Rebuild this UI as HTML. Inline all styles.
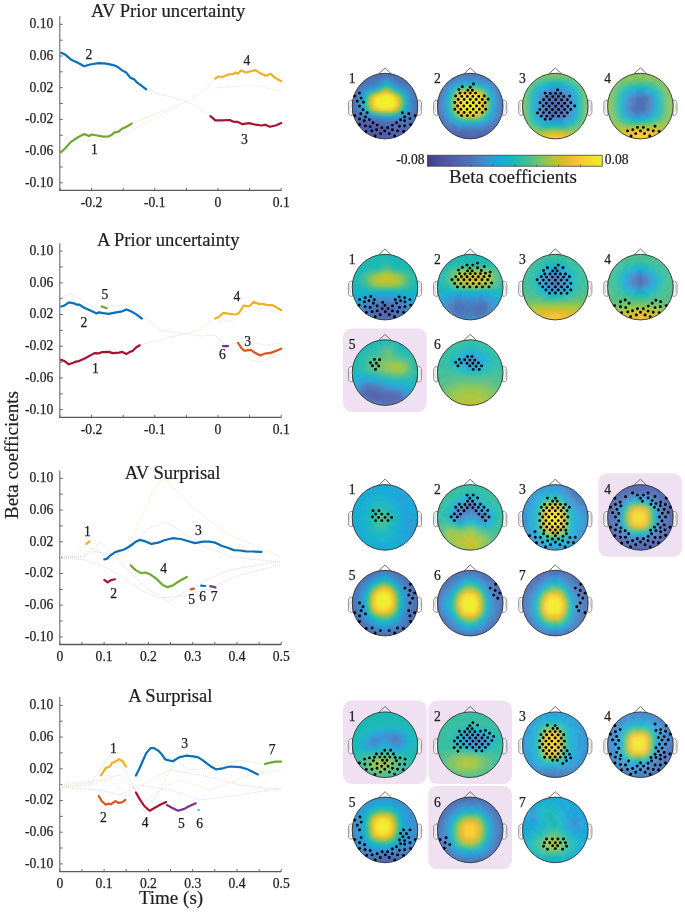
<!DOCTYPE html>
<html><head><meta charset="utf-8"><style>
html,body{margin:0;padding:0;background:#fff;}
svg{display:block;will-change:transform;filter:blur(0.3px)}
.t{font-family:'Liberation Serif',serif;font-size:13.6px;fill:#1e1e1e;stroke:#1e1e1e;stroke-width:0.25px}
.ti{font-family:'Liberation Serif',serif;font-size:18.6px;fill:#1e1e1e;stroke:#1e1e1e;stroke-width:0.2px}
.al{font-family:'Liberation Serif',serif;font-size:19px;fill:#1e1e1e;stroke:#1e1e1e;stroke-width:0.2px}
</style></head><body>
<svg width="685" height="912" viewBox="0 0 685 912">
<rect width="685" height="912" fill="#fff"/>
<path d="M59.75 16.1V190.4" stroke="#8c8c8c" stroke-width="1.4" fill="none"/>
<path d="M59.05 190.4H281.3" stroke="#5a5a5a" stroke-width="1.3" fill="none"/>
<path d="M59.75 24.3h3M59.75 40.2h3M59.75 56.0h3M59.75 71.8h3M59.75 87.7h3M59.75 103.5h3M59.75 119.4h3M59.75 135.3h3M59.75 151.1h3M59.75 167.0h3M59.75 182.8h3M60.0 190.4v-2.6M91.6 190.4v-2.6M123.2 190.4v-2.6M154.8 190.4v-2.6M186.4 190.4v-2.6M218.0 190.4v-2.6M249.6 190.4v-2.6M281.2 190.4v-2.6" stroke="#6a6a6a" stroke-width="1" fill="none"/>
<text x="53.3" y="28.2" text-anchor="end" class="t">0.10</text>
<text x="53.3" y="59.9" text-anchor="end" class="t">0.06</text>
<text x="53.3" y="91.6" text-anchor="end" class="t">0.02</text>
<text x="53.3" y="123.3" text-anchor="end" class="t">-0.02</text>
<text x="53.3" y="155.0" text-anchor="end" class="t">-0.06</text>
<text x="53.3" y="186.7" text-anchor="end" class="t">-0.10</text>
<text x="91.6" y="206.7" text-anchor="middle" class="t">-0.2</text>
<text x="154.8" y="206.7" text-anchor="middle" class="t">-0.1</text>
<text x="218.0" y="206.7" text-anchor="middle" class="t">0</text>
<text x="281.2" y="206.7" text-anchor="middle" class="t">0.1</text>
<text x="168.1" y="16.9" text-anchor="middle" class="ti">AV Prior uncertainty</text>
<path d="M59.75 243.2V417.4" stroke="#8c8c8c" stroke-width="1.4" fill="none"/>
<path d="M59.05 417.4H281.3" stroke="#5a5a5a" stroke-width="1.3" fill="none"/>
<path d="M59.75 251.1h3M59.75 266.9h3M59.75 282.8h3M59.75 298.6h3M59.75 314.5h3M59.75 330.4h3M59.75 346.2h3M59.75 362.1h3M59.75 377.9h3M59.75 393.8h3M59.75 409.6h3M60.0 417.4v-2.6M91.6 417.4v-2.6M123.2 417.4v-2.6M154.8 417.4v-2.6M186.4 417.4v-2.6M218.0 417.4v-2.6M249.6 417.4v-2.6M281.2 417.4v-2.6" stroke="#6a6a6a" stroke-width="1" fill="none"/>
<text x="53.3" y="255.0" text-anchor="end" class="t">0.10</text>
<text x="53.3" y="286.7" text-anchor="end" class="t">0.06</text>
<text x="53.3" y="318.4" text-anchor="end" class="t">0.02</text>
<text x="53.3" y="350.1" text-anchor="end" class="t">-0.02</text>
<text x="53.3" y="381.8" text-anchor="end" class="t">-0.06</text>
<text x="53.3" y="413.5" text-anchor="end" class="t">-0.10</text>
<text x="91.6" y="433.7" text-anchor="middle" class="t">-0.2</text>
<text x="154.8" y="433.7" text-anchor="middle" class="t">-0.1</text>
<text x="218.0" y="433.7" text-anchor="middle" class="t">0</text>
<text x="281.2" y="433.7" text-anchor="middle" class="t">0.1</text>
<text x="168.2" y="246.0" text-anchor="middle" class="ti">A Prior uncertainty</text>
<path d="M59.75 470.4V644.5" stroke="#8c8c8c" stroke-width="1.4" fill="none"/>
<path d="M59.05 644.5H281.3" stroke="#5a5a5a" stroke-width="1.3" fill="none"/>
<path d="M59.75 478.4h3M59.75 494.2h3M59.75 510.1h3M59.75 525.9h3M59.75 541.8h3M59.75 557.6h3M59.75 573.5h3M59.75 589.4h3M59.75 605.2h3M59.75 621.0h3M59.75 636.9h3M59.8 644.5v-2.6M81.9 644.5v-2.6M104.1 644.5v-2.6M126.2 644.5v-2.6M148.4 644.5v-2.6M170.5 644.5v-2.6M192.7 644.5v-2.6M214.8 644.5v-2.6M237.0 644.5v-2.6M259.1 644.5v-2.6M281.2 644.5v-2.6" stroke="#6a6a6a" stroke-width="1" fill="none"/>
<text x="53.3" y="482.3" text-anchor="end" class="t">0.10</text>
<text x="53.3" y="514.0" text-anchor="end" class="t">0.06</text>
<text x="53.3" y="545.7" text-anchor="end" class="t">0.02</text>
<text x="53.3" y="577.4" text-anchor="end" class="t">-0.02</text>
<text x="53.3" y="609.1" text-anchor="end" class="t">-0.06</text>
<text x="53.3" y="640.8" text-anchor="end" class="t">-0.10</text>
<text x="59.8" y="660.8" text-anchor="middle" class="t">0</text>
<text x="104.1" y="660.8" text-anchor="middle" class="t">0.1</text>
<text x="148.4" y="660.8" text-anchor="middle" class="t">0.2</text>
<text x="192.7" y="660.8" text-anchor="middle" class="t">0.3</text>
<text x="237.0" y="660.8" text-anchor="middle" class="t">0.4</text>
<text x="281.2" y="660.8" text-anchor="middle" class="t">0.5</text>
<text x="172.6" y="478.7" text-anchor="middle" class="ti">AV Surprisal</text>
<path d="M59.75 697.1V871.6" stroke="#8c8c8c" stroke-width="1.4" fill="none"/>
<path d="M59.05 871.6H281.3" stroke="#5a5a5a" stroke-width="1.3" fill="none"/>
<path d="M59.75 705.4h3M59.75 721.2h3M59.75 737.1h3M59.75 752.9h3M59.75 768.8h3M59.75 784.6h3M59.75 800.5h3M59.75 816.4h3M59.75 832.2h3M59.75 848.0h3M59.75 863.9h3M59.8 871.6v-2.6M81.9 871.6v-2.6M104.1 871.6v-2.6M126.2 871.6v-2.6M148.4 871.6v-2.6M170.5 871.6v-2.6M192.7 871.6v-2.6M214.8 871.6v-2.6M237.0 871.6v-2.6M259.1 871.6v-2.6M281.2 871.6v-2.6" stroke="#6a6a6a" stroke-width="1" fill="none"/>
<text x="53.3" y="709.3" text-anchor="end" class="t">0.10</text>
<text x="53.3" y="741.0" text-anchor="end" class="t">0.06</text>
<text x="53.3" y="772.7" text-anchor="end" class="t">0.02</text>
<text x="53.3" y="804.4" text-anchor="end" class="t">-0.02</text>
<text x="53.3" y="836.1" text-anchor="end" class="t">-0.06</text>
<text x="53.3" y="867.8" text-anchor="end" class="t">-0.10</text>
<text x="59.8" y="887.9" text-anchor="middle" class="t">0</text>
<text x="104.1" y="887.9" text-anchor="middle" class="t">0.1</text>
<text x="148.4" y="887.9" text-anchor="middle" class="t">0.2</text>
<text x="192.7" y="887.9" text-anchor="middle" class="t">0.3</text>
<text x="237.0" y="887.9" text-anchor="middle" class="t">0.4</text>
<text x="281.2" y="887.9" text-anchor="middle" class="t">0.5</text>
<text x="170.4" y="701.9" text-anchor="middle" class="ti">A Surprisal</text>
<path d="M146.0 89.0 160.0 94.0 175.0 98.0 190.0 103.0 200.0 108.0 210.0 116.0" stroke="#d9dcec" stroke-width="1" fill="none" stroke-dasharray="1 1"/>
<path d="M131.0 124.0 145.0 118.0 160.0 112.0 175.0 106.0 190.0 100.0 200.0 93.0 210.0 85.0 215.0 79.0" stroke="#f0dfb8" stroke-width="1" fill="none" stroke-dasharray="1 1"/>
<path d="M215.0 88.0 240.0 86.0 260.0 86.0 281.0 92.0" stroke="#e6e9c8" stroke-width="1" fill="none" stroke-dasharray="1 1"/>
<path d="M62.0 157.0 80.0 141.0 100.0 140.0 120.0 137.0 140.0 126.0 160.0 115.0 180.0 106.0" stroke="#e3ecd6" stroke-width="1" fill="none" stroke-dasharray="1 1"/>
<path d="M61.0 298.0 69.0 294.0 77.0 297.0 96.0 309.0 103.0 306.0 127.0 305.0 142.0 315.0 160.0 330.0 180.0 333.0 200.0 336.0 215.0 335.0 225.0 345.0 238.0 343.0" stroke="#d9dcec" stroke-width="1" fill="none" stroke-dasharray="1 1"/>
<path d="M140.0 345.0 160.0 340.0 180.0 335.0 200.0 330.0 215.0 318.0" stroke="#f0dcc8" stroke-width="1" fill="none" stroke-dasharray="1 1"/>
<path d="M238.0 348.0 250.0 360.0 260.0 362.0 281.0 354.0" stroke="#e8dada" stroke-width="1" fill="none" stroke-dasharray="1 1"/>
<path d="M218.0 322.0 235.0 320.0 243.0 312.0 255.0 308.0 270.0 310.0 281.0 314.0" stroke="#efe0c8" stroke-width="1" fill="none" stroke-dasharray="1 1"/>
<path d="M238.0 343.0 250.0 342.0 265.0 345.0 281.0 343.0" stroke="#e4dde8" stroke-width="1" fill="none" stroke-dasharray="1 1"/>
<path d="M60.0 557.0 75.0 556.0 86.0 544.0 95.0 552.0 125.0 555.0 140.0 520.0 155.0 487.0 165.0 478.0 175.0 490.0 190.0 505.0 209.0 520.0 230.0 535.0 259.0 547.0 280.0 557.0" stroke="#f3e2b8" stroke-width="1" fill="none" stroke-dasharray="1 1"/>
<path d="M60.0 557.0 85.0 556.0 101.0 542.0 112.0 555.0 125.0 567.0 145.0 587.0 169.0 602.0 192.0 587.0 226.0 571.0 280.0 561.0" stroke="#efd0d0" stroke-width="1" fill="none" stroke-dasharray="1 1"/>
<path d="M60.0 557.0 80.0 558.0 98.0 550.0 110.0 560.0 130.0 545.0 150.0 528.0 165.0 522.0 180.0 530.0 200.0 545.0 230.0 556.0 260.0 560.0 280.0 562.0" stroke="#d6dcf0" stroke-width="1" fill="none" stroke-dasharray="1 1"/>
<path d="M60.0 558.0 85.0 560.0 100.0 565.0 120.0 575.0 140.0 590.0 160.0 598.0 185.0 596.0 210.0 588.0 240.0 575.0 280.0 565.0" stroke="#d6dcf0" stroke-width="1" fill="none" stroke-dasharray="1 1"/>
<path d="M60.0 787.0 90.0 785.0 110.0 755.0 125.0 770.0 145.0 812.0 160.0 790.0 175.0 760.0 190.0 770.0 210.0 768.0 240.0 760.0 265.0 764.0 281.0 762.0" stroke="#d3e4c4" stroke-width="1" fill="none" stroke-dasharray="1 1"/>
<path d="M60.0 785.0 100.0 780.0 120.0 775.0 135.0 790.0 150.0 780.0 170.0 770.0 200.0 775.0 240.0 785.0 281.0 790.0" stroke="#efd3d3" stroke-width="1" fill="none" stroke-dasharray="1 1"/>
<path d="M60.0 787.0 100.0 790.0 120.0 795.0 140.0 785.0 170.0 790.0 200.0 800.0 240.0 795.0 281.0 788.0" stroke="#d6dcf0" stroke-width="1" fill="none" stroke-dasharray="1 1"/>
<path d="M60.0 787.0 110.0 780.0 140.0 805.0 160.0 790.0 180.0 780.0 210.0 790.0 250.0 775.0 281.0 770.0" stroke="#f3e4bc" stroke-width="1" fill="none" stroke-dasharray="1 1"/>
<path d="M61.1 52.8 65.2 54.6 71.1 59.7 76.9 62.2 84.2 66.3 90.0 64.5 98.8 63.1 106.1 63.6 113.4 65.1 117.8 67.0 122.2 70.4 126.5 72.8 130.2 77.7 133.8 79.1 136.8 82.3 141.1 85.3 146.2 89.3" stroke="#0a6fb8" stroke-width="2.2" fill="none" stroke-linejoin="round" stroke-linecap="round"/>
<path d="M61.1 152.3 65.2 148.2 71.1 141.8 78.4 137.0 84.2 134.1 89.3 136.0 91.5 134.5 97.3 135.5 103.2 136.7 109.0 136.3 111.9 134.8 114.1 132.6 118.5 131.6 122.2 128.7 126.5 126.8 131.6 123.6" stroke="#6fa82f" stroke-width="2.2" fill="none" stroke-linejoin="round" stroke-linecap="round"/>
<path d="M215.3 78.6 218.5 76.5 222.6 77.0 228.2 74.4 233.0 74.1 235.4 72.5 237.8 73.8 241.0 70.6 245.8 72.5 250.7 71.2 255.5 70.1 260.3 73.3 265.9 75.7 270.7 73.8 274.7 77.6 281.2 81.3" stroke="#edb120" stroke-width="2.2" fill="none" stroke-linejoin="round" stroke-linecap="round"/>
<path d="M210.5 116.2 215.3 120.3 221.8 120.3 229.8 120.0 233.0 121.6 237.8 121.9 242.6 124.2 249.0 123.1 255.5 124.7 261.9 125.5 265.1 124.7 269.9 126.8 276.4 125.2 281.2 123.1" stroke="#a2142f" stroke-width="2.2" fill="none" stroke-linejoin="round" stroke-linecap="round"/>
<path d="M61.1 306.5 63.8 305.8 68.9 302.4 74.0 303.3 76.9 304.7 79.1 304.5 84.2 307.7 91.5 310.9 96.6 313.4 98.8 312.3 103.2 313.1 109.0 313.8 114.9 312.6 122.2 311.3 126.5 309.4 130.9 311.3 136.0 314.1 141.9 318.6" stroke="#0a6fb8" stroke-width="2.2" fill="none" stroke-linejoin="round" stroke-linecap="round"/>
<path d="M101.7 306.5 106.8 308.2" stroke="#6fa82f" stroke-width="2.2" fill="none" stroke-linejoin="round" stroke-linecap="round"/>
<path d="M61.1 359.9 63.8 360.7 68.9 364.3 73.2 362.8 76.9 361.4 79.1 361.1 85.7 358.0 94.4 353.1 98.8 353.4 101.7 352.2 109.0 351.9 112.7 353.1 119.2 352.6 122.2 351.9 126.5 354.1 130.2 351.6 132.4 351.2 136.0 347.5 139.7 345.3" stroke="#a2142f" stroke-width="2.2" fill="none" stroke-linejoin="round" stroke-linecap="round"/>
<path d="M215.3 318.5 218.5 317.3 223.4 312.9 228.2 313.7 234.6 314.5 237.8 314.0 240.2 311.3 243.4 305.7 249.1 306.5 253.9 301.7 258.7 304.1 261.9 303.8 266.7 304.9 273.1 305.4 281.2 310.2" stroke="#edb120" stroke-width="2.2" fill="none" stroke-linejoin="round" stroke-linecap="round"/>
<path d="M238.1 343.0 241.0 347.4 244.2 350.7 247.4 350.3 250.7 349.9 255.5 353.1 260.3 355.5 265.1 353.6 271.5 352.6 276.4 350.7 281.2 348.7" stroke="#d9541a" stroke-width="2.2" fill="none" stroke-linejoin="round" stroke-linecap="round"/>
<path d="M223.0 346.2 227.9 346.2" stroke="#7e2f8e" stroke-width="2.2" fill="none" stroke-linejoin="round" stroke-linecap="round"/>
<path d="M86.4 543.9 89.6 541.4" stroke="#edb120" stroke-width="2.2" fill="none" stroke-linejoin="round" stroke-linecap="round"/>
<path d="M104.3 579.8 107.6 582.3 110.5 580.4 112.7 579.8 114.9 579.3" stroke="#a2142f" stroke-width="2.2" fill="none" stroke-linejoin="round" stroke-linecap="round"/>
<path d="M104.3 559.3 106.8 558.9 110.5 555.3 114.9 552.3 119.2 550.9 123.6 549.7 129.5 546.5 135.3 542.1 139.7 539.9 145.5 541.4 151.4 543.9 158.2 542.7 164.3 540.2 172.5 538.2 180.7 539.0 186.8 540.7 195.0 543.1 203.1 541.7 209.3 541.7 215.4 542.7 221.5 545.8 227.7 547.8 233.8 550.1 239.9 550.5 246.1 551.3 252.2 551.5 261.4 551.9" stroke="#0a6fb8" stroke-width="2.2" fill="none" stroke-linejoin="round" stroke-linecap="round"/>
<path d="M130.6 565.2 135.3 569.9 141.1 573.1 145.5 572.5 149.9 574.2 156.1 578.5 162.3 584.6 167.4 587.3 172.5 585.6 178.6 581.5 186.8 577.0" stroke="#6fa82f" stroke-width="2.2" fill="none" stroke-linejoin="round" stroke-linecap="round"/>
<path d="M190.9 589.3 193.9 588.7" stroke="#d9541a" stroke-width="2.2" fill="none" stroke-linejoin="round" stroke-linecap="round"/>
<path d="M201.1 585.6 205.2 586.0" stroke="#0a6fb8" stroke-width="2.2" fill="none" stroke-linejoin="round" stroke-linecap="round"/>
<path d="M210.3 586.2 215.4 587.3" stroke="#7e2f8e" stroke-width="2.2" fill="none" stroke-linejoin="round" stroke-linecap="round"/>
<path d="M100.9 775.3 103.2 772.1 105.8 767.9 107.6 767.4 110.2 766.2 111.9 763.0 115.4 761.6 119.0 759.2 122.4 760.9 126.0 766.5" stroke="#edb120" stroke-width="2.2" fill="none" stroke-linejoin="round" stroke-linecap="round"/>
<path d="M98.8 796.0 101.4 800.7 105.8 804.7 108.4 803.7 111.1 804.2 115.4 801.2 119.0 803.0 122.4 802.1 125.4 799.8" stroke="#d9541a" stroke-width="2.2" fill="none" stroke-linejoin="round" stroke-linecap="round"/>
<path d="M135.9 775.6 139.1 769.2 142.6 761.3 146.1 753.4 150.5 748.1 154.0 748.1 158.4 750.8 161.9 754.6 165.4 759.5 168.9 760.4 172.9 761.3 179.0 757.4 186.0 755.7 193.0 756.4 198.3 757.4 203.5 760.9 210.5 766.2 215.8 769.3 222.8 768.3 229.8 766.5 240.3 767.1 247.3 769.2 252.6 771.8 257.9 774.4" stroke="#0a6fb8" stroke-width="2.2" fill="none" stroke-linejoin="round" stroke-linecap="round"/>
<path d="M135.9 792.5 139.1 798.1 144.3 806.0 149.6 810.7 154.9 807.7 160.1 804.7 166.2 801.9" stroke="#a2142f" stroke-width="2.2" fill="none" stroke-linejoin="round" stroke-linecap="round"/>
<path d="M166.8 805.1 172.0 807.7 178.1 810.7 184.3 808.9 189.5 806.0 195.7 803.3" stroke="#7e2f8e" stroke-width="2.2" fill="none" stroke-linejoin="round" stroke-linecap="round"/>
<path d="M198.2 810.0 199.0 810.0" stroke="#4dbeee" stroke-width="2.2" fill="none" stroke-linejoin="round" stroke-linecap="round"/>
<path d="M265.2 763.9 270.1 762.7 275.4 761.6 281.0 761.6" stroke="#6fa82f" stroke-width="2.2" fill="none" stroke-linejoin="round" stroke-linecap="round"/>
<text x="89.0" y="58.7" text-anchor="middle" class="t">2</text>
<text x="94.4" y="153.8" text-anchor="middle" class="t">1</text>
<text x="246.9" y="65.3" text-anchor="middle" class="t">4</text>
<text x="244.5" y="144.4" text-anchor="middle" class="t">3</text>
<text x="104.9" y="299.2" text-anchor="middle" class="t">5</text>
<text x="83.9" y="326.6" text-anchor="middle" class="t">2</text>
<text x="95.5" y="372.6" text-anchor="middle" class="t">1</text>
<text x="237.0" y="300.9" text-anchor="middle" class="t">4</text>
<text x="247.6" y="345.5" text-anchor="middle" class="t">3</text>
<text x="222.5" y="359" text-anchor="middle" class="t">6</text>
<text x="87.5" y="535.5" text-anchor="middle" class="t">1</text>
<text x="113.7" y="597.6" text-anchor="middle" class="t">2</text>
<text x="198.4" y="534.5" text-anchor="middle" class="t">3</text>
<text x="163.7" y="573" text-anchor="middle" class="t">4</text>
<text x="191.7" y="604.4" text-anchor="middle" class="t">5</text>
<text x="202.6" y="601" text-anchor="middle" class="t">6</text>
<text x="214.1" y="601" text-anchor="middle" class="t">7</text>
<text x="113.4" y="752.9" text-anchor="middle" class="t">1</text>
<text x="103.4" y="822.2" text-anchor="middle" class="t">2</text>
<text x="184.7" y="747.6" text-anchor="middle" class="t">3</text>
<text x="145.2" y="827" text-anchor="middle" class="t">4</text>
<text x="181.3" y="827.9" text-anchor="middle" class="t">5</text>
<text x="199.6" y="828" text-anchor="middle" class="t">6</text>
<text x="272.1" y="754.3" text-anchor="middle" class="t">7</text>
<text x="171" y="904.4" text-anchor="middle" class="al">Time (s)</text>
<text transform="translate(17.8 455.1) rotate(-90)" text-anchor="middle" class="al">Beta coefficients</text>
<defs><linearGradient id="cb" x1="0" x2="1" y1="0" y2="0"><stop offset="0.0000" stop-color="#423c8f"/><stop offset="0.0312" stop-color="#474294"/><stop offset="0.0625" stop-color="#4b4c9c"/><stop offset="0.0938" stop-color="#4f56a3"/><stop offset="0.1250" stop-color="#505ca8"/><stop offset="0.1562" stop-color="#5061ab"/><stop offset="0.1875" stop-color="#5067b0"/><stop offset="0.2188" stop-color="#4e6eb4"/><stop offset="0.2500" stop-color="#4b75b8"/><stop offset="0.2812" stop-color="#487fc0"/><stop offset="0.3125" stop-color="#4289c9"/><stop offset="0.3438" stop-color="#3694d2"/><stop offset="0.3750" stop-color="#289ed7"/><stop offset="0.4062" stop-color="#1ba8d8"/><stop offset="0.4375" stop-color="#18b0d0"/><stop offset="0.4688" stop-color="#18b5c4"/><stop offset="0.5000" stop-color="#1cb9b4"/><stop offset="0.5312" stop-color="#2dbca8"/><stop offset="0.5625" stop-color="#3fbe9a"/><stop offset="0.5938" stop-color="#51bf8a"/><stop offset="0.6250" stop-color="#69c274"/><stop offset="0.6562" stop-color="#82c45e"/><stop offset="0.6875" stop-color="#99c649"/><stop offset="0.7188" stop-color="#b0c439"/><stop offset="0.7500" stop-color="#c8c02d"/><stop offset="0.7812" stop-color="#dbbc2d"/><stop offset="0.8125" stop-color="#ebbb2f"/><stop offset="0.8438" stop-color="#f8bf36"/><stop offset="0.8750" stop-color="#f8c932"/><stop offset="0.9062" stop-color="#f5d42d"/><stop offset="0.9375" stop-color="#f3dd2d"/><stop offset="0.9688" stop-color="#f1e62d"/><stop offset="1.0000" stop-color="#f0ee2d"/></linearGradient></defs>
<rect x="427.4" y="155.2" width="174.8" height="11" fill="url(#cb)" stroke="#444" stroke-width="0.8"/>
<path d="M449.2 166.2v-1.6M471.1 166.2v-1.6M492.9 166.2v-1.6M514.8 166.2v-1.6M536.6 166.2v-1.6M558.5 166.2v-1.6M580.4 166.2v-1.6" stroke="#444" stroke-width="0.7"/>
<text x="424.6" y="164.3" text-anchor="end" class="t">-0.08</text>
<text x="604.8" y="164.3" class="t">0.08</text>
<text x="513" y="182.7" text-anchor="middle" class="al">Beta coefficients</text>
<defs><filter id="bl" x="-10%" y="-10%" width="120%" height="120%" color-interpolation-filters="sRGB"><feGaussianBlur stdDeviation="1.6"/></filter><clipPath id="cc"><circle cx="0" cy="0" r="32.8"/></clipPath></defs>
<g transform="translate(385.0 106.1)">
<path d="M-32.5 -5.9 C-35.0 -6.3 -36.599999999999994 -5 -36.599999999999994 -2 L-36.599999999999994 5.5 C-36.599999999999994 8.5 -35.0 9.6 -32.5 9.2Z" fill="#fff" stroke="#777" stroke-width="0.8"/><path d="M32.5 -5.9 C35.0 -6.3 36.599999999999994 -5 36.599999999999994 -2 L36.599999999999994 5.5 C36.599999999999994 8.5 35.0 9.6 32.5 9.2Z" fill="#fff" stroke="#777" stroke-width="0.8"/>
<path d="M-6.3 -32.199999999999996 L0 -38.199999999999996 L6.3 -32.199999999999996" fill="none" stroke="#555" stroke-width="0.85"/>
<path d="M-34.199999999999996 -3.8 C-35.599999999999994 -1.5 -35.599999999999994 3 -34.4 6.2 M34.199999999999996 -3.8 C35.599999999999994 -1.5 35.599999999999994 3 34.4 6.2" fill="none" stroke="#aaa" stroke-width="0.6"/>
<g clip-path="url(#cc)"><g filter="url(#bl)"><path d="M-39 -37.5h78M-39 -34.5h33M9 -34.5h30M-39 -31.5h21M18 -31.5h21M-39 -28.5h12M27 -28.5h12M-39 -25.5h9M30 -25.5h9M-39 -22.5h6M33 -22.5h6M-39 -19.5h3M36 -19.5h3M-39 10.5h6M-39 13.5h18M36 13.5h3M-39 16.5h12M-9 16.5h6M33 16.5h6M-39 19.5h6M0 19.5h9M30 19.5h9M-39 22.5h6M6 22.5h33M-39 25.5h3M9 25.5h30M-39 28.5h6M12 28.5h27M-39 31.5h6M12 31.5h27M-39 34.5h9M9 34.5h30M-39 37.5h15M6 37.5h33" stroke="#5069b2" stroke-width="3.3"/><path d="M-6 -34.5h15M-18 -31.5h18M3 -31.5h15M-27 -28.5h18M9 -28.5h18M-30 -25.5h12M18 -25.5h12M-33 -22.5h9M24 -22.5h9M-36 -19.5h9M27 -19.5h9M-39 -16.5h9M30 -16.5h9M-39 -13.5h6M33 -13.5h6M-39 -10.5h6M33 -10.5h6M-39 -7.5h6M33 -7.5h6M-39 -4.5h3M36 -4.5h3M-39 -1.5h3M36 -1.5h3M-39 1.5h6M33 1.5h6M-39 4.5h6M33 4.5h6M-39 7.5h9M33 7.5h6M-33 10.5h9M30 10.5h9M-21 13.5h9M27 13.5h9M-3 16.5h9M21 16.5h12M9 19.5h21" stroke="#4e6fb5" stroke-width="3.3"/><path d="M0 -31.5h3M-9 -28.5h6M6 -28.5h3M-18 -25.5h12M9 -25.5h9M-24 -22.5h9M15 -22.5h9M-27 -19.5h6M21 -19.5h6M-30 -16.5h3M27 -16.5h3M-33 -13.5h6M27 -13.5h6M-33 -10.5h3M30 -10.5h3M-33 -7.5h3M30 -7.5h3M-36 -4.5h6M30 -4.5h6M-36 -1.5h6M30 -1.5h6M-33 1.5h3M30 1.5h3M-33 4.5h6M30 4.5h3M-30 7.5h3M27 7.5h6M-24 10.5h3M24 10.5h6M-12 13.5h6M21 13.5h6M6 16.5h15" stroke="#4b75b8" stroke-width="3.3"/><path d="M-3 -28.5h9M-15 -22.5h6M12 -22.5h3M-21 -19.5h3M18 -19.5h3M-27 -16.5h3M24 -16.5h3M-30 -10.5h3M27 -10.5h3M-30 -7.5h3M27 -7.5h3M-30 -4.5h3M27 -4.5h3M-30 -1.5h3M27 -1.5h3M-30 1.5h3M27 1.5h3M27 4.5h3M-27 7.5h3M24 7.5h3M-21 10.5h3M21 10.5h3M-6 13.5h6M12 13.5h9" stroke="#487dbe" stroke-width="3.3"/><path d="M-6 -25.5h3M6 -25.5h3M-9 -22.5h3M9 -22.5h3M-18 -19.5h3M15 -19.5h3M-24 -16.5h3M21 -16.5h3M-27 -13.5h3M24 -13.5h3M-27 -10.5h3M24 -10.5h3M-27 4.5h3M24 4.5h3M-24 7.5h3M-18 10.5h3M18 10.5h3M0 13.5h12" stroke="#4685c5" stroke-width="3.3"/><path d="M-3 -25.5h3M3 -25.5h3M-15 -19.5h6M12 -19.5h3M-21 -16.5h3M18 -16.5h3M-24 -13.5h3M21 -13.5h3M-27 -7.5h3M24 -7.5h3M-27 -4.5h3M24 -4.5h3M-27 -1.5h3M24 -1.5h3M-27 1.5h3M24 1.5h3M21 7.5h3M-15 10.5h3" stroke="#3d8ecc" stroke-width="3.3"/><path d="M0 -25.5h3M-6 -22.5h3M6 -22.5h3M-9 -19.5h3M9 -19.5h3M-18 -16.5h3M15 -16.5h3M-24 4.5h3M-21 7.5h3M-12 10.5h3M15 10.5h3" stroke="#3496d4" stroke-width="3.3"/><path d="M-3 -22.5h3M3 -22.5h3M-6 -19.5h3M6 -19.5h3M-12 -16.5h3M-24 -4.5h3M21 -4.5h3M21 -1.5h3M-21 4.5h3M0 10.5h6" stroke="#19acd4" stroke-width="3.3"/><path d="M0 -22.5h3M9 -16.5h3M18 4.5h3M15 7.5h3" stroke="#16b3cd" stroke-width="3.3"/><path d="M-3 -19.5h3M-21 -7.5h3M-21 1.5h3M18 1.5h3M12 7.5h3" stroke="#1cb9b4" stroke-width="3.3"/><path d="M0 -19.5h3M-18 -10.5h3M15 -10.5h3M-9 7.5h3" stroke="#46be94" stroke-width="3.3"/><path d="M3 -19.5h3M6 -16.5h3M18 -7.5h3M-21 -4.5h3M18 -4.5h3M-21 -1.5h3M18 -1.5h3M-18 4.5h3M-12 7.5h3" stroke="#2abcaa" stroke-width="3.3"/><path d="M-15 -16.5h3M12 -16.5h3M-21 -13.5h3M18 -13.5h3M-24 -7.5h3M21 -7.5h3M-24 -1.5h3M-24 1.5h3M21 1.5h3M-18 7.5h3M-6 10.5h6M6 10.5h6" stroke="#1ca6da" stroke-width="3.3"/><path d="M-9 -16.5h3M-18 -13.5h3M15 -13.5h3M-21 -10.5h3M18 -10.5h3M-15 7.5h3" stroke="#19b6c0" stroke-width="3.3"/><path d="M-6 -16.5h3M-15 -13.5h3M12 -13.5h3M15 4.5h3M9 7.5h3" stroke="#38bea0" stroke-width="3.3"/><path d="M-3 -16.5h3M3 -16.5h3M-18 -7.5h3M15 -7.5h3M-15 4.5h3M12 4.5h3" stroke="#7dc462" stroke-width="3.3"/><path d="M0 -16.5h3M6 -13.5h3M-15 -10.5h3M12 -10.5h3" stroke="#a2c741" stroke-width="3.3"/><path d="M-12 -13.5h3M-6 7.5h3M6 7.5h3" stroke="#55bf87" stroke-width="3.3"/><path d="M-9 -13.5h3M-18 -4.5h3M15 -4.5h3M-18 -1.5h3M15 -1.5h3" stroke="#90c651" stroke-width="3.3"/><path d="M-6 -13.5h3M-12 4.5h3" stroke="#b5c437" stroke-width="3.3"/><path d="M-3 -13.5h3M3 -13.5h3M-12 -10.5h3M9 -10.5h3M-15 -1.5h3M-9 4.5h3" stroke="#e6b92d" stroke-width="3.3"/><path d="M0 -13.5h3M-6 4.5h12" stroke="#fac037" stroke-width="3.3"/><path d="M9 -13.5h3M-18 1.5h3M15 1.5h3M-3 7.5h9" stroke="#69c274" stroke-width="3.3"/><path d="M-24 -10.5h3M21 -10.5h3M21 4.5h3M18 7.5h3M-9 10.5h3M12 10.5h3" stroke="#289ed7" stroke-width="3.3"/><path d="M-9 -10.5h3M-12 1.5h3M9 1.5h3" stroke="#f8c932" stroke-width="3.3"/><path d="M-6 -10.5h3M-12 -1.5h3M9 -1.5h3" stroke="#f4da2d" stroke-width="3.3"/><path d="M-3 -10.5h3M3 -10.5h3M6 1.5h3" stroke="#f1e82d" stroke-width="3.3"/><path d="M0 -10.5h3M-9 -7.5h18M-9 -4.5h18M-9 -1.5h18M-6 1.5h12" stroke="#f0ee2d" stroke-width="3.3"/><path d="M6 -10.5h3M-12 -7.5h3M9 -7.5h3" stroke="#f5d22d" stroke-width="3.3"/><path d="M-15 -7.5h3M12 -7.5h3M12 1.5h3" stroke="#d7bc2d" stroke-width="3.3"/><path d="M-15 -4.5h3M12 -4.5h3M12 -1.5h3M6 4.5h3" stroke="#f0bc32" stroke-width="3.3"/><path d="M-12 -4.5h3M9 -4.5h3M-9 1.5h3" stroke="#f2e12d" stroke-width="3.3"/><path d="M-15 1.5h3M9 4.5h3" stroke="#c8c02d" stroke-width="3.3"/><path d="M-27 16.5h18M-33 19.5h9M-6 19.5h6M-33 22.5h9M0 22.5h6M-36 25.5h9M3 25.5h6M-33 28.5h9M3 28.5h9M-33 31.5h12M0 31.5h12M-30 34.5h18M-9 34.5h18M-24 37.5h30" stroke="#5064ae" stroke-width="3.3"/><path d="M-24 19.5h18M-24 22.5h6M-6 22.5h6M-27 25.5h9M-3 25.5h6M-24 28.5h9M-6 28.5h9M-21 31.5h21M-12 34.5h3" stroke="#5060aa" stroke-width="3.3"/><path d="M-18 22.5h12M-18 25.5h15M-15 28.5h9" stroke="#505ca8" stroke-width="3.3"/></g></g>
<circle r="32.8" fill="none" stroke="#333" stroke-width="0.9"/>
<path d="M-26.9 -13.0a1.45 1.45 0 1 0 2.9 0a1.45 1.45 0 1 0 -2.9 0M-31.6 -10.0a1.45 1.45 0 1 0 2.9 0a1.45 1.45 0 1 0 -2.9 0M-25.3 -8.0a1.45 1.45 0 1 0 2.9 0a1.45 1.45 0 1 0 -2.9 0M-29.2 -5.0a1.45 1.45 0 1 0 2.9 0a1.45 1.45 0 1 0 -2.9 0M-23.0 -3.9a1.45 1.45 0 1 0 2.9 0a1.45 1.45 0 1 0 -2.9 0M-26.9 0.2a1.45 1.45 0 1 0 2.9 0a1.45 1.45 0 1 0 -2.9 0M-23.4 3.7a1.45 1.45 0 1 0 2.9 0a1.45 1.45 0 1 0 -2.9 0M-19.3 6.7a1.45 1.45 0 1 0 2.9 0a1.45 1.45 0 1 0 -2.9 0M-25.7 7.6a1.45 1.45 0 1 0 2.9 0a1.45 1.45 0 1 0 -2.9 0M-31.6 9.6a1.45 1.45 0 1 0 2.9 0a1.45 1.45 0 1 0 -2.9 0M-21.0 10.8a1.45 1.45 0 1 0 2.9 0a1.45 1.45 0 1 0 -2.9 0M-26.9 12.8a1.45 1.45 0 1 0 2.9 0a1.45 1.45 0 1 0 -2.9 0M-17.1 13.5a1.45 1.45 0 1 0 2.9 0a1.45 1.45 0 1 0 -2.9 0M-22.2 14.6a1.45 1.45 0 1 0 2.9 0a1.45 1.45 0 1 0 -2.9 0M-13.4 16.6a1.45 1.45 0 1 0 2.9 0a1.45 1.45 0 1 0 -2.9 0M-26.9 18.4a1.45 1.45 0 1 0 2.9 0a1.45 1.45 0 1 0 -2.9 0M-21.0 19.8a1.45 1.45 0 1 0 2.9 0a1.45 1.45 0 1 0 -2.9 0M-16.3 20.5a1.45 1.45 0 1 0 2.9 0a1.45 1.45 0 1 0 -2.9 0M-9.3 19.0a1.45 1.45 0 1 0 2.9 0a1.45 1.45 0 1 0 -2.9 0M-4.6 21.7a1.45 1.45 0 1 0 2.9 0a1.45 1.45 0 1 0 -2.9 0M1.2 21.7a1.45 1.45 0 1 0 2.9 0a1.45 1.45 0 1 0 -2.9 0M5.9 19.0a1.45 1.45 0 1 0 2.9 0a1.45 1.45 0 1 0 -2.9 0M10.0 16.6a1.45 1.45 0 1 0 2.9 0a1.45 1.45 0 1 0 -2.9 0M14.1 13.7a1.45 1.45 0 1 0 2.9 0a1.45 1.45 0 1 0 -2.9 0M15.9 6.7a1.45 1.45 0 1 0 2.9 0a1.45 1.45 0 1 0 -2.9 0M22.3 7.6a1.45 1.45 0 1 0 2.9 0a1.45 1.45 0 1 0 -2.9 0M18.2 10.8a1.45 1.45 0 1 0 2.9 0a1.45 1.45 0 1 0 -2.9 0M28.8 9.6a1.45 1.45 0 1 0 2.9 0a1.45 1.45 0 1 0 -2.9 0M23.5 12.5a1.45 1.45 0 1 0 2.9 0a1.45 1.45 0 1 0 -2.9 0M18.2 14.6a1.45 1.45 0 1 0 2.9 0a1.45 1.45 0 1 0 -2.9 0M13.0 20.1a1.45 1.45 0 1 0 2.9 0a1.45 1.45 0 1 0 -2.9 0M18.2 19.8a1.45 1.45 0 1 0 2.9 0a1.45 1.45 0 1 0 -2.9 0M24.1 18.4a1.45 1.45 0 1 0 2.9 0a1.45 1.45 0 1 0 -2.9 0M-20.4 25.4a1.45 1.45 0 1 0 2.9 0a1.45 1.45 0 1 0 -2.9 0M-14.6 24.8a1.45 1.45 0 1 0 2.9 0a1.45 1.45 0 1 0 -2.9 0M-9.9 23.7a1.45 1.45 0 1 0 2.9 0a1.45 1.45 0 1 0 -2.9 0M-5.8 27.5a1.45 1.45 0 1 0 2.9 0a1.45 1.45 0 1 0 -2.9 0M-1.7 24.8a1.45 1.45 0 1 0 2.9 0a1.45 1.45 0 1 0 -2.9 0M2.8 27.5a1.45 1.45 0 1 0 2.9 0a1.45 1.45 0 1 0 -2.9 0M5.9 23.7a1.45 1.45 0 1 0 2.9 0a1.45 1.45 0 1 0 -2.9 0M11.2 24.8a1.45 1.45 0 1 0 2.9 0a1.45 1.45 0 1 0 -2.9 0M17.1 25.4a1.45 1.45 0 1 0 2.9 0a1.45 1.45 0 1 0 -2.9 0M-11.3 29.9a1.45 1.45 0 1 0 2.9 0a1.45 1.45 0 1 0 -2.9 0M8.3 29.9a1.45 1.45 0 1 0 2.9 0a1.45 1.45 0 1 0 -2.9 0" fill="#000"/>
</g>
<text x="352.2" y="82.69999999999999" class="t" text-anchor="middle">1</text>
<g transform="translate(470.2 106.1)">
<path d="M-32.5 -5.9 C-35.0 -6.3 -36.599999999999994 -5 -36.599999999999994 -2 L-36.599999999999994 5.5 C-36.599999999999994 8.5 -35.0 9.6 -32.5 9.2Z" fill="#fff" stroke="#777" stroke-width="0.8"/><path d="M32.5 -5.9 C35.0 -6.3 36.599999999999994 -5 36.599999999999994 -2 L36.599999999999994 5.5 C36.599999999999994 8.5 35.0 9.6 32.5 9.2Z" fill="#fff" stroke="#777" stroke-width="0.8"/>
<path d="M-6.3 -32.199999999999996 L0 -38.199999999999996 L6.3 -32.199999999999996" fill="none" stroke="#555" stroke-width="0.85"/>
<path d="M-34.199999999999996 -3.8 C-35.599999999999994 -1.5 -35.599999999999994 3 -34.4 6.2 M34.199999999999996 -3.8 C35.599999999999994 -1.5 35.599999999999994 3 34.4 6.2" fill="none" stroke="#aaa" stroke-width="0.6"/>
<g clip-path="url(#cc)"><g filter="url(#bl)"><path d="M-39 -37.5h12M27 -37.5h12M-39 -34.5h9M30 -34.5h9M-39 -31.5h6M33 -31.5h6M-39 -28.5h3M36 -28.5h3M-39 19.5h3M36 19.5h3M-39 22.5h9M30 22.5h9M-36 25.5h15M21 25.5h15M-21 28.5h18M3 28.5h18" stroke="#5064ae" stroke-width="3.3"/><path d="M-27 -37.5h15M12 -37.5h15M-30 -34.5h12M18 -34.5h12M-33 -31.5h9M24 -31.5h9M-36 -28.5h9M27 -28.5h9M-39 -25.5h9M30 -25.5h9M-39 -22.5h6M33 -22.5h6M-39 -19.5h6M33 -19.5h6M-39 -16.5h3M36 -16.5h3M-39 -13.5h3M36 -13.5h3M-39 -10.5h3M36 -10.5h3M-39 -7.5h3M36 -7.5h3M-39 4.5h3M36 4.5h3M-39 7.5h3M36 7.5h3M-39 10.5h3M36 10.5h3M-39 13.5h6M33 13.5h6M-39 16.5h6M33 16.5h6M-36 19.5h9M27 19.5h9M-30 22.5h9M21 22.5h9M-21 25.5h9M12 25.5h9M-3 28.5h6" stroke="#5069b2" stroke-width="3.3"/><path d="M-12 -37.5h24M-18 -34.5h12M6 -34.5h12M-24 -31.5h9M15 -31.5h9M-27 -28.5h6M21 -28.5h6M-30 -25.5h6M24 -25.5h6M-33 -22.5h6M27 -22.5h6M-33 -19.5h3M30 -19.5h3M-36 -16.5h6M30 -16.5h6M-36 -13.5h3M33 -13.5h3M-36 -10.5h3M33 -10.5h3M-36 -7.5h3M33 -7.5h3M-39 -4.5h6M33 -4.5h6M-39 -1.5h6M33 -1.5h6M-39 1.5h6M33 1.5h6M-36 4.5h3M33 4.5h3M-36 7.5h3M33 7.5h3M-36 10.5h6M30 10.5h6M-33 13.5h3M30 13.5h3M-33 16.5h6M27 16.5h6M-27 19.5h3M24 19.5h3M-21 22.5h3M18 22.5h3M-12 25.5h24" stroke="#4e6fb5" stroke-width="3.3"/><path d="M-6 -34.5h12M-15 -31.5h9M6 -31.5h9M-21 -28.5h6M15 -28.5h6M-24 -25.5h3M21 -25.5h3M-27 -22.5h3M24 -22.5h3M-30 -19.5h3M27 -19.5h3M-30 -16.5h3M27 -16.5h3M-33 -13.5h3M30 -13.5h3M-33 -10.5h3M30 -10.5h3M-33 -7.5h3M30 -7.5h3M-33 -4.5h3M30 -4.5h3M-33 -1.5h3M30 -1.5h3M-33 1.5h3M30 1.5h3M-33 4.5h3M30 4.5h3M-33 7.5h3M30 7.5h3M-30 13.5h3M27 13.5h3M-27 16.5h3M24 16.5h3M-24 19.5h3M21 19.5h3M-18 22.5h6M12 22.5h6" stroke="#4b75b8" stroke-width="3.3"/><path d="M-6 -31.5h12M-15 -28.5h6M9 -28.5h6M-21 -25.5h6M15 -25.5h6M-24 -22.5h3M21 -22.5h3M-27 -19.5h3M24 -19.5h3M-30 -13.5h3M27 -13.5h3M-30 -10.5h3M27 -10.5h3M-30 -7.5h3M27 -7.5h3M-30 4.5h3M27 4.5h3M-30 7.5h3M27 7.5h3M-30 10.5h3M27 10.5h3M-27 13.5h3M24 13.5h3M-24 16.5h3M21 16.5h3M-21 19.5h6M15 19.5h6M-12 22.5h24" stroke="#487dbe" stroke-width="3.3"/><path d="M-9 -28.5h18M-15 -25.5h3M12 -25.5h3M-21 -22.5h3M18 -22.5h3M-24 -19.5h3M21 -19.5h3M-27 -16.5h3M24 -16.5h3M-27 -13.5h3M24 -13.5h3M-30 -4.5h3M27 -4.5h3M-30 -1.5h3M27 -1.5h3M-30 1.5h3M27 1.5h3M-27 10.5h3M24 10.5h3M-21 16.5h3M18 16.5h3M-15 19.5h3M12 19.5h3" stroke="#4685c5" stroke-width="3.3"/><path d="M-12 -25.5h6M6 -25.5h6M-18 -22.5h3M15 -22.5h3M-24 -16.5h3M21 -16.5h3M-27 -10.5h3M24 -10.5h3M-27 4.5h3M24 4.5h3M-27 7.5h3M24 7.5h3M-24 13.5h3M21 13.5h3M-12 19.5h3M9 19.5h3" stroke="#3d8ecc" stroke-width="3.3"/><path d="M-6 -25.5h12M-15 -22.5h3M12 -22.5h3M-21 -19.5h3M18 -19.5h3M-27 -7.5h3M24 -7.5h3M-27 -4.5h3M24 -4.5h3M-27 -1.5h3M24 -1.5h3M-27 1.5h3M24 1.5h3M-24 10.5h3M21 10.5h3M-18 16.5h3M15 16.5h3M-9 19.5h18" stroke="#3496d4" stroke-width="3.3"/><path d="M-12 -22.5h6M6 -22.5h6M-18 -19.5h3M15 -19.5h3M-21 -16.5h3M18 -16.5h3M-24 -10.5h3M21 -10.5h3M-24 4.5h3M21 4.5h3M-24 7.5h3M21 7.5h3" stroke="#1ca6da" stroke-width="3.3"/><path d="M-6 -22.5h12M-24 -7.5h3M21 -7.5h3M-24 -4.5h3M21 -4.5h3M-24 -1.5h3M21 -1.5h3M-24 1.5h3M21 1.5h3M-21 10.5h3M18 10.5h3M-18 13.5h3M15 13.5h3M-12 16.5h3M9 16.5h3" stroke="#19acd4" stroke-width="3.3"/><path d="M-15 -19.5h3M12 -19.5h3M-21 -13.5h3M18 -13.5h3M-9 16.5h6M3 16.5h6" stroke="#16b3cd" stroke-width="3.3"/><path d="M-12 -19.5h3M9 -19.5h3M-18 -16.5h3M15 -16.5h3M-21 7.5h3M18 7.5h3M-15 13.5h3M12 13.5h3M-3 16.5h6" stroke="#19b6c0" stroke-width="3.3"/><path d="M-9 -19.5h3M6 -19.5h3M-21 -7.5h3M18 -7.5h3M-21 -4.5h3M18 -4.5h3M-21 1.5h3M18 1.5h3M-21 4.5h3M18 4.5h3M-12 13.5h3M9 13.5h3" stroke="#2abcaa" stroke-width="3.3"/><path d="M-6 -19.5h12M-15 -16.5h3M12 -16.5h3M-18 -13.5h3M15 -13.5h3M-21 -1.5h3M18 -1.5h3" stroke="#38bea0" stroke-width="3.3"/><path d="M-12 -16.5h3M9 -16.5h3M-18 -10.5h3M15 -10.5h3M-6 13.5h12" stroke="#55bf87" stroke-width="3.3"/><path d="M-9 -16.5h3M6 -16.5h3M-15 -13.5h3M12 -13.5h3M-18 -7.5h3M15 -7.5h3M-18 1.5h3M15 1.5h3M-12 10.5h3M9 10.5h3" stroke="#7dc462" stroke-width="3.3"/><path d="M-6 -16.5h3M3 -16.5h3M-18 -4.5h3M15 -4.5h3M-18 -1.5h3M15 -1.5h3M-15 7.5h3M12 7.5h3" stroke="#90c651" stroke-width="3.3"/><path d="M-3 -16.5h6M-9 10.5h3M6 10.5h3" stroke="#a2c741" stroke-width="3.3"/><path d="M-24 -13.5h3M21 -13.5h3M-21 13.5h3M18 13.5h3M-15 16.5h3M12 16.5h3" stroke="#289ed7" stroke-width="3.3"/><path d="M-12 -13.5h3M9 -13.5h3M-15 -10.5h3M12 -10.5h3M-6 10.5h3M3 10.5h3" stroke="#b5c437" stroke-width="3.3"/><path d="M-9 -13.5h3M6 -13.5h3M-15 -7.5h3M12 -7.5h3M-12 7.5h3M9 7.5h3" stroke="#d7bc2d" stroke-width="3.3"/><path d="M-6 -13.5h12M-12 -10.5h3M9 -10.5h3M-9 7.5h3M6 7.5h3" stroke="#f0bc32" stroke-width="3.3"/><path d="M-21 -10.5h3M18 -10.5h3M-18 10.5h3M15 10.5h3" stroke="#1cb9b4" stroke-width="3.3"/><path d="M-9 -10.5h3M6 -10.5h3M-12 -4.5h3M9 -4.5h3M-12 -1.5h3M9 -1.5h3M-12 1.5h3M9 1.5h3" stroke="#f5d22d" stroke-width="3.3"/><path d="M-6 -10.5h3M3 -10.5h3M-9 4.5h3M6 4.5h3" stroke="#f4da2d" stroke-width="3.3"/><path d="M-3 -10.5h6M-9 -7.5h3M6 -7.5h3" stroke="#f2e12d" stroke-width="3.3"/><path d="M-12 -7.5h3M9 -7.5h3M-6 7.5h12" stroke="#f8c932" stroke-width="3.3"/><path d="M-6 -7.5h12M-6 -4.5h12M-6 -1.5h12M-6 1.5h12" stroke="#f0ee2d" stroke-width="3.3"/><path d="M-15 -4.5h3M12 -4.5h3M-15 -1.5h3M12 -1.5h3M-15 1.5h3M12 1.5h3" stroke="#e6b92d" stroke-width="3.3"/><path d="M-9 -4.5h3M6 -4.5h3M-9 -1.5h3M6 -1.5h3M-9 1.5h3M6 1.5h3M-6 4.5h12" stroke="#f1e82d" stroke-width="3.3"/><path d="M-18 4.5h3M15 4.5h3" stroke="#69c274" stroke-width="3.3"/><path d="M-15 4.5h3M12 4.5h3M-3 10.5h6" stroke="#c8c02d" stroke-width="3.3"/><path d="M-12 4.5h3M9 4.5h3" stroke="#fac037" stroke-width="3.3"/><path d="M-18 7.5h3M15 7.5h3M-15 10.5h3M12 10.5h3M-9 13.5h3M6 13.5h3" stroke="#46be94" stroke-width="3.3"/><path d="M-39 25.5h3M36 25.5h3M-39 28.5h18M21 28.5h18M-39 31.5h78M-39 34.5h78M-39 37.5h78" stroke="#5060aa" stroke-width="3.3"/></g></g>
<circle r="32.8" fill="none" stroke="#333" stroke-width="0.9"/>
<path d="M1.8 -22.1a1.45 1.45 0 1 0 2.9 0a1.45 1.45 0 1 0 -2.9 0M-9.3 -19.4a1.45 1.45 0 1 0 2.9 0a1.45 1.45 0 1 0 -2.9 0M-1.4 -18.9a1.45 1.45 0 1 0 2.9 0a1.45 1.45 0 1 0 -2.9 0M-12.8 -16.5a1.45 1.45 0 1 0 2.9 0a1.45 1.45 0 1 0 -2.9 0M-3.8 -15.9a1.45 1.45 0 1 0 2.9 0a1.45 1.45 0 1 0 -2.9 0M0.7 -15.9a1.45 1.45 0 1 0 2.9 0a1.45 1.45 0 1 0 -2.9 0M-11.6 -13.0a1.45 1.45 0 1 0 2.9 0a1.45 1.45 0 1 0 -2.9 0M-6.6 -13.0a1.45 1.45 0 1 0 2.9 0a1.45 1.45 0 1 0 -2.9 0M-1.4 -13.0a1.45 1.45 0 1 0 2.9 0a1.45 1.45 0 1 0 -2.9 0M3.9 -13.0a1.45 1.45 0 1 0 2.9 0a1.45 1.45 0 1 0 -2.9 0M-16.0 -10.1a1.45 1.45 0 1 0 2.9 0a1.45 1.45 0 1 0 -2.9 0M-9.9 -9.7a1.45 1.45 0 1 0 2.9 0a1.45 1.45 0 1 0 -2.9 0M-4.3 -9.7a1.45 1.45 0 1 0 2.9 0a1.45 1.45 0 1 0 -2.9 0M1.2 -9.7a1.45 1.45 0 1 0 2.9 0a1.45 1.45 0 1 0 -2.9 0M7.1 -9.7a1.45 1.45 0 1 0 2.9 0a1.45 1.45 0 1 0 -2.9 0M12.6 -10.1a1.45 1.45 0 1 0 2.9 0a1.45 1.45 0 1 0 -2.9 0M-13.4 -6.6a1.45 1.45 0 1 0 2.9 0a1.45 1.45 0 1 0 -2.9 0M-7.5 -6.6a1.45 1.45 0 1 0 2.9 0a1.45 1.45 0 1 0 -2.9 0M-1.4 -6.6a1.45 1.45 0 1 0 2.9 0a1.45 1.45 0 1 0 -2.9 0M4.4 -6.6a1.45 1.45 0 1 0 2.9 0a1.45 1.45 0 1 0 -2.9 0M10.6 -6.6a1.45 1.45 0 1 0 2.9 0a1.45 1.45 0 1 0 -2.9 0M16.5 -6.9a1.45 1.45 0 1 0 2.9 0a1.45 1.45 0 1 0 -2.9 0M-16.9 -3.6a1.45 1.45 0 1 0 2.9 0a1.45 1.45 0 1 0 -2.9 0M-10.8 -3.4a1.45 1.45 0 1 0 2.9 0a1.45 1.45 0 1 0 -2.9 0M-4.6 -3.4a1.45 1.45 0 1 0 2.9 0a1.45 1.45 0 1 0 -2.9 0M1.6 -3.4a1.45 1.45 0 1 0 2.9 0a1.45 1.45 0 1 0 -2.9 0M7.7 -3.4a1.45 1.45 0 1 0 2.9 0a1.45 1.45 0 1 0 -2.9 0M13.5 -3.4a1.45 1.45 0 1 0 2.9 0a1.45 1.45 0 1 0 -2.9 0M-14.0 -0.1a1.45 1.45 0 1 0 2.9 0a1.45 1.45 0 1 0 -2.9 0M-7.8 -0.1a1.45 1.45 0 1 0 2.9 0a1.45 1.45 0 1 0 -2.9 0M-1.4 -0.1a1.45 1.45 0 1 0 2.9 0a1.45 1.45 0 1 0 -2.9 0M4.8 -0.1a1.45 1.45 0 1 0 2.9 0a1.45 1.45 0 1 0 -2.9 0M11.0 -0.1a1.45 1.45 0 1 0 2.9 0a1.45 1.45 0 1 0 -2.9 0M-16.9 3.2a1.45 1.45 0 1 0 2.9 0a1.45 1.45 0 1 0 -2.9 0M-10.8 3.2a1.45 1.45 0 1 0 2.9 0a1.45 1.45 0 1 0 -2.9 0M-4.6 3.2a1.45 1.45 0 1 0 2.9 0a1.45 1.45 0 1 0 -2.9 0M1.6 3.2a1.45 1.45 0 1 0 2.9 0a1.45 1.45 0 1 0 -2.9 0M7.7 3.2a1.45 1.45 0 1 0 2.9 0a1.45 1.45 0 1 0 -2.9 0M14.1 3.2a1.45 1.45 0 1 0 2.9 0a1.45 1.45 0 1 0 -2.9 0M-13.4 6.3a1.45 1.45 0 1 0 2.9 0a1.45 1.45 0 1 0 -2.9 0M-7.5 6.3a1.45 1.45 0 1 0 2.9 0a1.45 1.45 0 1 0 -2.9 0M-1.4 6.3a1.45 1.45 0 1 0 2.9 0a1.45 1.45 0 1 0 -2.9 0M4.8 6.3a1.45 1.45 0 1 0 2.9 0a1.45 1.45 0 1 0 -2.9 0M10.6 6.3a1.45 1.45 0 1 0 2.9 0a1.45 1.45 0 1 0 -2.9 0M-10.1 9.5a1.45 1.45 0 1 0 2.9 0a1.45 1.45 0 1 0 -2.9 0M-4.3 9.5a1.45 1.45 0 1 0 2.9 0a1.45 1.45 0 1 0 -2.9 0M1.6 9.5a1.45 1.45 0 1 0 2.9 0a1.45 1.45 0 1 0 -2.9 0" fill="#000"/>
</g>
<text x="437.4" y="82.69999999999999" class="t" text-anchor="middle">2</text>
<g transform="translate(555.3 106.1)">
<path d="M-32.5 -5.9 C-35.0 -6.3 -36.599999999999994 -5 -36.599999999999994 -2 L-36.599999999999994 5.5 C-36.599999999999994 8.5 -35.0 9.6 -32.5 9.2Z" fill="#fff" stroke="#777" stroke-width="0.8"/><path d="M32.5 -5.9 C35.0 -6.3 36.599999999999994 -5 36.599999999999994 -2 L36.599999999999994 5.5 C36.599999999999994 8.5 35.0 9.6 32.5 9.2Z" fill="#fff" stroke="#777" stroke-width="0.8"/>
<path d="M-6.3 -32.199999999999996 L0 -38.199999999999996 L6.3 -32.199999999999996" fill="none" stroke="#555" stroke-width="0.85"/>
<path d="M-34.199999999999996 -3.8 C-35.599999999999994 -1.5 -35.599999999999994 3 -34.4 6.2 M34.199999999999996 -3.8 C35.599999999999994 -1.5 35.599999999999994 3 34.4 6.2" fill="none" stroke="#aaa" stroke-width="0.6"/>
<g clip-path="url(#cc)"><g filter="url(#bl)"><path d="M-39 -37.5h18M21 -37.5h18M-39 -34.5h12M27 -34.5h12M-39 -31.5h6M33 -31.5h6M-39 -28.5h6M33 -28.5h6M-39 -25.5h3M36 -25.5h3M-39 19.5h3M36 19.5h3M-39 22.5h3M33 22.5h6M-39 25.5h9M-3 25.5h9M27 25.5h12M-39 28.5h21M27 28.5h12M-39 31.5h12M33 31.5h6M-39 34.5h9M33 34.5h6M-39 37.5h9M33 37.5h6" stroke="#b5c437" stroke-width="3.3"/><path d="M-21 -37.5h42M-27 -34.5h54M-33 -31.5h12M21 -31.5h12M-33 -28.5h6M27 -28.5h6M-36 -25.5h6M30 -25.5h6M-39 -22.5h9M30 -22.5h9M-39 -19.5h6M33 -19.5h6M-39 -16.5h6M33 -16.5h6M-39 -13.5h6M33 -13.5h6M-39 -10.5h6M33 -10.5h6M-39 -7.5h3M36 -7.5h3M-39 -4.5h3M36 -4.5h3M-39 -1.5h3M36 -1.5h3M-39 1.5h3M36 1.5h3M-39 4.5h3M36 4.5h3M-39 7.5h3M36 7.5h3M-39 10.5h6M33 10.5h6M-39 13.5h6M33 13.5h6M-39 16.5h6M33 16.5h6M-36 19.5h6M30 19.5h6M-36 22.5h6M27 22.5h6M-30 25.5h9M-9 25.5h6M6 25.5h21" stroke="#a2c741" stroke-width="3.3"/><path d="M-21 -31.5h12M9 -31.5h12M-27 -28.5h6M21 -28.5h6M-30 -25.5h6M24 -25.5h6M-30 -22.5h3M27 -22.5h3M-33 -19.5h3M30 -19.5h3M-33 -16.5h3M30 -16.5h3M-33 -13.5h3M30 -13.5h3M-36 -7.5h3M33 -7.5h3M-36 -4.5h3M33 -4.5h3M-36 -1.5h3M33 -1.5h3M-36 1.5h3M33 1.5h3M-36 4.5h3M33 4.5h3M-36 7.5h3M33 7.5h3M-33 13.5h3M30 13.5h3M-33 16.5h3M30 16.5h3M-30 19.5h3M27 19.5h3M-30 22.5h6M24 22.5h3M-21 25.5h12" stroke="#90c651" stroke-width="3.3"/><path d="M-9 -31.5h18M-21 -28.5h6M15 -28.5h6M-24 -25.5h3M21 -25.5h3M-27 -22.5h3M24 -22.5h3M-30 -19.5h3M27 -19.5h3M-33 -10.5h3M30 -10.5h3M-33 -7.5h3M30 -7.5h3M-33 -4.5h3M30 -4.5h3M-33 -1.5h3M30 -1.5h3M-33 1.5h3M30 1.5h3M-33 4.5h3M30 4.5h3M-33 7.5h3M30 7.5h3M-33 10.5h3M30 10.5h3M-30 16.5h3M27 16.5h3M24 19.5h3M-24 22.5h3M21 22.5h3" stroke="#7dc462" stroke-width="3.3"/><path d="M-15 -28.5h30M-21 -25.5h3M18 -25.5h3M-27 -19.5h3M24 -19.5h3M-30 -16.5h3M27 -16.5h3M-30 -13.5h3M27 -13.5h3M-30 -10.5h3M27 -10.5h3M-30 7.5h3M27 7.5h3M-30 10.5h3M27 10.5h3M-30 13.5h3M27 13.5h3M-27 19.5h3M-21 22.5h3M15 22.5h6" stroke="#69c274" stroke-width="3.3"/><path d="M-18 -25.5h3M15 -25.5h3M-24 -22.5h3M21 -22.5h3M-27 -16.5h3M24 -16.5h3M-30 -7.5h3M27 -7.5h3M-30 -4.5h3M27 -4.5h3M-30 -1.5h3M27 -1.5h3M-30 1.5h3M27 1.5h3M-30 4.5h3M27 4.5h3M-27 16.5h3M24 16.5h3M-24 19.5h3M21 19.5h3M-18 22.5h33" stroke="#55bf87" stroke-width="3.3"/><path d="M-15 -25.5h6M9 -25.5h6M-21 -22.5h3M18 -22.5h3M-24 -19.5h3M21 -19.5h3M-27 -13.5h3M24 -13.5h3M-27 10.5h3M24 10.5h3M-27 13.5h3M24 13.5h3M21 16.5h3M-21 19.5h3M18 19.5h3" stroke="#46be94" stroke-width="3.3"/><path d="M-9 -25.5h18M-18 -22.5h3M15 -22.5h3M-24 -16.5h3M21 -16.5h3M-27 -10.5h3M24 -10.5h3M-27 -7.5h3M24 -7.5h3M-27 -4.5h3M24 -4.5h3M-27 -1.5h3M24 -1.5h3M-27 1.5h3M24 1.5h3M-27 4.5h3M24 4.5h3M-27 7.5h3M24 7.5h3M-24 16.5h3M15 19.5h3" stroke="#38bea0" stroke-width="3.3"/><path d="M-15 -22.5h3M12 -22.5h3M-21 -19.5h3M18 -19.5h3M-24 -13.5h3M21 -13.5h3M-24 13.5h3M21 13.5h3M-21 16.5h3M18 16.5h3M-18 19.5h3M12 19.5h3" stroke="#2abcaa" stroke-width="3.3"/><path d="M-12 -22.5h3M9 -22.5h3M-24 -10.5h3M21 -10.5h3M-24 7.5h3M21 7.5h3M-24 10.5h3M21 10.5h3M-15 19.5h27" stroke="#1cb9b4" stroke-width="3.3"/><path d="M-9 -22.5h18M-18 -19.5h3M15 -19.5h3M-21 -16.5h3M18 -16.5h3M-24 -7.5h3M21 -7.5h3M-24 -4.5h3M21 -4.5h3M-24 -1.5h3M21 -1.5h3M-24 1.5h3M21 1.5h3M-24 4.5h3M21 4.5h3M-21 13.5h3M18 13.5h3M-18 16.5h3M15 16.5h3" stroke="#19b6c0" stroke-width="3.3"/><path d="M-15 -19.5h3M12 -19.5h3M-21 -13.5h3M18 -13.5h3M-21 10.5h3M18 10.5h3M12 16.5h3" stroke="#16b3cd" stroke-width="3.3"/><path d="M-12 -19.5h6M6 -19.5h6M-18 -16.5h3M15 -16.5h3M-21 -10.5h3M18 -10.5h3M-21 -7.5h3M18 -7.5h3M-21 7.5h3M18 7.5h3M-18 13.5h3M15 13.5h3M-15 16.5h3M9 16.5h3" stroke="#19acd4" stroke-width="3.3"/><path d="M-6 -19.5h12M-15 -16.5h3M12 -16.5h3M-18 -13.5h3M15 -13.5h3M-21 -4.5h3M18 -4.5h3M-21 -1.5h3M18 -1.5h3M-21 1.5h3M18 1.5h3M-21 4.5h3M18 4.5h3M-12 16.5h21" stroke="#1ca6da" stroke-width="3.3"/><path d="M-12 -16.5h3M9 -16.5h3M-18 -10.5h3M15 -10.5h3M-18 10.5h3M15 10.5h3M-15 13.5h3M12 13.5h3" stroke="#289ed7" stroke-width="3.3"/><path d="M-9 -16.5h18M-15 -13.5h3M12 -13.5h3M-18 -7.5h3M15 -7.5h3M-18 -4.5h3M15 -4.5h3M-18 -1.5h3M15 -1.5h3M-18 1.5h3M15 1.5h3M-18 4.5h3M15 4.5h3M-18 7.5h3M15 7.5h3M-12 13.5h3M9 13.5h3" stroke="#3496d4" stroke-width="3.3"/><path d="M-12 -13.5h3M9 -13.5h3M-15 -10.5h3M12 -10.5h3M-15 10.5h3M12 10.5h3M-9 13.5h18" stroke="#3d8ecc" stroke-width="3.3"/><path d="M-9 -13.5h3M6 -13.5h3M-15 -7.5h3M12 -7.5h3M-15 -4.5h3M12 -4.5h3M-15 4.5h3M12 4.5h3M-15 7.5h3M12 7.5h3M-12 10.5h3M9 10.5h3" stroke="#4685c5" stroke-width="3.3"/><path d="M-6 -13.5h12M-12 -10.5h3M9 -10.5h3M-15 -1.5h3M12 -1.5h3M-15 1.5h3M12 1.5h3M-12 7.5h3M9 7.5h3M-9 10.5h18" stroke="#487dbe" stroke-width="3.3"/><path d="M-9 -10.5h18M-12 -7.5h3M9 -7.5h3M-12 -4.5h3M9 -4.5h3M-12 -1.5h3M9 -1.5h3M-12 1.5h3M9 1.5h3M-12 4.5h3M9 4.5h3M-9 7.5h3M6 7.5h3" stroke="#4b75b8" stroke-width="3.3"/><path d="M-9 -7.5h18M-9 -4.5h6M3 -4.5h6M-9 -1.5h6M3 -1.5h6M-9 1.5h6M3 1.5h6M-9 4.5h18M-6 7.5h12" stroke="#4e6fb5" stroke-width="3.3"/><path d="M-3 -4.5h6M-3 -1.5h6M-3 1.5h6" stroke="#5069b2" stroke-width="3.3"/><path d="M-18 28.5h6M15 28.5h12M-27 31.5h6M24 31.5h9M-30 34.5h9M27 34.5h6M-30 37.5h9M27 37.5h6" stroke="#c8c02d" stroke-width="3.3"/><path d="M-12 28.5h6M9 28.5h6M-21 31.5h6M18 31.5h6M-21 34.5h3M21 34.5h6M-21 37.5h3M21 37.5h6" stroke="#d7bc2d" stroke-width="3.3"/><path d="M-6 28.5h15M-15 31.5h3M15 31.5h3M-18 34.5h3M18 34.5h3M-18 37.5h3M18 37.5h3" stroke="#e6b92d" stroke-width="3.3"/><path d="M-12 31.5h3M12 31.5h3M-15 34.5h3M15 34.5h3M-15 37.5h6M12 37.5h6" stroke="#f0bc32" stroke-width="3.3"/><path d="M-9 31.5h6M6 31.5h6M-12 34.5h6M12 34.5h3M-9 37.5h3M9 37.5h3" stroke="#fac037" stroke-width="3.3"/><path d="M-3 31.5h9M-6 34.5h3M6 34.5h6M-6 37.5h15" stroke="#f8c932" stroke-width="3.3"/><path d="M-3 34.5h9" stroke="#f5d22d" stroke-width="3.3"/></g></g>
<circle r="32.8" fill="none" stroke="#333" stroke-width="0.9"/>
<path d="M0.9 -16.2a1.45 1.45 0 1 0 2.9 0a1.45 1.45 0 1 0 -2.9 0M-11.6 -13.0a1.45 1.45 0 1 0 2.9 0a1.45 1.45 0 1 0 -2.9 0M-6.4 -12.7a1.45 1.45 0 1 0 2.9 0a1.45 1.45 0 1 0 -2.9 0M-1.1 -12.7a1.45 1.45 0 1 0 2.9 0a1.45 1.45 0 1 0 -2.9 0M3.9 -12.7a1.45 1.45 0 1 0 2.9 0a1.45 1.45 0 1 0 -2.9 0M-9.9 -9.7a1.45 1.45 0 1 0 2.9 0a1.45 1.45 0 1 0 -2.9 0M-4.0 -9.5a1.45 1.45 0 1 0 2.9 0a1.45 1.45 0 1 0 -2.9 0M1.6 -9.7a1.45 1.45 0 1 0 2.9 0a1.45 1.45 0 1 0 -2.9 0M7.1 -9.7a1.45 1.45 0 1 0 2.9 0a1.45 1.45 0 1 0 -2.9 0M13.0 -10.0a1.45 1.45 0 1 0 2.9 0a1.45 1.45 0 1 0 -2.9 0M-13.2 -6.4a1.45 1.45 0 1 0 2.9 0a1.45 1.45 0 1 0 -2.9 0M-7.3 -6.4a1.45 1.45 0 1 0 2.9 0a1.45 1.45 0 1 0 -2.9 0M-1.1 -6.4a1.45 1.45 0 1 0 2.9 0a1.45 1.45 0 1 0 -2.9 0M4.8 -6.2a1.45 1.45 0 1 0 2.9 0a1.45 1.45 0 1 0 -2.9 0M10.6 -6.4a1.45 1.45 0 1 0 2.9 0a1.45 1.45 0 1 0 -2.9 0M-16.7 -3.3a1.45 1.45 0 1 0 2.9 0a1.45 1.45 0 1 0 -2.9 0M-10.5 -2.9a1.45 1.45 0 1 0 2.9 0a1.45 1.45 0 1 0 -2.9 0M-4.3 -2.9a1.45 1.45 0 1 0 2.9 0a1.45 1.45 0 1 0 -2.9 0M1.8 -2.9a1.45 1.45 0 1 0 2.9 0a1.45 1.45 0 1 0 -2.9 0M7.9 -2.9a1.45 1.45 0 1 0 2.9 0a1.45 1.45 0 1 0 -2.9 0M14.1 -3.3a1.45 1.45 0 1 0 2.9 0a1.45 1.45 0 1 0 -2.9 0M-13.6 -0.1a1.45 1.45 0 1 0 2.9 0a1.45 1.45 0 1 0 -2.9 0M-7.5 0.2a1.45 1.45 0 1 0 2.9 0a1.45 1.45 0 1 0 -2.9 0M-1.1 0.2a1.45 1.45 0 1 0 2.9 0a1.45 1.45 0 1 0 -2.9 0M5.1 0.2a1.45 1.45 0 1 0 2.9 0a1.45 1.45 0 1 0 -2.9 0M11.2 0.2a1.45 1.45 0 1 0 2.9 0a1.45 1.45 0 1 0 -2.9 0M18.0 -0.1a1.45 1.45 0 1 0 2.9 0a1.45 1.45 0 1 0 -2.9 0M-16.9 3.4a1.45 1.45 0 1 0 2.9 0a1.45 1.45 0 1 0 -2.9 0M-10.5 3.4a1.45 1.45 0 1 0 2.9 0a1.45 1.45 0 1 0 -2.9 0M-4.3 3.4a1.45 1.45 0 1 0 2.9 0a1.45 1.45 0 1 0 -2.9 0M1.8 3.4a1.45 1.45 0 1 0 2.9 0a1.45 1.45 0 1 0 -2.9 0M7.9 3.4a1.45 1.45 0 1 0 2.9 0a1.45 1.45 0 1 0 -2.9 0M14.1 3.4a1.45 1.45 0 1 0 2.9 0a1.45 1.45 0 1 0 -2.9 0M-19.3 6.9a1.45 1.45 0 1 0 2.9 0a1.45 1.45 0 1 0 -2.9 0M-13.4 6.7a1.45 1.45 0 1 0 2.9 0a1.45 1.45 0 1 0 -2.9 0M-7.3 6.7a1.45 1.45 0 1 0 2.9 0a1.45 1.45 0 1 0 -2.9 0M-1.1 6.7a1.45 1.45 0 1 0 2.9 0a1.45 1.45 0 1 0 -2.9 0M4.8 6.7a1.45 1.45 0 1 0 2.9 0a1.45 1.45 0 1 0 -2.9 0M10.6 6.7a1.45 1.45 0 1 0 2.9 0a1.45 1.45 0 1 0 -2.9 0M-15.5 10.0a1.45 1.45 0 1 0 2.9 0a1.45 1.45 0 1 0 -2.9 0M-9.9 10.0a1.45 1.45 0 1 0 2.9 0a1.45 1.45 0 1 0 -2.9 0M-4.0 10.0a1.45 1.45 0 1 0 2.9 0a1.45 1.45 0 1 0 -2.9 0M1.8 10.0a1.45 1.45 0 1 0 2.9 0a1.45 1.45 0 1 0 -2.9 0M7.5 10.0a1.45 1.45 0 1 0 2.9 0a1.45 1.45 0 1 0 -2.9 0M-11.6 13.1a1.45 1.45 0 1 0 2.9 0a1.45 1.45 0 1 0 -2.9 0M-6.4 12.8a1.45 1.45 0 1 0 2.9 0a1.45 1.45 0 1 0 -2.9 0" fill="#000"/>
</g>
<text x="522.5" y="82.69999999999999" class="t" text-anchor="middle">3</text>
<g transform="translate(640.4 106.1)">
<path d="M-32.5 -5.9 C-35.0 -6.3 -36.599999999999994 -5 -36.599999999999994 -2 L-36.599999999999994 5.5 C-36.599999999999994 8.5 -35.0 9.6 -32.5 9.2Z" fill="#fff" stroke="#777" stroke-width="0.8"/><path d="M32.5 -5.9 C35.0 -6.3 36.599999999999994 -5 36.599999999999994 -2 L36.599999999999994 5.5 C36.599999999999994 8.5 35.0 9.6 32.5 9.2Z" fill="#fff" stroke="#777" stroke-width="0.8"/>
<path d="M-6.3 -32.199999999999996 L0 -38.199999999999996 L6.3 -32.199999999999996" fill="none" stroke="#555" stroke-width="0.85"/>
<path d="M-34.199999999999996 -3.8 C-35.599999999999994 -1.5 -35.599999999999994 3 -34.4 6.2 M34.199999999999996 -3.8 C35.599999999999994 -1.5 35.599999999999994 3 34.4 6.2" fill="none" stroke="#aaa" stroke-width="0.6"/>
<g clip-path="url(#cc)"><g filter="url(#bl)"><path d="M-39 -37.5h78M-39 -34.5h78M-39 -31.5h78M-39 -28.5h30M6 -28.5h33M-39 -25.5h18M21 -25.5h18M-39 -22.5h15M24 -22.5h15M-39 -19.5h12M27 -19.5h12M-39 -16.5h9M27 -16.5h12M-39 -13.5h9M30 -13.5h9M-39 -10.5h9M30 -10.5h9M-39 -7.5h9M30 -7.5h9M-39 -4.5h9M30 -4.5h9M-39 -1.5h9M30 -1.5h9M-39 1.5h9M30 1.5h9M-39 4.5h9M30 4.5h9M-39 7.5h9M30 7.5h9M-39 10.5h9M27 10.5h12M-39 13.5h12M27 13.5h12M-39 16.5h15M24 16.5h15M-39 19.5h6M-30 19.5h12M0 19.5h18M-39 22.5h3" stroke="#90c651" stroke-width="3.3"/><path d="M-9 -28.5h15M-21 -25.5h12M9 -25.5h12M-24 -22.5h3M18 -22.5h6M-27 -19.5h3M21 -19.5h6M-30 -16.5h3M24 -16.5h3M-30 -13.5h3M24 -13.5h6M-30 -10.5h3M27 -10.5h3M-30 -7.5h3M27 -7.5h3M-30 -4.5h3M27 -4.5h3M-30 -1.5h3M27 -1.5h3M-30 1.5h3M27 1.5h3M-30 4.5h3M27 4.5h3M-30 7.5h3M27 7.5h3M-30 10.5h3M24 10.5h3M-27 13.5h3M24 13.5h3M-24 16.5h3M18 16.5h6M-18 19.5h18" stroke="#7dc462" stroke-width="3.3"/><path d="M-9 -25.5h18M-21 -22.5h6M15 -22.5h3M-24 -19.5h3M18 -19.5h3M-27 -16.5h3M21 -16.5h3M-27 -13.5h3M-27 -10.5h3M24 -10.5h3M24 -7.5h3M24 -4.5h3M24 -1.5h3M24 1.5h3M24 4.5h3M-27 7.5h3M24 7.5h3M-27 10.5h3M-24 13.5h3M21 13.5h3M-21 16.5h3M15 16.5h3" stroke="#69c274" stroke-width="3.3"/><path d="M-15 -22.5h9M6 -22.5h9M-21 -19.5h3M-24 -16.5h3M21 -13.5h3M-27 -7.5h3M-27 -4.5h3M-27 -1.5h3M-27 1.5h3M-27 4.5h3M21 7.5h3M21 10.5h3M18 13.5h3M-18 16.5h3M12 16.5h3" stroke="#55bf87" stroke-width="3.3"/><path d="M-6 -22.5h12M-18 -19.5h3M15 -19.5h3M-21 -16.5h3M18 -16.5h3M-24 -13.5h3M-24 -10.5h3M21 -10.5h3M21 -7.5h3M21 -4.5h3M21 -1.5h3M21 1.5h3M21 4.5h3M-24 7.5h3M-24 10.5h3M-21 13.5h3M-15 16.5h3M6 16.5h6" stroke="#46be94" stroke-width="3.3"/><path d="M-15 -19.5h3M12 -19.5h3M15 -16.5h3M18 -13.5h3M-24 -7.5h3M-24 -4.5h3M-24 -1.5h3M-24 1.5h3M-24 4.5h3M18 10.5h3M15 13.5h3M-12 16.5h18" stroke="#38bea0" stroke-width="3.3"/><path d="M-12 -19.5h24M-18 -16.5h3M-21 -13.5h3M18 -10.5h3M18 -7.5h3M18 4.5h3M18 7.5h3M-21 10.5h3M-18 13.5h3M12 13.5h3" stroke="#2abcaa" stroke-width="3.3"/><path d="M-15 -16.5h3M12 -16.5h3M15 -13.5h3M-21 -10.5h3M-21 -7.5h3M18 -4.5h3M18 -1.5h3M18 1.5h3M-21 7.5h3M15 10.5h3M-15 13.5h3M9 13.5h3" stroke="#1cb9b4" stroke-width="3.3"/><path d="M-12 -16.5h6M6 -16.5h3M12 -13.5h3M-18 -10.5h3M15 -10.5h3M15 -7.5h3M15 4.5h3M12 10.5h3M-9 13.5h15" stroke="#16b3cd" stroke-width="3.3"/><path d="M-6 -16.5h12M-15 -13.5h3M-18 -7.5h3M15 -4.5h3M15 -1.5h3M15 1.5h3M-18 7.5h3M-15 10.5h3M9 10.5h3" stroke="#19acd4" stroke-width="3.3"/><path d="M9 -16.5h3M-18 -13.5h3M-21 -4.5h3M-21 -1.5h3M-21 1.5h3M-21 4.5h3M15 7.5h3M-18 10.5h3M-12 13.5h3M6 13.5h3" stroke="#19b6c0" stroke-width="3.3"/><path d="M-12 -13.5h3M9 -13.5h3M12 -10.5h3M-18 -4.5h3M-18 -1.5h3M-18 1.5h3M-18 4.5h3M12 7.5h3" stroke="#1ca6da" stroke-width="3.3"/><path d="M-9 -13.5h3M6 -13.5h3M-15 -10.5h3M12 -7.5h3M12 1.5h3M12 4.5h3M-15 7.5h3M-12 10.5h3M3 10.5h6" stroke="#289ed7" stroke-width="3.3"/><path d="M-6 -13.5h12M-12 -10.5h3M9 -10.5h3M-15 -7.5h3M-15 -4.5h3M12 -4.5h3M12 -1.5h3M-15 4.5h3M9 7.5h3M-9 10.5h12" stroke="#3496d4" stroke-width="3.3"/><path d="M-9 -10.5h3M-15 -1.5h3M-15 1.5h3M9 4.5h3M-12 7.5h3M6 7.5h3" stroke="#3d8ecc" stroke-width="3.3"/><path d="M-6 -10.5h6M6 -10.5h3M-12 -7.5h3M9 -7.5h3M9 -4.5h3M9 -1.5h3M9 1.5h3M-9 7.5h3M0 7.5h6" stroke="#4685c5" stroke-width="3.3"/><path d="M0 -10.5h6M-9 -7.5h3M-12 -4.5h3M-12 -1.5h3M-12 1.5h3M-12 4.5h3M6 4.5h3M-6 7.5h6" stroke="#487dbe" stroke-width="3.3"/><path d="M-6 -7.5h15M-9 -4.5h3M6 -4.5h3M-9 -1.5h3M6 -1.5h3M6 1.5h3M-9 4.5h15" stroke="#4b75b8" stroke-width="3.3"/><path d="M-6 -4.5h12M-6 -1.5h12M-9 1.5h15" stroke="#4e6fb5" stroke-width="3.3"/><path d="M-33 19.5h3M18 19.5h21M-36 22.5h18M27 22.5h12M-39 25.5h12M30 25.5h9M-39 28.5h9M33 28.5h6M-39 31.5h9M33 31.5h6M-39 34.5h9M33 34.5h6M-39 37.5h9M33 37.5h6" stroke="#a2c741" stroke-width="3.3"/><path d="M-18 22.5h9M15 22.5h12M-27 25.5h6M24 25.5h6M-30 28.5h6M27 28.5h6M-30 31.5h6M27 31.5h6M-30 34.5h6M27 34.5h6M-30 37.5h6M27 37.5h6" stroke="#b5c437" stroke-width="3.3"/><path d="M-9 22.5h24M-21 25.5h6M21 25.5h3M-24 28.5h3M24 28.5h3M-24 31.5h3M24 31.5h3M-24 34.5h3M24 34.5h3M-24 37.5h3M24 37.5h3" stroke="#c8c02d" stroke-width="3.3"/><path d="M-15 25.5h3M15 25.5h6M-21 28.5h6M21 28.5h3M-21 31.5h3M21 31.5h3M-21 34.5h3M21 34.5h3M-21 37.5h6M21 37.5h3" stroke="#d7bc2d" stroke-width="3.3"/><path d="M-12 25.5h6M9 25.5h6M-15 28.5h3M15 28.5h6M-18 31.5h3M18 31.5h3M-18 34.5h3M18 34.5h3M-15 37.5h3M15 37.5h6" stroke="#e6b92d" stroke-width="3.3"/><path d="M-6 25.5h15M-12 28.5h3M12 28.5h3M-15 31.5h3M15 31.5h3M-15 34.5h3M15 34.5h3M-12 37.5h3M12 37.5h3" stroke="#f0bc32" stroke-width="3.3"/><path d="M-9 28.5h6M6 28.5h6M-12 31.5h3M12 31.5h3M-12 34.5h3M12 34.5h3M-9 37.5h3M9 37.5h3" stroke="#fac037" stroke-width="3.3"/><path d="M-3 28.5h9M-9 31.5h6M6 31.5h6M-9 34.5h6M6 34.5h6M-6 37.5h15" stroke="#f8c932" stroke-width="3.3"/><path d="M-3 31.5h9M-3 34.5h9" stroke="#f5d22d" stroke-width="3.3"/></g></g>
<circle r="32.8" fill="none" stroke="#333" stroke-width="0.9"/>
<path d="M-14.3 24.8a1.45 1.45 0 1 0 2.9 0a1.45 1.45 0 1 0 -2.9 0M-9.1 23.7a1.45 1.45 0 1 0 2.9 0a1.45 1.45 0 1 0 -2.9 0M-4.4 21.3a1.45 1.45 0 1 0 2.9 0a1.45 1.45 0 1 0 -2.9 0M1.5 21.3a1.45 1.45 0 1 0 2.9 0a1.45 1.45 0 1 0 -2.9 0M6.2 23.7a1.45 1.45 0 1 0 2.9 0a1.45 1.45 0 1 0 -2.9 0M13.2 20.1a1.45 1.45 0 1 0 2.9 0a1.45 1.45 0 1 0 -2.9 0M-1.4 24.8a1.45 1.45 0 1 0 2.9 0a1.45 1.45 0 1 0 -2.9 0M11.4 24.8a1.45 1.45 0 1 0 2.9 0a1.45 1.45 0 1 0 -2.9 0M17.3 25.4a1.45 1.45 0 1 0 2.9 0a1.45 1.45 0 1 0 -2.9 0M-6.1 27.5a1.45 1.45 0 1 0 2.9 0a1.45 1.45 0 1 0 -2.9 0M2.6 27.5a1.45 1.45 0 1 0 2.9 0a1.45 1.45 0 1 0 -2.9 0M-10.8 29.9a1.45 1.45 0 1 0 2.9 0a1.45 1.45 0 1 0 -2.9 0M7.9 29.9a1.45 1.45 0 1 0 2.9 0a1.45 1.45 0 1 0 -2.9 0" fill="#000"/>
</g>
<text x="607.6" y="82.69999999999999" class="t" text-anchor="middle">4</text>
<g transform="translate(385.0 287.1)">
<path d="M-32.5 -5.9 C-35.0 -6.3 -36.599999999999994 -5 -36.599999999999994 -2 L-36.599999999999994 5.5 C-36.599999999999994 8.5 -35.0 9.6 -32.5 9.2Z" fill="#fff" stroke="#777" stroke-width="0.8"/><path d="M32.5 -5.9 C35.0 -6.3 36.599999999999994 -5 36.599999999999994 -2 L36.599999999999994 5.5 C36.599999999999994 8.5 35.0 9.6 32.5 9.2Z" fill="#fff" stroke="#777" stroke-width="0.8"/>
<path d="M-6.3 -32.199999999999996 L0 -38.199999999999996 L6.3 -32.199999999999996" fill="none" stroke="#555" stroke-width="0.85"/>
<path d="M-34.199999999999996 -3.8 C-35.599999999999994 -1.5 -35.599999999999994 3 -34.4 6.2 M34.199999999999996 -3.8 C35.599999999999994 -1.5 35.599999999999994 3 34.4 6.2" fill="none" stroke="#aaa" stroke-width="0.6"/>
<g clip-path="url(#cc)"><g filter="url(#bl)"><path d="M-39 -37.5h78M-39 -34.5h78M-39 -31.5h78M-39 -28.5h78M-39 -25.5h39M3 -25.5h36M-39 -22.5h36M6 -22.5h33M-39 -19.5h33M9 -19.5h30M-39 -16.5h18M24 -16.5h15M-39 -13.5h15M30 -13.5h9M-39 -10.5h12M30 -10.5h9M-39 -7.5h12M30 -7.5h9M-36 -4.5h9M30 -4.5h9M-30 -1.5h6M27 -1.5h9M-24 1.5h6M24 1.5h6" stroke="#1cb9b4" stroke-width="3.3"/><path d="M0 -25.5h3M-3 -22.5h3M3 -22.5h3M-6 -19.5h3M6 -19.5h3M-21 -16.5h6M18 -16.5h6M-24 -13.5h3M24 -13.5h6M-27 -10.5h3M27 -10.5h3M-27 -7.5h3M27 -7.5h3M-27 -4.5h3M27 -4.5h3M-24 -1.5h3M24 -1.5h3M-18 1.5h3M18 1.5h6" stroke="#2abcaa" stroke-width="3.3"/><path d="M0 -22.5h3M-3 -19.5h3M-15 -16.5h9M9 -16.5h9M-21 -13.5h3M21 -13.5h3M-24 -10.5h3M24 -10.5h3M-24 -7.5h3M24 -7.5h3M-24 -4.5h3M24 -4.5h3M-21 -1.5h3M-15 1.5h6M15 1.5h3" stroke="#38bea0" stroke-width="3.3"/><path d="M0 -19.5h6M-6 -16.5h3M6 -16.5h3M-18 -13.5h3M18 -13.5h3M-21 -10.5h3M21 -10.5h3M-21 -7.5h3M-21 -4.5h3M21 -4.5h3M21 -1.5h3M-9 1.5h24" stroke="#46be94" stroke-width="3.3"/><path d="M-3 -16.5h9M-12 -13.5h3M12 -13.5h3M-18 -10.5h3M18 -10.5h3M-18 -7.5h3M18 -7.5h3M-18 -4.5h3M18 -4.5h3M-15 -1.5h3M15 -1.5h3" stroke="#69c274" stroke-width="3.3"/><path d="M-15 -13.5h3M15 -13.5h3M21 -7.5h3M-18 -1.5h3M18 -1.5h3" stroke="#55bf87" stroke-width="3.3"/><path d="M-9 -13.5h3M9 -13.5h3M-15 -10.5h3M15 -10.5h3M-15 -4.5h3M-12 -1.5h3M12 -1.5h3" stroke="#7dc462" stroke-width="3.3"/><path d="M-6 -13.5h3M6 -13.5h3M-15 -7.5h3M15 -7.5h3M15 -4.5h3M-9 -1.5h21" stroke="#90c651" stroke-width="3.3"/><path d="M-3 -13.5h9M-12 -10.5h6M12 -10.5h3M-12 -7.5h3M12 -7.5h3M-12 -4.5h3M12 -4.5h3" stroke="#a2c741" stroke-width="3.3"/><path d="M-6 -10.5h3M6 -10.5h6M-9 -7.5h3M9 -7.5h3M-9 -4.5h21" stroke="#b5c437" stroke-width="3.3"/><path d="M-3 -10.5h9M-6 -7.5h15" stroke="#c8c02d" stroke-width="3.3"/><path d="M-39 -4.5h3M-39 -1.5h9M36 -1.5h3M-39 1.5h15M30 1.5h9M-39 4.5h12M-18 4.5h57M-39 7.5h3M36 7.5h3" stroke="#19b6c0" stroke-width="3.3"/><path d="M-27 4.5h9M-36 7.5h9M24 7.5h12M-39 10.5h6M33 10.5h6M-39 13.5h3M36 13.5h3M-39 37.5h6M33 37.5h6" stroke="#16b3cd" stroke-width="3.3"/><path d="M-27 7.5h12M15 7.5h9M-33 10.5h9M24 10.5h9M-36 13.5h6M30 13.5h6M-39 16.5h6M33 16.5h6M-39 19.5h3M36 19.5h3M-39 28.5h3M36 28.5h3M-39 31.5h3M36 31.5h3M-39 34.5h6M33 34.5h6M-33 37.5h6M27 37.5h6" stroke="#19acd4" stroke-width="3.3"/><path d="M-15 7.5h30M-24 10.5h6M18 10.5h6M-30 13.5h6M24 13.5h6M-33 16.5h3M30 16.5h3M-36 19.5h3M33 19.5h3M-39 22.5h6M33 22.5h6M-39 25.5h6M33 25.5h6M-36 28.5h3M33 28.5h3M-36 31.5h6M30 31.5h6M-33 34.5h6M27 34.5h6M-27 37.5h6M21 37.5h6" stroke="#1ca6da" stroke-width="3.3"/><path d="M-18 10.5h9M9 10.5h9M-24 13.5h3M21 13.5h3M-30 16.5h6M24 16.5h6M-33 19.5h6M27 19.5h6M-33 22.5h3M30 22.5h3M-33 25.5h3M30 25.5h3M-33 28.5h3M30 28.5h3M-30 31.5h3M27 31.5h3M-27 34.5h3M24 34.5h3M-21 37.5h6M15 37.5h6" stroke="#289ed7" stroke-width="3.3"/><path d="M-9 10.5h18M-21 13.5h6M15 13.5h6M-24 16.5h3M21 16.5h3M-27 19.5h3M24 19.5h3M-30 22.5h3M27 22.5h3M-30 25.5h3M27 25.5h3M-30 28.5h3M27 28.5h3M-27 31.5h3M24 31.5h3M-24 34.5h6M18 34.5h6M-15 37.5h9M6 37.5h9" stroke="#3496d4" stroke-width="3.3"/><path d="M-15 13.5h6M9 13.5h6M-21 16.5h3M18 16.5h3M-24 19.5h3M21 19.5h3M-27 22.5h3M24 22.5h3M-27 25.5h3M24 25.5h3M-27 28.5h6M21 28.5h6M-24 31.5h6M18 31.5h6M-18 34.5h6M12 34.5h6M-6 37.5h12" stroke="#3d8ecc" stroke-width="3.3"/><path d="M-9 13.5h18M-18 16.5h6M12 16.5h6M-21 19.5h3M18 19.5h3M-24 22.5h3M21 22.5h3M-24 25.5h3M21 25.5h3M-21 28.5h3M18 28.5h3M-18 31.5h3M15 31.5h3M-12 34.5h6M6 34.5h6" stroke="#4685c5" stroke-width="3.3"/><path d="M-12 16.5h6M6 16.5h6M-18 19.5h3M15 19.5h3M-21 22.5h3M18 22.5h3M-21 25.5h3M18 25.5h3M-18 28.5h3M15 28.5h3M-15 31.5h6M9 31.5h6M-6 34.5h12" stroke="#487dbe" stroke-width="3.3"/><path d="M-6 16.5h12M-15 19.5h6M9 19.5h6M-18 22.5h6M12 22.5h6M-18 25.5h6M12 25.5h6M-15 28.5h3M12 28.5h3M-9 31.5h18" stroke="#4b75b8" stroke-width="3.3"/><path d="M-9 19.5h18M-12 22.5h3M9 22.5h3M-12 25.5h3M9 25.5h3M-12 28.5h6M6 28.5h6" stroke="#4e6fb5" stroke-width="3.3"/><path d="M-9 22.5h18M-9 25.5h18M-6 28.5h12" stroke="#5069b2" stroke-width="3.3"/></g></g>
<circle r="32.8" fill="none" stroke="#333" stroke-width="0.9"/>
<path d="M-26.8 12.5a1.45 1.45 0 1 0 2.9 0a1.45 1.45 0 1 0 -2.9 0M-21.3 10.6a1.45 1.45 0 1 0 2.9 0a1.45 1.45 0 1 0 -2.9 0M-15.7 9.4a1.45 1.45 0 1 0 2.9 0a1.45 1.45 0 1 0 -2.9 0M-12.2 12.7a1.45 1.45 0 1 0 2.9 0a1.45 1.45 0 1 0 -2.9 0M-17.5 13.6a1.45 1.45 0 1 0 2.9 0a1.45 1.45 0 1 0 -2.9 0M-22.1 14.8a1.45 1.45 0 1 0 2.9 0a1.45 1.45 0 1 0 -2.9 0M-27.2 18.0a1.45 1.45 0 1 0 2.9 0a1.45 1.45 0 1 0 -2.9 0M-21.3 19.7a1.45 1.45 0 1 0 2.9 0a1.45 1.45 0 1 0 -2.9 0M-16.3 20.3a1.45 1.45 0 1 0 2.9 0a1.45 1.45 0 1 0 -2.9 0M-13.1 16.2a1.45 1.45 0 1 0 2.9 0a1.45 1.45 0 1 0 -2.9 0M-9.3 18.8a1.45 1.45 0 1 0 2.9 0a1.45 1.45 0 1 0 -2.9 0M-3.7 15.3a1.45 1.45 0 1 0 2.9 0a1.45 1.45 0 1 0 -2.9 0M-1.6 18.3a1.45 1.45 0 1 0 2.9 0a1.45 1.45 0 1 0 -2.9 0M1.6 21.5a1.45 1.45 0 1 0 2.9 0a1.45 1.45 0 1 0 -2.9 0M-4.2 21.5a1.45 1.45 0 1 0 2.9 0a1.45 1.45 0 1 0 -2.9 0M-9.3 23.8a1.45 1.45 0 1 0 2.9 0a1.45 1.45 0 1 0 -2.9 0M-14.3 24.6a1.45 1.45 0 1 0 2.9 0a1.45 1.45 0 1 0 -2.9 0M-20.1 25.3a1.45 1.45 0 1 0 2.9 0a1.45 1.45 0 1 0 -2.9 0M-11.2 29.7a1.45 1.45 0 1 0 2.9 0a1.45 1.45 0 1 0 -2.9 0M-6.3 27.7a1.45 1.45 0 1 0 2.9 0a1.45 1.45 0 1 0 -2.9 0M-1.1 24.6a1.45 1.45 0 1 0 2.9 0a1.45 1.45 0 1 0 -2.9 0M2.8 27.7a1.45 1.45 0 1 0 2.9 0a1.45 1.45 0 1 0 -2.9 0M6.0 23.8a1.45 1.45 0 1 0 2.9 0a1.45 1.45 0 1 0 -2.9 0M6.0 18.8a1.45 1.45 0 1 0 2.9 0a1.45 1.45 0 1 0 -2.9 0M10.1 16.0a1.45 1.45 0 1 0 2.9 0a1.45 1.45 0 1 0 -2.9 0M8.9 12.7a1.45 1.45 0 1 0 2.9 0a1.45 1.45 0 1 0 -2.9 0M12.7 9.8a1.45 1.45 0 1 0 2.9 0a1.45 1.45 0 1 0 -2.9 0M14.2 13.6a1.45 1.45 0 1 0 2.9 0a1.45 1.45 0 1 0 -2.9 0M18.3 10.6a1.45 1.45 0 1 0 2.9 0a1.45 1.45 0 1 0 -2.9 0M23.5 12.5a1.45 1.45 0 1 0 2.9 0a1.45 1.45 0 1 0 -2.9 0M18.5 14.8a1.45 1.45 0 1 0 2.9 0a1.45 1.45 0 1 0 -2.9 0M13.0 20.3a1.45 1.45 0 1 0 2.9 0a1.45 1.45 0 1 0 -2.9 0M18.5 19.7a1.45 1.45 0 1 0 2.9 0a1.45 1.45 0 1 0 -2.9 0M24.1 18.0a1.45 1.45 0 1 0 2.9 0a1.45 1.45 0 1 0 -2.9 0M11.2 24.6a1.45 1.45 0 1 0 2.9 0a1.45 1.45 0 1 0 -2.9 0M17.1 25.3a1.45 1.45 0 1 0 2.9 0a1.45 1.45 0 1 0 -2.9 0M8.0 29.7a1.45 1.45 0 1 0 2.9 0a1.45 1.45 0 1 0 -2.9 0" fill="#000"/>
</g>
<text x="352.2" y="263.70000000000005" class="t" text-anchor="middle">1</text>
<g transform="translate(470.2 287.1)">
<path d="M-32.5 -5.9 C-35.0 -6.3 -36.599999999999994 -5 -36.599999999999994 -2 L-36.599999999999994 5.5 C-36.599999999999994 8.5 -35.0 9.6 -32.5 9.2Z" fill="#fff" stroke="#777" stroke-width="0.8"/><path d="M32.5 -5.9 C35.0 -6.3 36.599999999999994 -5 36.599999999999994 -2 L36.599999999999994 5.5 C36.599999999999994 8.5 35.0 9.6 32.5 9.2Z" fill="#fff" stroke="#777" stroke-width="0.8"/>
<path d="M-6.3 -32.199999999999996 L0 -38.199999999999996 L6.3 -32.199999999999996" fill="none" stroke="#555" stroke-width="0.85"/>
<path d="M-34.199999999999996 -3.8 C-35.599999999999994 -1.5 -35.599999999999994 3 -34.4 6.2 M34.199999999999996 -3.8 C35.599999999999994 -1.5 35.599999999999994 3 34.4 6.2" fill="none" stroke="#aaa" stroke-width="0.6"/>
<g clip-path="url(#cc)"><g filter="url(#bl)"><path d="M-39 -37.5h78M-39 -34.5h78M-39 -31.5h78M-39 -28.5h78M-39 -25.5h78M-39 -22.5h24M21 -22.5h18M-39 -19.5h15M30 -19.5h9M-39 -16.5h12M33 -16.5h6M-39 -13.5h9M36 -13.5h3M-39 -10.5h9M36 -10.5h3M-39 -7.5h9M36 -7.5h3M-39 -4.5h9M36 -4.5h3M-39 -1.5h12M36 -1.5h3M-39 1.5h21M30 1.5h9M-39 4.5h3M27 4.5h12M36 7.5h3M36 34.5h3M-39 37.5h6M33 37.5h6" stroke="#1cb9b4" stroke-width="3.3"/><path d="M-15 -22.5h36M-24 -19.5h6M24 -19.5h6M-27 -16.5h6M30 -16.5h3M-30 -13.5h6M30 -13.5h6M-30 -10.5h6M33 -10.5h3M-30 -7.5h6M33 -7.5h3M-30 -4.5h6M30 -4.5h6M-27 -1.5h6M30 -1.5h6M-18 1.5h3M24 1.5h6" stroke="#2abcaa" stroke-width="3.3"/><path d="M-18 -19.5h9M15 -19.5h9M-21 -16.5h3M27 -16.5h3M-24 -13.5h3M27 -13.5h3M-24 -10.5h3M30 -10.5h3M-24 -7.5h3M30 -7.5h3M-24 -4.5h3M-21 -1.5h3M27 -1.5h3M-15 1.5h6M18 1.5h6" stroke="#38bea0" stroke-width="3.3"/><path d="M-9 -19.5h24M-18 -16.5h3M24 -16.5h3M-21 -13.5h3M27 -10.5h3M27 -7.5h3M-21 -4.5h3M27 -4.5h3M24 -1.5h3M-9 1.5h9M6 1.5h12" stroke="#46be94" stroke-width="3.3"/><path d="M-15 -16.5h3M18 -16.5h6M24 -13.5h3M-21 -10.5h3M24 -10.5h3M-21 -7.5h3M24 -7.5h3M24 -4.5h3M-18 -1.5h3M21 -1.5h3M0 1.5h6" stroke="#55bf87" stroke-width="3.3"/><path d="M-12 -16.5h3M15 -16.5h3M-18 -13.5h3M21 -13.5h3M-18 -10.5h3M-18 -7.5h3M-18 -4.5h3M21 -4.5h3M-15 -1.5h3M18 -1.5h3" stroke="#69c274" stroke-width="3.3"/><path d="M-9 -16.5h24M-15 -13.5h3M21 -10.5h3M21 -7.5h3M-12 -1.5h3M15 -1.5h3" stroke="#7dc462" stroke-width="3.3"/><path d="M-12 -13.5h6M15 -13.5h3M-12 -4.5h3M15 -4.5h3M-3 -1.5h12" stroke="#a2c741" stroke-width="3.3"/><path d="M-6 -13.5h21M-12 -10.5h3M15 -10.5h3M-12 -7.5h3M15 -7.5h3M-9 -4.5h3M12 -4.5h3" stroke="#b5c437" stroke-width="3.3"/><path d="M18 -13.5h3M-15 -10.5h3M18 -10.5h3M-15 -7.5h3M18 -7.5h3M-15 -4.5h3M18 -4.5h3M-9 -1.5h6M9 -1.5h6" stroke="#90c651" stroke-width="3.3"/><path d="M-9 -10.5h6M9 -10.5h6M-9 -7.5h6M9 -7.5h6M-6 -4.5h18" stroke="#c8c02d" stroke-width="3.3"/><path d="M-3 -10.5h12M-3 -7.5h12" stroke="#d7bc2d" stroke-width="3.3"/><path d="M-36 4.5h12M-15 4.5h42M-39 7.5h9M27 7.5h9M-39 10.5h6M30 10.5h9M-39 13.5h3M33 13.5h6M-39 16.5h3M36 16.5h3M-39 19.5h3M36 19.5h3M-39 22.5h3M36 22.5h3M-39 25.5h3M36 25.5h3M-39 28.5h3M33 28.5h6M-39 31.5h6M33 31.5h6M-39 34.5h9M30 34.5h6M-33 37.5h9M24 37.5h9" stroke="#19b6c0" stroke-width="3.3"/><path d="M-24 4.5h9M-30 7.5h3M21 7.5h6M-33 10.5h3M27 10.5h3M-36 13.5h3M30 13.5h3M-36 16.5h3M30 16.5h6M-36 19.5h3M33 19.5h3M-36 22.5h3M33 22.5h3M-36 25.5h3M33 25.5h3M-36 28.5h3M30 28.5h3M-33 31.5h3M30 31.5h3M-30 34.5h6M24 34.5h6M-24 37.5h9M15 37.5h9" stroke="#16b3cd" stroke-width="3.3"/><path d="M-27 7.5h6M-6 7.5h15M15 7.5h6M-30 10.5h3M24 10.5h3M-33 13.5h3M27 13.5h3M-33 16.5h3M-33 19.5h3M30 19.5h3M-33 22.5h3M30 22.5h3M-33 25.5h3M30 25.5h3M-33 28.5h3M27 28.5h3M-30 31.5h3M27 31.5h3M-24 34.5h3M21 34.5h3M-15 37.5h30" stroke="#19acd4" stroke-width="3.3"/><path d="M-21 7.5h15M9 7.5h6M-27 10.5h3M21 10.5h3M-30 13.5h3M24 13.5h3M-30 16.5h3M27 16.5h3M27 19.5h3M27 22.5h3M-30 25.5h3M27 25.5h3M-30 28.5h3M24 28.5h3M-27 31.5h3M24 31.5h3M-21 34.5h6M15 34.5h6" stroke="#1ca6da" stroke-width="3.3"/><path d="M-24 10.5h6M-3 10.5h9M15 10.5h6M-27 13.5h3M21 13.5h3M24 16.5h3M-30 19.5h3M24 19.5h3M-30 22.5h3M24 22.5h3M24 25.5h3M-27 28.5h3M-24 31.5h3M21 31.5h3M-15 34.5h30" stroke="#289ed7" stroke-width="3.3"/><path d="M-18 10.5h15M6 10.5h9M-24 13.5h3M18 13.5h3M-27 16.5h3M21 16.5h3M-27 19.5h3M-27 22.5h3M-27 25.5h3M-24 28.5h3M21 28.5h3M-21 31.5h6M15 31.5h6" stroke="#3496d4" stroke-width="3.3"/><path d="M-21 13.5h3M-6 13.5h12M15 13.5h3M-24 16.5h3M21 19.5h3M21 22.5h3M-24 25.5h3M21 25.5h3M-21 28.5h3M18 28.5h3M-15 31.5h18M9 31.5h6" stroke="#3d8ecc" stroke-width="3.3"/><path d="M-18 13.5h12M6 13.5h9M-21 16.5h3M18 16.5h3M-24 19.5h3M18 19.5h3M-24 22.5h3M18 22.5h3M-21 25.5h3M18 25.5h3M-18 28.5h6M15 28.5h3M3 31.5h6" stroke="#4685c5" stroke-width="3.3"/><path d="M-18 16.5h3M-9 16.5h27M-21 19.5h3M-3 19.5h6M-21 22.5h3M-18 25.5h3M-6 25.5h9M15 25.5h3M-12 28.5h27" stroke="#487dbe" stroke-width="3.3"/><path d="M-15 16.5h6M-18 19.5h15M3 19.5h15M-18 22.5h36M-15 25.5h9M3 25.5h12" stroke="#4b75b8" stroke-width="3.3"/></g></g>
<circle r="32.8" fill="none" stroke="#333" stroke-width="0.9"/>
<path d="M5.9 -24.0a1.45 1.45 0 1 0 2.9 0a1.45 1.45 0 1 0 -2.9 0M-4.6 -22.0a1.45 1.45 0 1 0 2.9 0a1.45 1.45 0 1 0 -2.9 0M1.2 -22.0a1.45 1.45 0 1 0 2.9 0a1.45 1.45 0 1 0 -2.9 0M-9.3 -19.7a1.45 1.45 0 1 0 2.9 0a1.45 1.45 0 1 0 -2.9 0M-1.8 -19.0a1.45 1.45 0 1 0 2.9 0a1.45 1.45 0 1 0 -2.9 0M5.9 -19.3a1.45 1.45 0 1 0 2.9 0a1.45 1.45 0 1 0 -2.9 0M12.6 -20.5a1.45 1.45 0 1 0 2.9 0a1.45 1.45 0 1 0 -2.9 0M-13.2 -17.0a1.45 1.45 0 1 0 2.9 0a1.45 1.45 0 1 0 -2.9 0M-4.1 -16.2a1.45 1.45 0 1 0 2.9 0a1.45 1.45 0 1 0 -2.9 0M0.5 -16.2a1.45 1.45 0 1 0 2.9 0a1.45 1.45 0 1 0 -2.9 0M9.7 -16.6a1.45 1.45 0 1 0 2.9 0a1.45 1.45 0 1 0 -2.9 0M-12.0 -13.5a1.45 1.45 0 1 0 2.9 0a1.45 1.45 0 1 0 -2.9 0M-6.7 -13.1a1.45 1.45 0 1 0 2.9 0a1.45 1.45 0 1 0 -2.9 0M-1.4 -13.5a1.45 1.45 0 1 0 2.9 0a1.45 1.45 0 1 0 -2.9 0M3.6 -13.5a1.45 1.45 0 1 0 2.9 0a1.45 1.45 0 1 0 -2.9 0M8.7 -13.5a1.45 1.45 0 1 0 2.9 0a1.45 1.45 0 1 0 -2.9 0M13.8 -13.8a1.45 1.45 0 1 0 2.9 0a1.45 1.45 0 1 0 -2.9 0M18.5 -15.0a1.45 1.45 0 1 0 2.9 0a1.45 1.45 0 1 0 -2.9 0M-15.9 -10.3a1.45 1.45 0 1 0 2.9 0a1.45 1.45 0 1 0 -2.9 0M-10.2 -10.3a1.45 1.45 0 1 0 2.9 0a1.45 1.45 0 1 0 -2.9 0M-4.6 -10.3a1.45 1.45 0 1 0 2.9 0a1.45 1.45 0 1 0 -2.9 0M1.2 -10.3a1.45 1.45 0 1 0 2.9 0a1.45 1.45 0 1 0 -2.9 0M6.7 -10.3a1.45 1.45 0 1 0 2.9 0a1.45 1.45 0 1 0 -2.9 0M12.3 -10.3a1.45 1.45 0 1 0 2.9 0a1.45 1.45 0 1 0 -2.9 0M17.9 -11.1a1.45 1.45 0 1 0 2.9 0a1.45 1.45 0 1 0 -2.9 0M-19.6 -7.3a1.45 1.45 0 1 0 2.9 0a1.45 1.45 0 1 0 -2.9 0M-13.5 -7.3a1.45 1.45 0 1 0 2.9 0a1.45 1.45 0 1 0 -2.9 0M-7.7 -7.3a1.45 1.45 0 1 0 2.9 0a1.45 1.45 0 1 0 -2.9 0M-1.8 -7.3a1.45 1.45 0 1 0 2.9 0a1.45 1.45 0 1 0 -2.9 0M4.1 -7.3a1.45 1.45 0 1 0 2.9 0a1.45 1.45 0 1 0 -2.9 0M10.3 -7.3a1.45 1.45 0 1 0 2.9 0a1.45 1.45 0 1 0 -2.9 0M16.1 -7.3a1.45 1.45 0 1 0 2.9 0a1.45 1.45 0 1 0 -2.9 0M-17.0 -3.7a1.45 1.45 0 1 0 2.9 0a1.45 1.45 0 1 0 -2.9 0M-10.8 -3.5a1.45 1.45 0 1 0 2.9 0a1.45 1.45 0 1 0 -2.9 0M-4.6 -3.5a1.45 1.45 0 1 0 2.9 0a1.45 1.45 0 1 0 -2.9 0M1.5 -3.5a1.45 1.45 0 1 0 2.9 0a1.45 1.45 0 1 0 -2.9 0M7.6 -3.5a1.45 1.45 0 1 0 2.9 0a1.45 1.45 0 1 0 -2.9 0M13.8 -3.5a1.45 1.45 0 1 0 2.9 0a1.45 1.45 0 1 0 -2.9 0M20.0 -4.1a1.45 1.45 0 1 0 2.9 0a1.45 1.45 0 1 0 -2.9 0M-14.3 -0.2a1.45 1.45 0 1 0 2.9 0a1.45 1.45 0 1 0 -2.9 0M-7.9 -0.2a1.45 1.45 0 1 0 2.9 0a1.45 1.45 0 1 0 -2.9 0M-1.8 -0.2a1.45 1.45 0 1 0 2.9 0a1.45 1.45 0 1 0 -2.9 0M4.8 -0.2a1.45 1.45 0 1 0 2.9 0a1.45 1.45 0 1 0 -2.9 0M10.8 -0.2a1.45 1.45 0 1 0 2.9 0a1.45 1.45 0 1 0 -2.9 0M17.3 -0.2a1.45 1.45 0 1 0 2.9 0a1.45 1.45 0 1 0 -2.9 0" fill="#000"/>
</g>
<text x="437.4" y="263.70000000000005" class="t" text-anchor="middle">2</text>
<g transform="translate(555.3 287.1)">
<path d="M-32.5 -5.9 C-35.0 -6.3 -36.599999999999994 -5 -36.599999999999994 -2 L-36.599999999999994 5.5 C-36.599999999999994 8.5 -35.0 9.6 -32.5 9.2Z" fill="#fff" stroke="#777" stroke-width="0.8"/><path d="M32.5 -5.9 C35.0 -6.3 36.599999999999994 -5 36.599999999999994 -2 L36.599999999999994 5.5 C36.599999999999994 8.5 35.0 9.6 32.5 9.2Z" fill="#fff" stroke="#777" stroke-width="0.8"/>
<path d="M-6.3 -32.199999999999996 L0 -38.199999999999996 L6.3 -32.199999999999996" fill="none" stroke="#555" stroke-width="0.85"/>
<path d="M-34.199999999999996 -3.8 C-35.599999999999994 -1.5 -35.599999999999994 3 -34.4 6.2 M34.199999999999996 -3.8 C35.599999999999994 -1.5 35.599999999999994 3 34.4 6.2" fill="none" stroke="#aaa" stroke-width="0.6"/>
<g clip-path="url(#cc)"><g filter="url(#bl)"><path d="M-39 -37.5h78M-39 -34.5h78M-39 -31.5h30M9 -31.5h30M-39 -28.5h24M15 -28.5h24M-39 -25.5h18M21 -25.5h18M-39 -22.5h15M24 -22.5h15M-39 -19.5h15M24 -19.5h15M-39 -16.5h12M27 -16.5h12M-39 -13.5h12M27 -13.5h12M-39 -10.5h9M30 -10.5h9M-39 -7.5h9M30 -7.5h9M-39 -4.5h9M30 -4.5h9M-39 -1.5h12M27 -1.5h12M-39 1.5h12M27 1.5h12M-33 4.5h9M24 4.5h9M-27 7.5h6M21 7.5h6M-18 10.5h6M12 10.5h6M-3 13.5h6" stroke="#46be94" stroke-width="3.3"/><path d="M-9 -31.5h18M-15 -28.5h30M-21 -25.5h9M12 -25.5h9M-24 -22.5h9M15 -22.5h9M-24 -19.5h6M18 -19.5h6M-27 -16.5h6M21 -16.5h6M-27 -13.5h3M24 -13.5h3M-30 -10.5h6M24 -10.5h6M-30 -7.5h6M24 -7.5h6M-30 -4.5h6M24 -4.5h6M-27 -1.5h3M24 -1.5h3M-27 1.5h6M21 1.5h6M-24 4.5h3M21 4.5h3M-21 7.5h6M15 7.5h6M-12 10.5h3M9 10.5h3" stroke="#38bea0" stroke-width="3.3"/><path d="M-12 -25.5h24M-15 -22.5h3M12 -22.5h3M-18 -19.5h3M15 -19.5h3M-21 -16.5h3M18 -16.5h3M-24 -13.5h3M21 -13.5h3M-24 -10.5h3M21 -10.5h3M-24 -7.5h3M21 -7.5h3M-24 -4.5h3M21 -4.5h3M-24 -1.5h3M21 -1.5h3M-21 1.5h3M18 1.5h3M-21 4.5h3M18 4.5h3M-15 7.5h3M12 7.5h3M-9 10.5h18" stroke="#2abcaa" stroke-width="3.3"/><path d="M-12 -22.5h6M6 -22.5h6M-15 -19.5h3M12 -19.5h3M-18 -16.5h3M15 -16.5h3M-21 -13.5h3M18 -13.5h3M-21 -10.5h3M18 -10.5h3M-21 -7.5h3M18 -7.5h3M-21 -4.5h3M18 -4.5h3M-21 -1.5h3M18 -1.5h3M-18 4.5h3M15 4.5h3M-12 7.5h3M9 7.5h3" stroke="#1cb9b4" stroke-width="3.3"/><path d="M-6 -22.5h12M-12 -19.5h3M9 -19.5h3M-15 -16.5h3M12 -16.5h3M-18 -13.5h3M15 -13.5h3M-18 -10.5h3M15 -10.5h3M-18 1.5h3M15 1.5h3M-15 4.5h3M12 4.5h3M-9 7.5h3M6 7.5h3" stroke="#19b6c0" stroke-width="3.3"/><path d="M-9 -19.5h18M-12 -16.5h3M9 -16.5h3M-15 -13.5h3M12 -13.5h3M-18 -7.5h3M15 -7.5h3M-18 -4.5h3M15 -4.5h3M-18 -1.5h3M15 -1.5h3M-15 1.5h3M12 1.5h3M-12 4.5h3M9 4.5h3M-6 7.5h12" stroke="#16b3cd" stroke-width="3.3"/><path d="M-9 -16.5h3M6 -16.5h3M-15 -10.5h3M12 -10.5h3M-15 -1.5h3M12 -1.5h3M-9 4.5h3M6 4.5h3" stroke="#19acd4" stroke-width="3.3"/><path d="M-6 -16.5h12M-12 -13.5h3M9 -13.5h3M-15 -7.5h3M12 -7.5h3M-15 -4.5h3M12 -4.5h3M-12 1.5h3M9 1.5h3M-6 4.5h3M3 4.5h3" stroke="#1ca6da" stroke-width="3.3"/><path d="M-9 -13.5h3M6 -13.5h3M-12 -10.5h3M9 -10.5h3M-12 -7.5h3M9 -7.5h3M-12 -1.5h3M9 -1.5h3M-9 1.5h3M6 1.5h3M-3 4.5h6" stroke="#289ed7" stroke-width="3.3"/><path d="M-6 -13.5h12M-9 -10.5h3M6 -10.5h3M-12 -4.5h3M9 -4.5h3M-6 1.5h3M3 1.5h3" stroke="#3496d4" stroke-width="3.3"/><path d="M-6 -10.5h3M3 -10.5h3M-9 -7.5h3M6 -7.5h3M-9 -4.5h3M6 -4.5h3M-9 -1.5h3M6 -1.5h3M-3 1.5h6" stroke="#3d8ecc" stroke-width="3.3"/><path d="M-3 -10.5h6M-6 -7.5h3M3 -7.5h3M-6 -1.5h12" stroke="#4685c5" stroke-width="3.3"/><path d="M-3 -7.5h6M-6 -4.5h12" stroke="#487dbe" stroke-width="3.3"/><path d="M-39 4.5h6M33 4.5h6M-39 7.5h12M27 7.5h12M-39 10.5h21M18 10.5h21M-15 13.5h12M3 13.5h12" stroke="#55bf87" stroke-width="3.3"/><path d="M-39 13.5h24M15 13.5h24M-39 16.5h6M33 16.5h6M-39 19.5h3M36 19.5h3" stroke="#69c274" stroke-width="3.3"/><path d="M-33 16.5h66M-36 19.5h6M30 19.5h6M-39 22.5h6M33 22.5h6" stroke="#7dc462" stroke-width="3.3"/><path d="M-30 19.5h9M21 19.5h9M-33 22.5h3M30 22.5h3M-39 25.5h6M33 25.5h6M-39 28.5h3M36 28.5h3M-39 31.5h3M36 31.5h3M-39 34.5h3M36 34.5h3" stroke="#90c651" stroke-width="3.3"/><path d="M-21 19.5h42M-30 22.5h9M21 22.5h9M-33 25.5h6M27 25.5h6M-36 28.5h6M30 28.5h6M-36 31.5h3M33 31.5h3M-36 34.5h3M33 34.5h3M-39 37.5h6M33 37.5h6" stroke="#a2c741" stroke-width="3.3"/><path d="M-21 22.5h6M15 22.5h6M-27 25.5h3M24 25.5h3M-30 28.5h3M27 28.5h3M-33 31.5h3M30 31.5h3M-33 34.5h3M30 34.5h3M-33 37.5h3M30 37.5h3" stroke="#b5c437" stroke-width="3.3"/><path d="M-15 22.5h30M-24 25.5h6M18 25.5h6M-27 28.5h6M21 28.5h6M-30 31.5h6M24 31.5h6M-30 34.5h3M27 34.5h3M-30 37.5h3M27 37.5h3" stroke="#c8c02d" stroke-width="3.3"/><path d="M-18 25.5h9M9 25.5h9M-21 28.5h3M18 28.5h3M-24 31.5h3M21 31.5h3M-27 34.5h6M21 34.5h6M-27 37.5h6M21 37.5h6" stroke="#d7bc2d" stroke-width="3.3"/><path d="M-9 25.5h18M-18 28.5h6M12 28.5h6M-21 31.5h3M18 31.5h3M-21 34.5h3M18 34.5h3M-21 37.5h3M18 37.5h3" stroke="#e6b92d" stroke-width="3.3"/><path d="M-12 28.5h9M3 28.5h9M-18 31.5h6M12 31.5h6M-18 34.5h3M15 34.5h3M-18 37.5h3M15 37.5h3" stroke="#f0bc32" stroke-width="3.3"/><path d="M-3 28.5h6M-12 31.5h9M3 31.5h9M-15 34.5h6M9 34.5h6M-15 37.5h6M9 37.5h6" stroke="#fac037" stroke-width="3.3"/><path d="M-3 31.5h6M-9 34.5h18M-9 37.5h18" stroke="#f8c932" stroke-width="3.3"/></g></g>
<circle r="32.8" fill="none" stroke="#333" stroke-width="0.9"/>
<path d="M1.5 -22.0a1.45 1.45 0 1 0 2.9 0a1.45 1.45 0 1 0 -2.9 0M-9.3 -19.3a1.45 1.45 0 1 0 2.9 0a1.45 1.45 0 1 0 -2.9 0M-1.4 -19.0a1.45 1.45 0 1 0 2.9 0a1.45 1.45 0 1 0 -2.9 0M6.2 -19.3a1.45 1.45 0 1 0 2.9 0a1.45 1.45 0 1 0 -2.9 0M-13.2 -16.6a1.45 1.45 0 1 0 2.9 0a1.45 1.45 0 1 0 -2.9 0M-4.1 -16.2a1.45 1.45 0 1 0 2.9 0a1.45 1.45 0 1 0 -2.9 0M0.5 -16.2a1.45 1.45 0 1 0 2.9 0a1.45 1.45 0 1 0 -2.9 0M-12.0 -13.1a1.45 1.45 0 1 0 2.9 0a1.45 1.45 0 1 0 -2.9 0M-6.7 -13.1a1.45 1.45 0 1 0 2.9 0a1.45 1.45 0 1 0 -2.9 0M-1.4 -13.1a1.45 1.45 0 1 0 2.9 0a1.45 1.45 0 1 0 -2.9 0M3.6 -13.1a1.45 1.45 0 1 0 2.9 0a1.45 1.45 0 1 0 -2.9 0M8.7 -13.1a1.45 1.45 0 1 0 2.9 0a1.45 1.45 0 1 0 -2.9 0M-15.5 -10.3a1.45 1.45 0 1 0 2.9 0a1.45 1.45 0 1 0 -2.9 0M-10.2 -10.0a1.45 1.45 0 1 0 2.9 0a1.45 1.45 0 1 0 -2.9 0M-4.4 -10.0a1.45 1.45 0 1 0 2.9 0a1.45 1.45 0 1 0 -2.9 0M1.2 -10.0a1.45 1.45 0 1 0 2.9 0a1.45 1.45 0 1 0 -2.9 0M6.7 -10.0a1.45 1.45 0 1 0 2.9 0a1.45 1.45 0 1 0 -2.9 0M12.6 -10.3a1.45 1.45 0 1 0 2.9 0a1.45 1.45 0 1 0 -2.9 0M-19.6 -7.3a1.45 1.45 0 1 0 2.9 0a1.45 1.45 0 1 0 -2.9 0M-13.5 -7.0a1.45 1.45 0 1 0 2.9 0a1.45 1.45 0 1 0 -2.9 0M-7.7 -7.0a1.45 1.45 0 1 0 2.9 0a1.45 1.45 0 1 0 -2.9 0M-1.4 -7.0a1.45 1.45 0 1 0 2.9 0a1.45 1.45 0 1 0 -2.9 0M4.4 -7.0a1.45 1.45 0 1 0 2.9 0a1.45 1.45 0 1 0 -2.9 0M10.3 -7.0a1.45 1.45 0 1 0 2.9 0a1.45 1.45 0 1 0 -2.9 0M-17.0 -3.7a1.45 1.45 0 1 0 2.9 0a1.45 1.45 0 1 0 -2.9 0M-10.8 -3.5a1.45 1.45 0 1 0 2.9 0a1.45 1.45 0 1 0 -2.9 0M-4.6 -3.5a1.45 1.45 0 1 0 2.9 0a1.45 1.45 0 1 0 -2.9 0M1.5 -3.5a1.45 1.45 0 1 0 2.9 0a1.45 1.45 0 1 0 -2.9 0M7.6 -3.5a1.45 1.45 0 1 0 2.9 0a1.45 1.45 0 1 0 -2.9 0M14.1 -3.7a1.45 1.45 0 1 0 2.9 0a1.45 1.45 0 1 0 -2.9 0M-14.0 -0.2a1.45 1.45 0 1 0 2.9 0a1.45 1.45 0 1 0 -2.9 0M-7.9 -0.2a1.45 1.45 0 1 0 2.9 0a1.45 1.45 0 1 0 -2.9 0M-1.4 -0.2a1.45 1.45 0 1 0 2.9 0a1.45 1.45 0 1 0 -2.9 0M4.8 -0.2a1.45 1.45 0 1 0 2.9 0a1.45 1.45 0 1 0 -2.9 0M10.8 -0.2a1.45 1.45 0 1 0 2.9 0a1.45 1.45 0 1 0 -2.9 0M-10.8 2.9a1.45 1.45 0 1 0 2.9 0a1.45 1.45 0 1 0 -2.9 0M-4.6 2.9a1.45 1.45 0 1 0 2.9 0a1.45 1.45 0 1 0 -2.9 0M1.5 2.9a1.45 1.45 0 1 0 2.9 0a1.45 1.45 0 1 0 -2.9 0M7.6 2.9a1.45 1.45 0 1 0 2.9 0a1.45 1.45 0 1 0 -2.9 0M14.1 2.9a1.45 1.45 0 1 0 2.9 0a1.45 1.45 0 1 0 -2.9 0M-7.3 6.1a1.45 1.45 0 1 0 2.9 0a1.45 1.45 0 1 0 -2.9 0M-1.4 5.9a1.45 1.45 0 1 0 2.9 0a1.45 1.45 0 1 0 -2.9 0M4.4 6.1a1.45 1.45 0 1 0 2.9 0a1.45 1.45 0 1 0 -2.9 0M10.3 6.1a1.45 1.45 0 1 0 2.9 0a1.45 1.45 0 1 0 -2.9 0" fill="#000"/>
</g>
<text x="522.5" y="263.70000000000005" class="t" text-anchor="middle">3</text>
<g transform="translate(640.4 287.1)">
<path d="M-32.5 -5.9 C-35.0 -6.3 -36.599999999999994 -5 -36.599999999999994 -2 L-36.599999999999994 5.5 C-36.599999999999994 8.5 -35.0 9.6 -32.5 9.2Z" fill="#fff" stroke="#777" stroke-width="0.8"/><path d="M32.5 -5.9 C35.0 -6.3 36.599999999999994 -5 36.599999999999994 -2 L36.599999999999994 5.5 C36.599999999999994 8.5 35.0 9.6 32.5 9.2Z" fill="#fff" stroke="#777" stroke-width="0.8"/>
<path d="M-6.3 -32.199999999999996 L0 -38.199999999999996 L6.3 -32.199999999999996" fill="none" stroke="#555" stroke-width="0.85"/>
<path d="M-34.199999999999996 -3.8 C-35.599999999999994 -1.5 -35.599999999999994 3 -34.4 6.2 M34.199999999999996 -3.8 C35.599999999999994 -1.5 35.599999999999994 3 34.4 6.2" fill="none" stroke="#aaa" stroke-width="0.6"/>
<g clip-path="url(#cc)"><g filter="url(#bl)"><path d="M-39 -37.5h78M-39 -34.5h78M-39 -31.5h78M-39 -28.5h24M12 -28.5h27M-39 -25.5h18M18 -25.5h21M-39 -22.5h15M24 -22.5h15M-39 -19.5h12M27 -19.5h12M-39 -16.5h9M30 -16.5h9M-39 -13.5h6M30 -13.5h9M-39 -10.5h6M30 -10.5h9M-39 -7.5h6M33 -7.5h6M-39 -4.5h6M33 -4.5h6M-39 -1.5h6M30 -1.5h9M-39 1.5h9M30 1.5h9M-39 4.5h9M27 4.5h12M-39 7.5h12M24 7.5h15M-39 10.5h18M18 10.5h21M-39 13.5h78M-39 16.5h3M36 16.5h3" stroke="#55bf87" stroke-width="3.3"/><path d="M-15 -28.5h27M-21 -25.5h12M6 -25.5h12M-24 -22.5h6M15 -22.5h9M-27 -19.5h6M21 -19.5h6M-30 -16.5h6M24 -16.5h6M-33 -13.5h6M24 -13.5h6M-33 -10.5h6M27 -10.5h3M-33 -7.5h6M27 -7.5h6M-33 -4.5h6M27 -4.5h6M-33 -1.5h6M24 -1.5h6M-30 1.5h6M24 1.5h6M-30 4.5h6M21 4.5h6M-27 7.5h9M18 7.5h6M-21 10.5h9M9 10.5h9" stroke="#46be94" stroke-width="3.3"/><path d="M-9 -25.5h15M-18 -22.5h9M9 -22.5h6M-21 -19.5h3M15 -19.5h6M-24 -16.5h3M18 -16.5h6M-27 -13.5h6M21 -13.5h3M-27 -10.5h3M21 -10.5h6M-27 -7.5h3M24 -7.5h3M-27 -4.5h3M24 -4.5h3M-27 -1.5h3M21 -1.5h3M-24 1.5h3M21 1.5h3M-24 4.5h6M18 4.5h3M-18 7.5h3M12 7.5h6M-12 10.5h21" stroke="#38bea0" stroke-width="3.3"/><path d="M-9 -22.5h18M-18 -19.5h6M12 -19.5h3M-21 -16.5h3M15 -16.5h3M18 -13.5h3M-24 -10.5h3M-24 -7.5h3M21 -7.5h3M-24 -4.5h3M21 -4.5h3M-24 -1.5h3M-21 1.5h3M18 1.5h3M-18 4.5h3M15 4.5h3M-15 7.5h6M9 7.5h3" stroke="#2abcaa" stroke-width="3.3"/><path d="M-12 -19.5h3M9 -19.5h3M-18 -16.5h3M12 -16.5h3M-21 -13.5h3M15 -13.5h3M-21 -10.5h3M18 -10.5h3M18 -7.5h3M18 -4.5h3M-21 -1.5h3M18 -1.5h3M15 1.5h3M-15 4.5h3M12 4.5h3M-9 7.5h18" stroke="#1cb9b4" stroke-width="3.3"/><path d="M-9 -19.5h6M3 -19.5h6M-15 -16.5h3M-18 -13.5h3M15 -10.5h3M-21 -7.5h3M-21 -4.5h3M15 -1.5h3M-18 1.5h3M12 1.5h3M-12 4.5h3M9 4.5h3" stroke="#19b6c0" stroke-width="3.3"/><path d="M-3 -19.5h6M-12 -16.5h3M9 -16.5h3M12 -13.5h3M-18 -10.5h3M15 -7.5h3M15 -4.5h3M-18 -1.5h3M-15 1.5h3M-9 4.5h3M6 4.5h3" stroke="#16b3cd" stroke-width="3.3"/><path d="M-9 -16.5h3M6 -16.5h3M-15 -13.5h3M12 -10.5h3M-18 -7.5h3M-18 -4.5h3M12 -1.5h3M9 1.5h3M-6 4.5h12" stroke="#19acd4" stroke-width="3.3"/><path d="M-6 -16.5h12M-12 -13.5h3M9 -13.5h3M-15 -10.5h3M12 -7.5h3M12 -4.5h3M-15 -1.5h3M-12 1.5h3M6 1.5h3" stroke="#1ca6da" stroke-width="3.3"/><path d="M-9 -13.5h3M3 -13.5h3M-12 -10.5h3M9 -7.5h3M9 -4.5h3M-12 -1.5h3M-6 1.5h9" stroke="#3496d4" stroke-width="3.3"/><path d="M-6 -13.5h9M6 -10.5h3M-12 -7.5h3M-12 -4.5h3M-9 -1.5h3M6 -1.5h3" stroke="#3d8ecc" stroke-width="3.3"/><path d="M6 -13.5h3M9 -10.5h3M-15 -7.5h3M-15 -4.5h3M9 -1.5h3M-9 1.5h3M3 1.5h3" stroke="#289ed7" stroke-width="3.3"/><path d="M-9 -10.5h3M6 -7.5h3M6 -4.5h3M-6 -1.5h3M3 -1.5h3" stroke="#4685c5" stroke-width="3.3"/><path d="M-6 -10.5h3M3 -10.5h3M-9 -7.5h3M-9 -4.5h3M-3 -1.5h6" stroke="#487dbe" stroke-width="3.3"/><path d="M-3 -10.5h6M-6 -7.5h3M3 -7.5h3M-6 -4.5h3M3 -4.5h3" stroke="#4b75b8" stroke-width="3.3"/><path d="M-3 -7.5h6M-3 -4.5h6" stroke="#4e6fb5" stroke-width="3.3"/><path d="M-36 16.5h72M-39 19.5h12M27 19.5h12M-39 22.5h3M36 22.5h3" stroke="#69c274" stroke-width="3.3"/><path d="M-27 19.5h15M15 19.5h12M-36 22.5h9M27 22.5h9M-39 25.5h6M33 25.5h6M-39 28.5h3M36 28.5h3" stroke="#7dc462" stroke-width="3.3"/><path d="M-12 19.5h27M-27 22.5h9M18 22.5h9M-33 25.5h6M27 25.5h6M-36 28.5h6M30 28.5h6M-39 31.5h6M33 31.5h6M-39 34.5h6M33 34.5h6M-39 37.5h6M33 37.5h6" stroke="#90c651" stroke-width="3.3"/><path d="M-18 22.5h12M6 22.5h12M-27 25.5h6M21 25.5h6M-30 28.5h6M24 28.5h6M-33 31.5h6M27 31.5h6M-33 34.5h3M30 34.5h3M-33 37.5h6M27 37.5h6" stroke="#a2c741" stroke-width="3.3"/><path d="M-6 22.5h12M-21 25.5h6M15 25.5h6M-24 28.5h3M21 28.5h3M-27 31.5h3M24 31.5h3M-30 34.5h6M24 34.5h6M-27 37.5h3M24 37.5h3" stroke="#b5c437" stroke-width="3.3"/><path d="M-15 25.5h12M3 25.5h12M-21 28.5h6M15 28.5h6M-24 31.5h3M21 31.5h3M-24 34.5h3M21 34.5h3M-24 37.5h3M21 37.5h3" stroke="#c8c02d" stroke-width="3.3"/><path d="M-3 25.5h6M-15 28.5h6M9 28.5h6M-21 31.5h6M15 31.5h6M-21 34.5h3M18 34.5h3M-21 37.5h6M15 37.5h6" stroke="#d7bc2d" stroke-width="3.3"/><path d="M-9 28.5h18M-15 31.5h3M12 31.5h3M-18 34.5h6M12 34.5h6M-15 37.5h3M12 37.5h3" stroke="#e6b92d" stroke-width="3.3"/><path d="M-12 31.5h9M3 31.5h9M-12 34.5h6M6 34.5h6M-12 37.5h9M3 37.5h9" stroke="#f0bc32" stroke-width="3.3"/><path d="M-3 31.5h6M-6 34.5h12M-3 37.5h6" stroke="#fac037" stroke-width="3.3"/></g></g>
<circle r="32.8" fill="none" stroke="#333" stroke-width="0.9"/>
<path d="M-16.7 12.9a1.45 1.45 0 1 0 2.9 0a1.45 1.45 0 1 0 -2.9 0M-21.4 14.6a1.45 1.45 0 1 0 2.9 0a1.45 1.45 0 1 0 -2.9 0M-12.8 16.2a1.45 1.45 0 1 0 2.9 0a1.45 1.45 0 1 0 -2.9 0M-27.2 18.5a1.45 1.45 0 1 0 2.9 0a1.45 1.45 0 1 0 -2.9 0M-21.4 19.7a1.45 1.45 0 1 0 2.9 0a1.45 1.45 0 1 0 -2.9 0M-16.1 20.5a1.45 1.45 0 1 0 2.9 0a1.45 1.45 0 1 0 -2.9 0M-20.2 25.5a1.45 1.45 0 1 0 2.9 0a1.45 1.45 0 1 0 -2.9 0M-14.0 24.8a1.45 1.45 0 1 0 2.9 0a1.45 1.45 0 1 0 -2.9 0M-9.3 23.7a1.45 1.45 0 1 0 2.9 0a1.45 1.45 0 1 0 -2.9 0M-4.4 21.7a1.45 1.45 0 1 0 2.9 0a1.45 1.45 0 1 0 -2.9 0M1.5 21.7a1.45 1.45 0 1 0 2.9 0a1.45 1.45 0 1 0 -2.9 0M-1.4 25.2a1.45 1.45 0 1 0 2.9 0a1.45 1.45 0 1 0 -2.9 0M-5.5 27.9a1.45 1.45 0 1 0 2.9 0a1.45 1.45 0 1 0 -2.9 0M-11.2 29.5a1.45 1.45 0 1 0 2.9 0a1.45 1.45 0 1 0 -2.9 0M6.4 19.0a1.45 1.45 0 1 0 2.9 0a1.45 1.45 0 1 0 -2.9 0M10.3 16.2a1.45 1.45 0 1 0 2.9 0a1.45 1.45 0 1 0 -2.9 0M14.1 13.1a1.45 1.45 0 1 0 2.9 0a1.45 1.45 0 1 0 -2.9 0M18.8 14.6a1.45 1.45 0 1 0 2.9 0a1.45 1.45 0 1 0 -2.9 0M24.3 18.5a1.45 1.45 0 1 0 2.9 0a1.45 1.45 0 1 0 -2.9 0M18.5 19.7a1.45 1.45 0 1 0 2.9 0a1.45 1.45 0 1 0 -2.9 0M13.2 20.5a1.45 1.45 0 1 0 2.9 0a1.45 1.45 0 1 0 -2.9 0M6.2 24.0a1.45 1.45 0 1 0 2.9 0a1.45 1.45 0 1 0 -2.9 0M11.4 25.2a1.45 1.45 0 1 0 2.9 0a1.45 1.45 0 1 0 -2.9 0M17.3 25.5a1.45 1.45 0 1 0 2.9 0a1.45 1.45 0 1 0 -2.9 0M3.2 27.9a1.45 1.45 0 1 0 2.9 0a1.45 1.45 0 1 0 -2.9 0M8.3 29.5a1.45 1.45 0 1 0 2.9 0a1.45 1.45 0 1 0 -2.9 0" fill="#000"/>
</g>
<text x="607.6" y="263.70000000000005" class="t" text-anchor="middle">4</text>
<rect x="343.0" y="328.40000000000003" width="83.8" height="83.6" rx="9" fill="#efe1f1"/>
<g transform="translate(385.0 372.6)">
<path d="M-32.5 -5.9 C-35.0 -6.3 -36.599999999999994 -5 -36.599999999999994 -2 L-36.599999999999994 5.5 C-36.599999999999994 8.5 -35.0 9.6 -32.5 9.2Z" fill="#fff" stroke="#777" stroke-width="0.8"/><path d="M32.5 -5.9 C35.0 -6.3 36.599999999999994 -5 36.599999999999994 -2 L36.599999999999994 5.5 C36.599999999999994 8.5 35.0 9.6 32.5 9.2Z" fill="#fff" stroke="#777" stroke-width="0.8"/>
<path d="M-6.3 -32.199999999999996 L0 -38.199999999999996 L6.3 -32.199999999999996" fill="none" stroke="#555" stroke-width="0.85"/>
<path d="M-34.199999999999996 -3.8 C-35.599999999999994 -1.5 -35.599999999999994 3 -34.4 6.2 M34.199999999999996 -3.8 C35.599999999999994 -1.5 35.599999999999994 3 34.4 6.2" fill="none" stroke="#aaa" stroke-width="0.6"/>
<g clip-path="url(#cc)"><g filter="url(#bl)"><path d="M-39 -37.5h78M-39 -34.5h78M-39 -31.5h78M-39 -28.5h36M9 -28.5h30M-39 -25.5h30M12 -25.5h27M-39 -22.5h21M15 -22.5h24M-39 -19.5h18M21 -19.5h18M-39 -16.5h15M27 -16.5h12M-39 -13.5h12M33 -13.5h6M-39 -10.5h12M36 -10.5h3M-39 -7.5h12M36 -7.5h3M-39 -4.5h12M36 -4.5h3M-39 -1.5h15M36 -1.5h3M-39 1.5h6M-21 1.5h6M33 1.5h6M-9 4.5h6M30 4.5h9M3 7.5h36M30 10.5h9M36 13.5h3M-39 37.5h3" stroke="#1cb9b4" stroke-width="3.3"/><path d="M-3 -28.5h12M-9 -25.5h6M9 -25.5h3M-18 -22.5h12M9 -22.5h6M-21 -19.5h12M12 -19.5h9M-24 -16.5h6M18 -16.5h9M-27 -13.5h6M27 -13.5h6M-27 -10.5h6M30 -10.5h6M-27 -7.5h6M30 -7.5h6M-27 -4.5h6M30 -4.5h6M-24 -1.5h6M30 -1.5h6M-15 1.5h6M27 1.5h6M-3 4.5h6M24 4.5h6" stroke="#2abcaa" stroke-width="3.3"/><path d="M-3 -25.5h12M-6 -22.5h3M-9 -19.5h3M9 -19.5h3M-18 -16.5h9M12 -16.5h6M-21 -13.5h6M21 -13.5h6M-21 -10.5h3M27 -10.5h3M-21 -7.5h3M27 -7.5h3M-21 -4.5h3M27 -4.5h3M-18 -1.5h3M27 -1.5h3M-9 1.5h3M24 1.5h3M3 4.5h6M15 4.5h9" stroke="#38bea0" stroke-width="3.3"/><path d="M-3 -22.5h3M6 -22.5h3M-6 -19.5h3M-9 -16.5h6M9 -16.5h3M-15 -13.5h6M15 -13.5h6M-18 -10.5h3M24 -10.5h3M-18 -7.5h3M24 -7.5h3M-18 -4.5h3M-15 -1.5h6M24 -1.5h3M-6 1.5h6M21 1.5h3M9 4.5h6" stroke="#46be94" stroke-width="3.3"/><path d="M0 -22.5h6M-3 -19.5h3M6 -19.5h3M-3 -16.5h3M6 -16.5h3M-9 -13.5h6M9 -13.5h6M-15 -10.5h6M21 -10.5h3M-15 -7.5h3M-15 -4.5h3M24 -4.5h3M-9 -1.5h6M21 -1.5h3M0 1.5h6M18 1.5h3" stroke="#55bf87" stroke-width="3.3"/><path d="M0 -19.5h6M0 -16.5h6M-3 -13.5h6M6 -13.5h3M-9 -10.5h6M15 -10.5h6M-12 -7.5h6M21 -7.5h3M-12 -4.5h6M21 -4.5h3M-3 -1.5h3M6 1.5h12" stroke="#69c274" stroke-width="3.3"/><path d="M3 -13.5h3M-3 -10.5h18M-6 -7.5h6M18 -7.5h3M-6 -4.5h6M0 -1.5h6M18 -1.5h3" stroke="#7dc462" stroke-width="3.3"/><path d="M0 -7.5h6M15 -7.5h3M0 -4.5h6M18 -4.5h3M6 -1.5h12" stroke="#90c651" stroke-width="3.3"/><path d="M6 -7.5h9M6 -4.5h12" stroke="#a2c741" stroke-width="3.3"/><path d="M-33 1.5h12M-39 4.5h9M-12 4.5h3M-39 7.5h6M-3 7.5h6M-39 10.5h3M15 10.5h15M27 13.5h9M33 16.5h6M33 19.5h6M36 22.5h3M36 25.5h3M36 28.5h3M-39 31.5h3M36 31.5h3M-39 34.5h6M33 34.5h6M-36 37.5h6M30 37.5h9" stroke="#19b6c0" stroke-width="3.3"/><path d="M-30 4.5h18M-33 7.5h3M-6 7.5h3M-36 10.5h3M6 10.5h9M-39 13.5h3M21 13.5h6M-39 16.5h3M27 16.5h6M-39 19.5h3M30 19.5h3M-39 22.5h3M33 22.5h3M-39 25.5h3M33 25.5h3M-39 28.5h6M33 28.5h3M-36 31.5h3M33 31.5h3M-33 34.5h3M30 34.5h3M-30 37.5h6M24 37.5h6" stroke="#16b3cd" stroke-width="3.3"/><path d="M-30 7.5h3M-9 7.5h3M-33 10.5h3M0 10.5h6M-36 13.5h3M15 13.5h6M-36 16.5h3M24 16.5h3M-36 19.5h3M27 19.5h3M-36 22.5h3M30 22.5h3M-36 25.5h3M30 25.5h3M30 28.5h3M-33 31.5h3M30 31.5h3M-30 34.5h6M27 34.5h3M-24 37.5h12M21 37.5h3" stroke="#19acd4" stroke-width="3.3"/><path d="M-27 7.5h18M-30 10.5h3M-3 10.5h3M-33 13.5h3M6 13.5h9M21 16.5h3M24 19.5h3M27 22.5h3M-33 25.5h3M27 25.5h3M-33 28.5h3M27 28.5h3M-30 31.5h3M27 31.5h3M-24 34.5h3M24 34.5h3M-12 37.5h12M15 37.5h6" stroke="#1ca6da" stroke-width="3.3"/><path d="M-27 10.5h3M-6 10.5h3M-30 13.5h3M3 13.5h3M-33 16.5h3M15 16.5h6M-33 19.5h3M21 19.5h3M-33 22.5h3M24 22.5h3M-30 28.5h3M-27 31.5h3M24 31.5h3M-21 34.5h6M21 34.5h3M0 37.5h15" stroke="#289ed7" stroke-width="3.3"/><path d="M-24 10.5h3M-12 10.5h6M-3 13.5h6M-30 16.5h3M12 16.5h3M-30 25.5h3M24 25.5h3M24 28.5h3M-24 31.5h3M21 31.5h3M-15 34.5h12M15 34.5h6" stroke="#3496d4" stroke-width="3.3"/><path d="M-21 10.5h9M-27 13.5h3M-6 13.5h3M6 16.5h6M-30 19.5h3M18 19.5h3M-30 22.5h3M21 22.5h3M-27 28.5h3M21 28.5h3M-21 31.5h3M18 31.5h3M-3 34.5h9M9 34.5h6" stroke="#3d8ecc" stroke-width="3.3"/><path d="M-24 13.5h3M-9 13.5h3M-27 16.5h3M0 16.5h6M15 19.5h3M18 22.5h3M-27 25.5h3M21 25.5h3M-24 28.5h3M-18 31.5h9M6 34.5h3" stroke="#4685c5" stroke-width="3.3"/><path d="M-21 13.5h3M-12 13.5h3M-3 16.5h3M-27 19.5h3M9 19.5h6M-27 22.5h3M18 25.5h3M-21 28.5h3M18 28.5h3M-9 31.5h9M15 31.5h3" stroke="#487dbe" stroke-width="3.3"/><path d="M-18 13.5h6M-24 16.5h3M-6 16.5h3M3 19.5h6M15 22.5h3M-24 25.5h3M-18 28.5h3M15 28.5h3M0 31.5h15" stroke="#4b75b8" stroke-width="3.3"/><path d="M-21 16.5h3M-12 16.5h6M-24 19.5h3M-3 19.5h6M-24 22.5h3M12 22.5h3M-21 25.5h3M15 25.5h3M-15 28.5h12M12 28.5h3" stroke="#4e6fb5" stroke-width="3.3"/><path d="M-18 16.5h6M-21 19.5h3M-9 19.5h6M-21 22.5h3M-3 22.5h15M-18 25.5h3M12 25.5h3M-3 28.5h15" stroke="#5069b2" stroke-width="3.3"/><path d="M-18 19.5h9M-18 22.5h3M-9 22.5h6M-15 25.5h27" stroke="#5064ae" stroke-width="3.3"/><path d="M-15 22.5h6" stroke="#5060aa" stroke-width="3.3"/></g></g>
<circle r="32.8" fill="none" stroke="#333" stroke-width="0.9"/>
<path d="M-12.0 -13.1a1.45 1.45 0 1 0 2.9 0a1.45 1.45 0 1 0 -2.9 0M-6.8 -12.8a1.45 1.45 0 1 0 2.9 0a1.45 1.45 0 1 0 -2.9 0M-16.0 -10.0a1.45 1.45 0 1 0 2.9 0a1.45 1.45 0 1 0 -2.9 0M-10.1 -9.4a1.45 1.45 0 1 0 2.9 0a1.45 1.45 0 1 0 -2.9 0M-14.0 -6.9a1.45 1.45 0 1 0 2.9 0a1.45 1.45 0 1 0 -2.9 0M-7.7 -6.6a1.45 1.45 0 1 0 2.9 0a1.45 1.45 0 1 0 -2.9 0M-10.9 -3.2a1.45 1.45 0 1 0 2.9 0a1.45 1.45 0 1 0 -2.9 0" fill="#000"/>
</g>
<text x="352.2" y="349.20000000000005" class="t" text-anchor="middle">5</text>
<g transform="translate(470.2 372.6)">
<path d="M-32.5 -5.9 C-35.0 -6.3 -36.599999999999994 -5 -36.599999999999994 -2 L-36.599999999999994 5.5 C-36.599999999999994 8.5 -35.0 9.6 -32.5 9.2Z" fill="#fff" stroke="#777" stroke-width="0.8"/><path d="M32.5 -5.9 C35.0 -6.3 36.599999999999994 -5 36.599999999999994 -2 L36.599999999999994 5.5 C36.599999999999994 8.5 35.0 9.6 32.5 9.2Z" fill="#fff" stroke="#777" stroke-width="0.8"/>
<path d="M-6.3 -32.199999999999996 L0 -38.199999999999996 L6.3 -32.199999999999996" fill="none" stroke="#555" stroke-width="0.85"/>
<path d="M-34.199999999999996 -3.8 C-35.599999999999994 -1.5 -35.599999999999994 3 -34.4 6.2 M34.199999999999996 -3.8 C35.599999999999994 -1.5 35.599999999999994 3 34.4 6.2" fill="none" stroke="#aaa" stroke-width="0.6"/>
<g clip-path="url(#cc)"><g filter="url(#bl)"><path d="M-39 -37.5h78M-39 -34.5h78M-39 -31.5h78M-39 -28.5h33M9 -28.5h30M-39 -25.5h24M18 -25.5h21M-39 -22.5h21M21 -22.5h18M-39 -19.5h18M24 -19.5h15M-39 -16.5h15M27 -16.5h12M-39 -13.5h15M27 -13.5h12M-39 -10.5h15M27 -10.5h12M-39 -7.5h15M27 -7.5h12M-39 -4.5h18M24 -4.5h15M-27 -1.5h12M21 -1.5h12M-18 1.5h12M12 1.5h12" stroke="#38bea0" stroke-width="3.3"/><path d="M-6 -28.5h15M-15 -25.5h12M6 -25.5h12M-18 -22.5h6M15 -22.5h6M-21 -19.5h6M21 -19.5h3M-24 -16.5h6M21 -16.5h6M-24 -13.5h3M24 -13.5h3M-24 -10.5h3M24 -10.5h3M-24 -7.5h6M21 -7.5h6M-21 -4.5h6M18 -4.5h6M-15 -1.5h3M15 -1.5h6M-6 1.5h18" stroke="#2abcaa" stroke-width="3.3"/><path d="M-3 -25.5h9M-12 -22.5h6M9 -22.5h6M-15 -19.5h3M15 -19.5h6M-18 -16.5h3M18 -16.5h3M-21 -13.5h6M21 -13.5h3M-21 -10.5h6M21 -10.5h3M-18 -7.5h3M18 -7.5h3M-15 -4.5h3M15 -4.5h3M-12 -1.5h6M9 -1.5h6" stroke="#1cb9b4" stroke-width="3.3"/><path d="M-6 -22.5h15M-12 -19.5h3M12 -19.5h3M-15 -16.5h3M15 -16.5h3M18 -13.5h3M18 -10.5h3M-15 -7.5h3M15 -7.5h3M-12 -4.5h3M12 -4.5h3M-6 -1.5h15" stroke="#19b6c0" stroke-width="3.3"/><path d="M-9 -19.5h6M6 -19.5h6M-12 -16.5h3M12 -16.5h3M-15 -13.5h3M15 -13.5h3M-15 -10.5h3M15 -10.5h3M-12 -7.5h3M12 -7.5h3M-9 -4.5h3M9 -4.5h3" stroke="#16b3cd" stroke-width="3.3"/><path d="M-3 -19.5h9M-9 -16.5h3M9 -16.5h3M-12 -13.5h3M12 -13.5h3M-12 -10.5h3M12 -10.5h3M-9 -7.5h3M9 -7.5h3M-6 -4.5h15" stroke="#19acd4" stroke-width="3.3"/><path d="M-6 -16.5h3M6 -16.5h3M-9 -13.5h3M9 -13.5h3M-9 -10.5h3M9 -10.5h3M-6 -7.5h3M6 -7.5h3" stroke="#1ca6da" stroke-width="3.3"/><path d="M-3 -16.5h9M-6 -13.5h3M6 -13.5h3M-6 -10.5h3M6 -10.5h3M-3 -7.5h9" stroke="#289ed7" stroke-width="3.3"/><path d="M-3 -13.5h9M-3 -10.5h9" stroke="#3496d4" stroke-width="3.3"/><path d="M-39 -1.5h12M33 -1.5h6M-39 1.5h21M24 1.5h15M-39 4.5h78M-39 7.5h12M27 7.5h12M-39 10.5h6M33 10.5h6M-39 13.5h3M36 13.5h3" stroke="#46be94" stroke-width="3.3"/><path d="M-27 7.5h54M-33 10.5h15M18 10.5h15M-36 13.5h12M24 13.5h12M-39 16.5h9M30 16.5h9M-39 19.5h6M33 19.5h6M-39 22.5h6M33 22.5h6M-39 25.5h3M36 25.5h3M-39 28.5h3M36 28.5h3M-39 31.5h3M36 31.5h3M-39 34.5h6M33 34.5h6M-39 37.5h6M33 37.5h6" stroke="#55bf87" stroke-width="3.3"/><path d="M-18 10.5h36M-24 13.5h9M15 13.5h9M-30 16.5h9M21 16.5h9M-33 19.5h9M24 19.5h9M-33 22.5h6M27 22.5h6M-36 25.5h9M27 25.5h9M-36 28.5h6M30 28.5h6M-36 31.5h6M30 31.5h6M-33 34.5h6M27 34.5h6M-33 37.5h6M27 37.5h6" stroke="#69c274" stroke-width="3.3"/><path d="M-15 13.5h30M-21 16.5h9M12 16.5h9M-24 19.5h6M18 19.5h6M-27 22.5h6M21 22.5h6M-27 25.5h6M21 25.5h6M-30 28.5h6M24 28.5h6M-30 31.5h6M24 31.5h6M-27 34.5h6M21 34.5h6M-27 37.5h9M18 37.5h9" stroke="#7dc462" stroke-width="3.3"/><path d="M-12 16.5h24M-18 19.5h9M9 19.5h9M-21 22.5h6M15 22.5h6M-21 25.5h6M15 25.5h6M-24 28.5h6M18 28.5h6M-24 31.5h6M18 31.5h6M-21 34.5h6M15 34.5h6M-18 37.5h6M12 37.5h6" stroke="#90c651" stroke-width="3.3"/><path d="M-9 19.5h18M-15 22.5h30M-15 25.5h6M9 25.5h6M-18 28.5h6M12 28.5h6M-18 31.5h9M9 31.5h9M-15 34.5h9M6 34.5h9M-12 37.5h24" stroke="#a2c741" stroke-width="3.3"/><path d="M-9 25.5h18M-12 28.5h24M-9 31.5h18M-6 34.5h12" stroke="#b5c437" stroke-width="3.3"/></g></g>
<circle r="32.8" fill="none" stroke="#333" stroke-width="0.9"/>
<path d="M-12.3 -13.2a1.45 1.45 0 1 0 2.9 0a1.45 1.45 0 1 0 -2.9 0M-15.9 -10.2a1.45 1.45 0 1 0 2.9 0a1.45 1.45 0 1 0 -2.9 0M-10.5 -9.7a1.45 1.45 0 1 0 2.9 0a1.45 1.45 0 1 0 -2.9 0M-13.7 -6.7a1.45 1.45 0 1 0 2.9 0a1.45 1.45 0 1 0 -2.9 0M-7.0 -12.9a1.45 1.45 0 1 0 2.9 0a1.45 1.45 0 1 0 -2.9 0M-4.1 -16.0a1.45 1.45 0 1 0 2.9 0a1.45 1.45 0 1 0 -2.9 0M0.3 -16.0a1.45 1.45 0 1 0 2.9 0a1.45 1.45 0 1 0 -2.9 0M-1.8 -12.5a1.45 1.45 0 1 0 2.9 0a1.45 1.45 0 1 0 -2.9 0M3.2 -12.5a1.45 1.45 0 1 0 2.9 0a1.45 1.45 0 1 0 -2.9 0M-4.6 -9.4a1.45 1.45 0 1 0 2.9 0a1.45 1.45 0 1 0 -2.9 0M1.2 -9.4a1.45 1.45 0 1 0 2.9 0a1.45 1.45 0 1 0 -2.9 0M6.7 -9.7a1.45 1.45 0 1 0 2.9 0a1.45 1.45 0 1 0 -2.9 0M-1.8 -6.7a1.45 1.45 0 1 0 2.9 0a1.45 1.45 0 1 0 -2.9 0M4.4 -6.4a1.45 1.45 0 1 0 2.9 0a1.45 1.45 0 1 0 -2.9 0M9.9 -6.7a1.45 1.45 0 1 0 2.9 0a1.45 1.45 0 1 0 -2.9 0M1.5 -3.2a1.45 1.45 0 1 0 2.9 0a1.45 1.45 0 1 0 -2.9 0M7.6 -3.2a1.45 1.45 0 1 0 2.9 0a1.45 1.45 0 1 0 -2.9 0" fill="#000"/>
</g>
<text x="437.4" y="349.20000000000005" class="t" text-anchor="middle">6</text>
<g transform="translate(385.0 517.4)">
<path d="M-32.5 -5.9 C-35.0 -6.3 -36.599999999999994 -5 -36.599999999999994 -2 L-36.599999999999994 5.5 C-36.599999999999994 8.5 -35.0 9.6 -32.5 9.2Z" fill="#fff" stroke="#777" stroke-width="0.8"/><path d="M32.5 -5.9 C35.0 -6.3 36.599999999999994 -5 36.599999999999994 -2 L36.599999999999994 5.5 C36.599999999999994 8.5 35.0 9.6 32.5 9.2Z" fill="#fff" stroke="#777" stroke-width="0.8"/>
<path d="M-6.3 -32.199999999999996 L0 -38.199999999999996 L6.3 -32.199999999999996" fill="none" stroke="#555" stroke-width="0.85"/>
<path d="M-34.199999999999996 -3.8 C-35.599999999999994 -1.5 -35.599999999999994 3 -34.4 6.2 M34.199999999999996 -3.8 C35.599999999999994 -1.5 35.599999999999994 3 34.4 6.2" fill="none" stroke="#aaa" stroke-width="0.6"/>
<g clip-path="url(#cc)"><g filter="url(#bl)"><path d="M-39 -37.5h78M-39 -34.5h54M18 -34.5h21M-39 -31.5h48M27 -31.5h12M-39 -28.5h45M30 -28.5h9M-39 -25.5h45M30 -25.5h9M-39 -22.5h45M30 -22.5h9M-39 -19.5h27M0 -19.5h6M33 -19.5h6M-39 -16.5h21M3 -16.5h6M33 -16.5h6M-39 -13.5h18M6 -13.5h6M33 -13.5h6M-39 -10.5h18M9 -10.5h6M33 -10.5h6M-39 -7.5h15M12 -7.5h6M33 -7.5h6M-39 -4.5h15M12 -4.5h6M36 -4.5h3M-39 -1.5h15M15 -1.5h3M36 -1.5h3M-39 1.5h15M15 1.5h3M-39 4.5h15M15 4.5h3M-39 7.5h15M15 7.5h3M-39 10.5h15M12 10.5h6M-39 13.5h18M12 13.5h3M-39 16.5h18M12 16.5h3M-39 19.5h21M9 19.5h9M-39 22.5h24M6 22.5h12M36 22.5h3M-39 25.5h57M36 25.5h3M-39 28.5h60M30 28.5h9M-39 31.5h78M-39 34.5h78M-39 37.5h78" stroke="#19acd4" stroke-width="3.3"/><path d="M15 -34.5h3M9 -31.5h18M6 -28.5h24M6 -25.5h24M6 -22.5h9M21 -22.5h9M6 -19.5h9M21 -19.5h12M9 -16.5h6M21 -16.5h12M12 -13.5h21M15 -10.5h18M18 -7.5h15M18 -4.5h18M18 -1.5h18M18 1.5h3M30 1.5h9M18 4.5h3M33 4.5h6M18 7.5h3M33 7.5h6M18 10.5h3M33 10.5h6M15 13.5h6M33 13.5h6M15 16.5h6M33 16.5h6M18 19.5h6M30 19.5h9M18 22.5h18M18 25.5h18M21 28.5h9" stroke="#1ca6da" stroke-width="3.3"/><path d="M15 -22.5h6M15 -19.5h6M15 -16.5h6M21 1.5h9M21 4.5h12M21 7.5h12M21 10.5h3M27 10.5h6M21 13.5h12M21 16.5h12M24 19.5h6" stroke="#289ed7" stroke-width="3.3"/><path d="M-12 -19.5h12M-18 -16.5h21M-21 -13.5h9M3 -13.5h3M-21 -10.5h6M6 -10.5h3M-24 -7.5h6M9 -7.5h3M-24 -4.5h6M9 -4.5h3M-24 -1.5h6M12 -1.5h3M-24 1.5h3M12 1.5h3M-24 4.5h6M12 4.5h3M-24 7.5h6M9 7.5h6M-24 10.5h6M9 10.5h3M-21 13.5h6M9 13.5h3M-21 16.5h9M6 16.5h6M-18 19.5h12M0 19.5h9M-15 22.5h21" stroke="#16b3cd" stroke-width="3.3"/><path d="M-12 -13.5h15M-15 -10.5h3M3 -10.5h3M-18 -7.5h3M6 -7.5h3M-18 -4.5h3M6 -4.5h3M-18 -1.5h3M9 -1.5h3M-21 1.5h6M9 1.5h3M-18 4.5h3M9 4.5h3M-18 7.5h3M6 7.5h3M-18 10.5h3M6 10.5h3M-15 13.5h3M3 13.5h6M-12 16.5h18M-6 19.5h6" stroke="#19b6c0" stroke-width="3.3"/><path d="M-12 -10.5h15M-15 -7.5h6M0 -7.5h6M-15 -4.5h3M3 -4.5h3M-15 -1.5h3M6 -1.5h3M6 1.5h3M-15 4.5h3M6 4.5h3M-15 7.5h3M3 7.5h3M-15 10.5h6M3 10.5h3M-12 13.5h15" stroke="#1cb9b4" stroke-width="3.3"/><path d="M-9 -7.5h9M-12 -4.5h3M0 -4.5h3M-12 -1.5h3M3 -1.5h3M-15 1.5h3M3 1.5h3M-12 4.5h3M3 4.5h3M-12 7.5h3M0 7.5h3M-9 10.5h12" stroke="#2abcaa" stroke-width="3.3"/><path d="M-9 -4.5h9M-9 -1.5h3M-3 -1.5h6M-12 1.5h6M0 1.5h3M-9 4.5h3M-3 4.5h6M-9 7.5h9" stroke="#38bea0" stroke-width="3.3"/><path d="M-6 -1.5h3M-6 1.5h6M-6 4.5h3" stroke="#46be94" stroke-width="3.3"/><path d="M24 10.5h3" stroke="#3496d4" stroke-width="3.3"/></g></g>
<circle r="32.8" fill="none" stroke="#333" stroke-width="0.9"/>
<path d="M-13.4 -6.6a1.45 1.45 0 1 0 2.9 0a1.45 1.45 0 1 0 -2.9 0M-7.5 -6.6a1.45 1.45 0 1 0 2.9 0a1.45 1.45 0 1 0 -2.9 0M-10.8 -3.3a1.45 1.45 0 1 0 2.9 0a1.45 1.45 0 1 0 -2.9 0M-4.6 -3.3a1.45 1.45 0 1 0 2.9 0a1.45 1.45 0 1 0 -2.9 0M1.6 -3.3a1.45 1.45 0 1 0 2.9 0a1.45 1.45 0 1 0 -2.9 0M-14.0 -0.4a1.45 1.45 0 1 0 2.9 0a1.45 1.45 0 1 0 -2.9 0M-7.8 0.0a1.45 1.45 0 1 0 2.9 0a1.45 1.45 0 1 0 -2.9 0M-1.4 0.0a1.45 1.45 0 1 0 2.9 0a1.45 1.45 0 1 0 -2.9 0M5.1 0.0a1.45 1.45 0 1 0 2.9 0a1.45 1.45 0 1 0 -2.9 0M-10.8 3.2a1.45 1.45 0 1 0 2.9 0a1.45 1.45 0 1 0 -2.9 0M-4.6 3.2a1.45 1.45 0 1 0 2.9 0a1.45 1.45 0 1 0 -2.9 0M1.6 3.2a1.45 1.45 0 1 0 2.9 0a1.45 1.45 0 1 0 -2.9 0" fill="#000"/>
</g>
<text x="352.2" y="494.0" class="t" text-anchor="middle">1</text>
<g transform="translate(470.2 517.4)">
<path d="M-32.5 -5.9 C-35.0 -6.3 -36.599999999999994 -5 -36.599999999999994 -2 L-36.599999999999994 5.5 C-36.599999999999994 8.5 -35.0 9.6 -32.5 9.2Z" fill="#fff" stroke="#777" stroke-width="0.8"/><path d="M32.5 -5.9 C35.0 -6.3 36.599999999999994 -5 36.599999999999994 -2 L36.599999999999994 5.5 C36.599999999999994 8.5 35.0 9.6 32.5 9.2Z" fill="#fff" stroke="#777" stroke-width="0.8"/>
<path d="M-6.3 -32.199999999999996 L0 -38.199999999999996 L6.3 -32.199999999999996" fill="none" stroke="#555" stroke-width="0.85"/>
<path d="M-34.199999999999996 -3.8 C-35.599999999999994 -1.5 -35.599999999999994 3 -34.4 6.2 M34.199999999999996 -3.8 C35.599999999999994 -1.5 35.599999999999994 3 34.4 6.2" fill="none" stroke="#aaa" stroke-width="0.6"/>
<g clip-path="url(#cc)"><g filter="url(#bl)"><path d="M-39 -37.5h78M-39 -34.5h78M-39 -31.5h78M-39 -28.5h36M3 -28.5h36M-39 -25.5h27M12 -25.5h27M-39 -22.5h24M15 -22.5h24M-39 -19.5h21M18 -19.5h21M-39 -16.5h18M21 -16.5h18M-39 -13.5h15M24 -13.5h15M-39 -10.5h12M27 -10.5h12M-39 -7.5h12M30 -7.5h9M-39 -4.5h9M30 -4.5h9M-39 -1.5h9M30 -1.5h9M-39 1.5h12M30 1.5h9M-39 4.5h15M30 4.5h9M-39 7.5h9M-21 7.5h3M-3 7.5h6M27 7.5h12M-39 10.5h6M6 10.5h3M24 10.5h15M-39 13.5h3M15 13.5h24M-39 16.5h3M30 16.5h9M-39 19.5h3M33 19.5h6M-39 22.5h3M33 22.5h6M-39 25.5h3M36 25.5h3M-39 28.5h3M36 28.5h3M-39 31.5h6M33 31.5h6M-39 34.5h6M33 34.5h6M-39 37.5h9M30 37.5h9" stroke="#38bea0" stroke-width="3.3"/><path d="M-3 -28.5h6M-12 -25.5h24M-15 -22.5h6M9 -22.5h6M-18 -19.5h6M12 -19.5h6M-21 -16.5h3M15 -16.5h6M-24 -13.5h3M18 -13.5h6M-27 -10.5h3M24 -10.5h3M-27 -7.5h3M24 -7.5h6M-30 -4.5h6M27 -4.5h3M-30 -1.5h6M27 -1.5h3M-27 1.5h3M27 1.5h3M-24 4.5h3M27 4.5h3M-18 7.5h3M-6 7.5h3M3 7.5h3M24 7.5h3M9 10.5h3M18 10.5h6" stroke="#2abcaa" stroke-width="3.3"/><path d="M-9 -22.5h3M6 -22.5h3M-12 -19.5h3M9 -19.5h3M-18 -16.5h3M12 -16.5h3M-21 -13.5h3M15 -13.5h3M-24 -10.5h3M21 -10.5h3M-24 -7.5h3M24 -4.5h3M24 -1.5h3M-24 1.5h3M24 1.5h3M-21 4.5h3M24 4.5h3M-15 7.5h9M21 7.5h3M12 10.5h6" stroke="#1cb9b4" stroke-width="3.3"/><path d="M-6 -22.5h12M-9 -19.5h3M6 -19.5h3M-15 -16.5h3M9 -16.5h3M-18 -13.5h3M12 -13.5h3M-21 -10.5h3M18 -10.5h3M21 -7.5h3M-24 -4.5h3M-24 -1.5h3M-3 4.5h6M21 4.5h3M6 7.5h3" stroke="#19b6c0" stroke-width="3.3"/><path d="M-6 -19.5h9M-9 -16.5h3M6 -16.5h3M9 -13.5h3M-18 -10.5h3M12 -10.5h3M-21 -4.5h3M-21 -1.5h3M12 7.5h6" stroke="#19acd4" stroke-width="3.3"/><path d="M3 -19.5h3M-12 -16.5h3M-15 -13.5h3M15 -10.5h3M-21 -7.5h3M18 -7.5h3M21 -4.5h3M21 -1.5h3M-21 1.5h3M21 1.5h3M-18 4.5h3M-6 4.5h3M3 4.5h3M9 7.5h3M18 7.5h3" stroke="#16b3cd" stroke-width="3.3"/><path d="M-6 -16.5h3M3 -16.5h3M6 -13.5h3M9 -10.5h3M12 -7.5h3M18 -1.5h3M-18 1.5h3M-6 1.5h3M3 1.5h3M18 1.5h3M15 4.5h3" stroke="#289ed7" stroke-width="3.3"/><path d="M-3 -16.5h6M-9 -13.5h3M-12 -10.5h3M6 -10.5h3M-18 -4.5h3M15 -4.5h3M-18 -1.5h3M0 -1.5h3M6 1.5h3M9 4.5h6" stroke="#3496d4" stroke-width="3.3"/><path d="M-12 -13.5h3M-15 -10.5h3M-18 -7.5h3M15 -7.5h3M18 -4.5h3M-3 1.5h6M-15 4.5h9M6 4.5h3M18 4.5h3" stroke="#1ca6da" stroke-width="3.3"/><path d="M-6 -13.5h3M3 -13.5h3M-15 -7.5h3M6 -7.5h6M-3 -1.5h3M3 -1.5h3M15 -1.5h3M-15 1.5h3M-9 1.5h3M15 1.5h3" stroke="#3d8ecc" stroke-width="3.3"/><path d="M-3 -13.5h6M-9 -10.5h3M3 -10.5h3M-12 -7.5h3M3 -7.5h3M-15 -4.5h3M0 -4.5h15M-15 -1.5h3M-6 -1.5h3M6 -1.5h3M-12 1.5h3M9 1.5h6" stroke="#4685c5" stroke-width="3.3"/><path d="M-6 -10.5h3M0 -10.5h3M-9 -7.5h3M0 -7.5h3M-6 -4.5h6M-12 -1.5h6M9 -1.5h6" stroke="#487dbe" stroke-width="3.3"/><path d="M-3 -10.5h3M-6 -7.5h6M-12 -4.5h6" stroke="#4b75b8" stroke-width="3.3"/><path d="M-30 7.5h9M-33 10.5h3M-15 10.5h9M-36 13.5h6M12 13.5h3M-36 16.5h6M21 16.5h9M-36 19.5h6M24 19.5h9M-36 22.5h6M27 22.5h6M-36 25.5h6M27 25.5h9M-36 28.5h9M27 28.5h9M-33 31.5h6M27 31.5h6M-33 34.5h9M24 34.5h9M-30 37.5h9M21 37.5h9" stroke="#46be94" stroke-width="3.3"/><path d="M-30 10.5h6M-18 10.5h3M-6 10.5h3M3 10.5h3M-30 13.5h3M9 13.5h3M-30 16.5h3M15 16.5h6M-30 19.5h3M18 19.5h6M-30 22.5h3M21 22.5h6M-30 25.5h6M21 25.5h6M-27 28.5h3M21 28.5h6M-27 31.5h6M21 31.5h6M-24 34.5h6M18 34.5h6M-21 37.5h6M15 37.5h6" stroke="#55bf87" stroke-width="3.3"/><path d="M-24 10.5h6M-3 10.5h6M-27 13.5h3M6 13.5h3M9 16.5h6M-27 19.5h3M15 19.5h3M-27 22.5h3M18 22.5h3M-24 25.5h3M18 25.5h3M-24 28.5h3M18 28.5h3M-21 31.5h3M18 31.5h3M-18 34.5h3M15 34.5h3M-15 37.5h6M9 37.5h6" stroke="#69c274" stroke-width="3.3"/><path d="M-24 13.5h3M-15 13.5h12M3 13.5h3M-27 16.5h3M6 16.5h3M12 19.5h3M-24 22.5h3M15 22.5h3M-21 25.5h3M15 25.5h3M-21 28.5h3M15 28.5h3M-18 31.5h3M15 31.5h3M-15 34.5h6M9 34.5h6M-9 37.5h18" stroke="#7dc462" stroke-width="3.3"/><path d="M-21 13.5h6M-3 13.5h6M-24 16.5h3M-15 16.5h9M3 16.5h3M-24 19.5h3M9 19.5h3M-21 22.5h3M12 22.5h3M-18 25.5h3M12 25.5h3M-18 28.5h6M12 28.5h3M-15 31.5h6M9 31.5h6M-9 34.5h6M3 34.5h6" stroke="#90c651" stroke-width="3.3"/><path d="M-21 16.5h6M-6 16.5h9M-21 19.5h15M3 19.5h6M-18 22.5h6M9 22.5h3M-15 25.5h3M9 25.5h3M-12 28.5h3M9 28.5h3M-9 31.5h3M6 31.5h3M-3 34.5h6" stroke="#a2c741" stroke-width="3.3"/><path d="M-6 19.5h9M-12 22.5h9M3 22.5h6M-12 25.5h6M6 25.5h3M-9 28.5h6M3 28.5h6M-6 31.5h12" stroke="#b5c437" stroke-width="3.3"/><path d="M-3 22.5h6M-6 25.5h12M-3 28.5h6" stroke="#c8c02d" stroke-width="3.3"/></g></g>
<circle r="32.8" fill="none" stroke="#333" stroke-width="0.9"/>
<path d="M-4.6 -22.3a1.45 1.45 0 1 0 2.9 0a1.45 1.45 0 1 0 -2.9 0M1.5 -22.3a1.45 1.45 0 1 0 2.9 0a1.45 1.45 0 1 0 -2.9 0M-1.8 -19.1a1.45 1.45 0 1 0 2.9 0a1.45 1.45 0 1 0 -2.9 0M5.9 -19.4a1.45 1.45 0 1 0 2.9 0a1.45 1.45 0 1 0 -2.9 0M-4.1 -16.2a1.45 1.45 0 1 0 2.9 0a1.45 1.45 0 1 0 -2.9 0M0.9 -16.2a1.45 1.45 0 1 0 2.9 0a1.45 1.45 0 1 0 -2.9 0M-12.3 -13.2a1.45 1.45 0 1 0 2.9 0a1.45 1.45 0 1 0 -2.9 0M-6.7 -12.9a1.45 1.45 0 1 0 2.9 0a1.45 1.45 0 1 0 -2.9 0M-1.8 -12.7a1.45 1.45 0 1 0 2.9 0a1.45 1.45 0 1 0 -2.9 0M3.2 -12.9a1.45 1.45 0 1 0 2.9 0a1.45 1.45 0 1 0 -2.9 0M8.7 -13.2a1.45 1.45 0 1 0 2.9 0a1.45 1.45 0 1 0 -2.9 0M-15.9 -10.1a1.45 1.45 0 1 0 2.9 0a1.45 1.45 0 1 0 -2.9 0M-10.2 -10.1a1.45 1.45 0 1 0 2.9 0a1.45 1.45 0 1 0 -2.9 0M-4.4 -9.7a1.45 1.45 0 1 0 2.9 0a1.45 1.45 0 1 0 -2.9 0M1.2 -9.7a1.45 1.45 0 1 0 2.9 0a1.45 1.45 0 1 0 -2.9 0M6.7 -10.1a1.45 1.45 0 1 0 2.9 0a1.45 1.45 0 1 0 -2.9 0M12.3 -10.1a1.45 1.45 0 1 0 2.9 0a1.45 1.45 0 1 0 -2.9 0M-13.5 -6.8a1.45 1.45 0 1 0 2.9 0a1.45 1.45 0 1 0 -2.9 0M-7.7 -6.6a1.45 1.45 0 1 0 2.9 0a1.45 1.45 0 1 0 -2.9 0M4.4 -6.6a1.45 1.45 0 1 0 2.9 0a1.45 1.45 0 1 0 -2.9 0M10.3 -6.8a1.45 1.45 0 1 0 2.9 0a1.45 1.45 0 1 0 -2.9 0M16.1 -7.0a1.45 1.45 0 1 0 2.9 0a1.45 1.45 0 1 0 -2.9 0M-17.3 -3.5a1.45 1.45 0 1 0 2.9 0a1.45 1.45 0 1 0 -2.9 0M-11.2 -3.3a1.45 1.45 0 1 0 2.9 0a1.45 1.45 0 1 0 -2.9 0M7.3 -3.3a1.45 1.45 0 1 0 2.9 0a1.45 1.45 0 1 0 -2.9 0M13.4 -3.3a1.45 1.45 0 1 0 2.9 0a1.45 1.45 0 1 0 -2.9 0M-20.5 -0.4a1.45 1.45 0 1 0 2.9 0a1.45 1.45 0 1 0 -2.9 0M-14.3 -0.4a1.45 1.45 0 1 0 2.9 0a1.45 1.45 0 1 0 -2.9 0M10.8 -0.4a1.45 1.45 0 1 0 2.9 0a1.45 1.45 0 1 0 -2.9 0M17.3 -0.4a1.45 1.45 0 1 0 2.9 0a1.45 1.45 0 1 0 -2.9 0M-17.3 3.2a1.45 1.45 0 1 0 2.9 0a1.45 1.45 0 1 0 -2.9 0M13.8 3.2a1.45 1.45 0 1 0 2.9 0a1.45 1.45 0 1 0 -2.9 0" fill="#000"/>
</g>
<text x="437.4" y="494.0" class="t" text-anchor="middle">2</text>
<g transform="translate(555.3 517.4)">
<path d="M-32.5 -5.9 C-35.0 -6.3 -36.599999999999994 -5 -36.599999999999994 -2 L-36.599999999999994 5.5 C-36.599999999999994 8.5 -35.0 9.6 -32.5 9.2Z" fill="#fff" stroke="#777" stroke-width="0.8"/><path d="M32.5 -5.9 C35.0 -6.3 36.599999999999994 -5 36.599999999999994 -2 L36.599999999999994 5.5 C36.599999999999994 8.5 35.0 9.6 32.5 9.2Z" fill="#fff" stroke="#777" stroke-width="0.8"/>
<path d="M-6.3 -32.199999999999996 L0 -38.199999999999996 L6.3 -32.199999999999996" fill="none" stroke="#555" stroke-width="0.85"/>
<path d="M-34.199999999999996 -3.8 C-35.599999999999994 -1.5 -35.599999999999994 3 -34.4 6.2 M34.199999999999996 -3.8 C35.599999999999994 -1.5 35.599999999999994 3 34.4 6.2" fill="none" stroke="#aaa" stroke-width="0.6"/>
<g clip-path="url(#cc)"><g filter="url(#bl)"><path d="M-39 -37.5h21M6 -37.5h33M-39 -34.5h15M9 -34.5h30M-39 -31.5h12M9 -31.5h6M27 -31.5h12M-39 -28.5h9M9 -28.5h6M30 -28.5h9M-39 -25.5h9M12 -25.5h3M30 -25.5h9M-39 -22.5h6M12 -22.5h3M33 -22.5h6M-39 -19.5h6M15 -19.5h3M30 -19.5h9M-39 -16.5h3M18 -16.5h21M-39 -13.5h3M21 -13.5h18M27 -10.5h12M33 -7.5h6M36 -4.5h3M36 -1.5h3M36 1.5h3M36 4.5h3M36 7.5h3M36 10.5h3M36 13.5h3M-39 16.5h3M36 16.5h3M-39 19.5h3M33 19.5h6M-39 22.5h3M33 22.5h6M-39 25.5h6M30 25.5h9M-39 28.5h9M30 28.5h9M-39 31.5h9M27 31.5h12M-39 34.5h12M24 34.5h15M-39 37.5h15M21 37.5h18" stroke="#4685c5" stroke-width="3.3"/><path d="M-18 -37.5h24M-24 -34.5h33M-27 -31.5h15M3 -31.5h6M-30 -28.5h12M6 -28.5h3M-30 -25.5h9M9 -25.5h3M-33 -22.5h9M9 -22.5h3M-33 -19.5h6M12 -19.5h3M-36 -16.5h9M15 -16.5h3M-36 -13.5h6M18 -13.5h3M-39 -10.5h9M21 -10.5h6M-39 -7.5h9M24 -7.5h9M-39 -4.5h6M27 -4.5h9M-39 -1.5h6M30 -1.5h6M-39 1.5h6M30 1.5h6M-39 4.5h6M30 4.5h6M-39 7.5h6M30 7.5h6M-39 10.5h9M30 10.5h6M-39 13.5h9M27 13.5h9M-36 16.5h6M27 16.5h9M-36 19.5h9M27 19.5h6M-36 22.5h9M24 22.5h9M-33 25.5h9M21 25.5h9M-30 28.5h9M21 28.5h9M-30 31.5h12M18 31.5h9M-27 34.5h12M12 34.5h12M-24 37.5h18M3 37.5h18" stroke="#3d8ecc" stroke-width="3.3"/><path d="M-12 -31.5h15M-18 -28.5h9M0 -28.5h6M-21 -25.5h6M6 -25.5h3M-24 -22.5h6M-27 -19.5h6M-27 -16.5h3M12 -16.5h3M-30 -13.5h6M15 -13.5h3M-30 -10.5h3M18 -10.5h3M-30 -7.5h3M21 -7.5h3M-33 -4.5h6M24 -4.5h3M-33 -1.5h6M24 -1.5h6M-33 1.5h6M27 1.5h3M-33 4.5h6M27 4.5h3M-33 7.5h6M27 7.5h3M-30 10.5h3M24 10.5h6M-30 13.5h3M24 13.5h3M-30 16.5h6M24 16.5h3M-27 19.5h3M21 19.5h6M-27 22.5h6M21 22.5h3M-24 25.5h6M18 25.5h3M-21 28.5h6M15 28.5h6M-18 31.5h6M9 31.5h9M-15 34.5h27M-6 37.5h9" stroke="#3496d4" stroke-width="3.3"/><path d="M15 -31.5h12M15 -28.5h15M15 -25.5h15M15 -22.5h18M18 -19.5h12" stroke="#487dbe" stroke-width="3.3"/><path d="M-9 -28.5h9M-15 -25.5h6M0 -25.5h6M-18 -22.5h3M6 -22.5h3M-21 -19.5h3M9 -19.5h3M-24 -16.5h3M-24 -13.5h3M-27 -10.5h3M15 -10.5h3M-27 -7.5h3M18 -7.5h3M-27 -4.5h3M21 -4.5h3M21 -1.5h3M24 1.5h3M24 4.5h3M-27 7.5h3M24 7.5h3M-27 10.5h3M21 10.5h3M-27 13.5h3M21 13.5h3M-24 16.5h3M21 16.5h3M-24 19.5h3M18 19.5h3M-21 22.5h3M15 22.5h6M-18 25.5h3M12 25.5h6M-15 28.5h6M9 28.5h6M-12 31.5h21" stroke="#289ed7" stroke-width="3.3"/><path d="M-9 -25.5h9M-15 -22.5h3M3 -22.5h3M-18 -19.5h3M-21 -16.5h3M12 -13.5h3M-24 -10.5h3M-24 -7.5h3M18 -4.5h3M-27 -1.5h3M-27 1.5h3M21 1.5h3M-27 4.5h3M21 4.5h3M21 7.5h3M-24 10.5h3M-24 13.5h3M18 13.5h3M18 16.5h3M-21 19.5h3M15 19.5h3M-18 22.5h3M12 22.5h3M-15 25.5h3M9 25.5h3M-9 28.5h18" stroke="#1ca6da" stroke-width="3.3"/><path d="M-12 -22.5h6M-3 -22.5h6M-15 -19.5h3M6 -19.5h3M-18 -16.5h3M9 -16.5h3M-21 -13.5h3M-21 -10.5h3M15 -7.5h3M-24 -4.5h3M-24 -1.5h3M18 -1.5h3M-24 1.5h3M18 1.5h3M-24 4.5h3M18 4.5h3M-24 7.5h3M18 7.5h3M18 10.5h3M-21 13.5h3M-21 16.5h3M15 16.5h3M-18 19.5h3M12 19.5h3M-15 22.5h3M9 22.5h3M-12 25.5h6M3 25.5h6" stroke="#19acd4" stroke-width="3.3"/><path d="M-6 -22.5h3M3 -19.5h3M-18 -13.5h3M12 -10.5h3M-21 -7.5h3M15 -4.5h3M-21 10.5h3M15 10.5h3M15 13.5h3M-18 16.5h3M-6 25.5h9" stroke="#16b3cd" stroke-width="3.3"/><path d="M-12 -19.5h3M-15 -16.5h3M6 -16.5h3M9 -13.5h3M12 -7.5h3M-21 -4.5h3M-21 -1.5h3M15 -1.5h3M-21 1.5h3M15 1.5h3M-21 4.5h3M15 4.5h3M-21 7.5h3M15 7.5h3M12 16.5h3M-15 19.5h3M9 19.5h3M-12 22.5h3M6 22.5h3" stroke="#19b6c0" stroke-width="3.3"/><path d="M-9 -19.5h12M-18 -10.5h3M-18 13.5h3M12 13.5h3M-9 22.5h15" stroke="#1cb9b4" stroke-width="3.3"/><path d="M-12 -16.5h3M-15 -13.5h3M-18 -7.5h3M-18 -4.5h3M12 -4.5h3M12 -1.5h3M-18 7.5h3M-18 10.5h3M12 10.5h3M-15 16.5h3M9 16.5h3M-12 19.5h3M6 19.5h3" stroke="#2abcaa" stroke-width="3.3"/><path d="M-9 -16.5h3M0 -16.5h3M6 -13.5h3M-15 -10.5h3M-15 13.5h3M9 13.5h3M-9 19.5h6M0 19.5h6" stroke="#46be94" stroke-width="3.3"/><path d="M-6 -16.5h6M-12 -13.5h3M9 -7.5h3M-12 16.5h3M6 16.5h3M-3 19.5h3" stroke="#55bf87" stroke-width="3.3"/><path d="M3 -16.5h3M9 -10.5h3M-18 -1.5h3M-18 1.5h3M12 1.5h3M-18 4.5h3M12 4.5h3M12 7.5h3" stroke="#38bea0" stroke-width="3.3"/><path d="M-9 -13.5h3M-12 -10.5h3M-15 -1.5h3M-15 1.5h3M9 1.5h3M-15 4.5h3M9 4.5h3M-12 13.5h3M6 13.5h3" stroke="#90c651" stroke-width="3.3"/><path d="M-6 -13.5h9M-6 16.5h9" stroke="#a2c741" stroke-width="3.3"/><path d="M3 -13.5h3M6 -10.5h3M-15 -4.5h3M9 -1.5h3M-15 7.5h3M9 7.5h3M-9 16.5h3M3 16.5h3" stroke="#7dc462" stroke-width="3.3"/><path d="M-9 -10.5h3M6 -4.5h3M-12 7.5h3M6 7.5h3" stroke="#d7bc2d" stroke-width="3.3"/><path d="M-6 -10.5h6M3 -7.5h3M-12 1.5h3M3 10.5h3" stroke="#f0bc32" stroke-width="3.3"/><path d="M0 -10.5h3M-12 -4.5h3M-12 -1.5h3M6 -1.5h3M6 1.5h3M-12 4.5h3M6 4.5h3M-6 13.5h9" stroke="#e6b92d" stroke-width="3.3"/><path d="M3 -10.5h3M-12 -7.5h3M-12 10.5h3M-9 13.5h3M3 13.5h3" stroke="#c8c02d" stroke-width="3.3"/><path d="M-15 -7.5h3M9 -4.5h3M-15 10.5h3M9 10.5h3" stroke="#69c274" stroke-width="3.3"/><path d="M-9 -7.5h3M-9 10.5h3" stroke="#fac037" stroke-width="3.3"/><path d="M-6 -7.5h9M-9 -4.5h3M3 -4.5h3M-9 7.5h3M3 7.5h3M-6 10.5h9" stroke="#f5d22d" stroke-width="3.3"/><path d="M6 -7.5h3M6 10.5h3" stroke="#b5c437" stroke-width="3.3"/><path d="M-6 -4.5h3M0 -4.5h3M-6 7.5h3M0 7.5h3" stroke="#f2e12d" stroke-width="3.3"/><path d="M-3 -4.5h3M-6 -1.5h3M0 -1.5h3M-6 4.5h3M0 4.5h3M-3 7.5h3" stroke="#f1e82d" stroke-width="3.3"/><path d="M-9 -1.5h3M3 -1.5h3M-9 1.5h3M3 1.5h3M-9 4.5h3M3 4.5h3" stroke="#f4da2d" stroke-width="3.3"/><path d="M-3 -1.5h3M-6 1.5h9M-3 4.5h3" stroke="#f0ee2d" stroke-width="3.3"/></g></g>
<circle r="32.8" fill="none" stroke="#333" stroke-width="0.9"/>
<path d="M-9.3 -19.3a1.45 1.45 0 1 0 2.9 0a1.45 1.45 0 1 0 -2.9 0M-1.4 -19.1a1.45 1.45 0 1 0 2.9 0a1.45 1.45 0 1 0 -2.9 0M-4.1 -16.2a1.45 1.45 0 1 0 2.9 0a1.45 1.45 0 1 0 -2.9 0M0.5 -16.2a1.45 1.45 0 1 0 2.9 0a1.45 1.45 0 1 0 -2.9 0M-12.3 -13.0a1.45 1.45 0 1 0 2.9 0a1.45 1.45 0 1 0 -2.9 0M-6.7 -13.0a1.45 1.45 0 1 0 2.9 0a1.45 1.45 0 1 0 -2.9 0M-1.4 -13.0a1.45 1.45 0 1 0 2.9 0a1.45 1.45 0 1 0 -2.9 0M3.6 -13.0a1.45 1.45 0 1 0 2.9 0a1.45 1.45 0 1 0 -2.9 0M8.7 -13.0a1.45 1.45 0 1 0 2.9 0a1.45 1.45 0 1 0 -2.9 0M-15.5 -10.1a1.45 1.45 0 1 0 2.9 0a1.45 1.45 0 1 0 -2.9 0M-10.0 -9.7a1.45 1.45 0 1 0 2.9 0a1.45 1.45 0 1 0 -2.9 0M-4.4 -9.7a1.45 1.45 0 1 0 2.9 0a1.45 1.45 0 1 0 -2.9 0M1.2 -9.7a1.45 1.45 0 1 0 2.9 0a1.45 1.45 0 1 0 -2.9 0M6.7 -9.7a1.45 1.45 0 1 0 2.9 0a1.45 1.45 0 1 0 -2.9 0M12.6 -10.1a1.45 1.45 0 1 0 2.9 0a1.45 1.45 0 1 0 -2.9 0M-13.2 -6.8a1.45 1.45 0 1 0 2.9 0a1.45 1.45 0 1 0 -2.9 0M-7.3 -6.6a1.45 1.45 0 1 0 2.9 0a1.45 1.45 0 1 0 -2.9 0M-1.4 -6.6a1.45 1.45 0 1 0 2.9 0a1.45 1.45 0 1 0 -2.9 0M4.4 -6.6a1.45 1.45 0 1 0 2.9 0a1.45 1.45 0 1 0 -2.9 0M10.3 -6.8a1.45 1.45 0 1 0 2.9 0a1.45 1.45 0 1 0 -2.9 0M-17.0 -3.5a1.45 1.45 0 1 0 2.9 0a1.45 1.45 0 1 0 -2.9 0M-10.8 -3.3a1.45 1.45 0 1 0 2.9 0a1.45 1.45 0 1 0 -2.9 0M-4.6 -3.3a1.45 1.45 0 1 0 2.9 0a1.45 1.45 0 1 0 -2.9 0M1.5 -3.3a1.45 1.45 0 1 0 2.9 0a1.45 1.45 0 1 0 -2.9 0M7.6 -3.3a1.45 1.45 0 1 0 2.9 0a1.45 1.45 0 1 0 -2.9 0M-14.0 -0.4a1.45 1.45 0 1 0 2.9 0a1.45 1.45 0 1 0 -2.9 0M-7.9 -0.4a1.45 1.45 0 1 0 2.9 0a1.45 1.45 0 1 0 -2.9 0M-1.4 -0.4a1.45 1.45 0 1 0 2.9 0a1.45 1.45 0 1 0 -2.9 0M4.8 -0.4a1.45 1.45 0 1 0 2.9 0a1.45 1.45 0 1 0 -2.9 0M11.1 -0.4a1.45 1.45 0 1 0 2.9 0a1.45 1.45 0 1 0 -2.9 0M-17.0 3.2a1.45 1.45 0 1 0 2.9 0a1.45 1.45 0 1 0 -2.9 0M-10.8 3.2a1.45 1.45 0 1 0 2.9 0a1.45 1.45 0 1 0 -2.9 0M-4.6 3.2a1.45 1.45 0 1 0 2.9 0a1.45 1.45 0 1 0 -2.9 0M1.5 3.2a1.45 1.45 0 1 0 2.9 0a1.45 1.45 0 1 0 -2.9 0M7.6 3.2a1.45 1.45 0 1 0 2.9 0a1.45 1.45 0 1 0 -2.9 0M-13.2 6.3a1.45 1.45 0 1 0 2.9 0a1.45 1.45 0 1 0 -2.9 0M-7.3 6.3a1.45 1.45 0 1 0 2.9 0a1.45 1.45 0 1 0 -2.9 0M-1.4 6.3a1.45 1.45 0 1 0 2.9 0a1.45 1.45 0 1 0 -2.9 0M4.4 6.3a1.45 1.45 0 1 0 2.9 0a1.45 1.45 0 1 0 -2.9 0M10.3 6.3a1.45 1.45 0 1 0 2.9 0a1.45 1.45 0 1 0 -2.9 0M-15.9 9.8a1.45 1.45 0 1 0 2.9 0a1.45 1.45 0 1 0 -2.9 0M-10.0 9.6a1.45 1.45 0 1 0 2.9 0a1.45 1.45 0 1 0 -2.9 0M-4.4 9.6a1.45 1.45 0 1 0 2.9 0a1.45 1.45 0 1 0 -2.9 0M1.2 9.6a1.45 1.45 0 1 0 2.9 0a1.45 1.45 0 1 0 -2.9 0M6.7 9.6a1.45 1.45 0 1 0 2.9 0a1.45 1.45 0 1 0 -2.9 0M-12.6 13.1a1.45 1.45 0 1 0 2.9 0a1.45 1.45 0 1 0 -2.9 0M-6.7 12.5a1.45 1.45 0 1 0 2.9 0a1.45 1.45 0 1 0 -2.9 0M-1.4 12.5a1.45 1.45 0 1 0 2.9 0a1.45 1.45 0 1 0 -2.9 0M4.1 12.5a1.45 1.45 0 1 0 2.9 0a1.45 1.45 0 1 0 -2.9 0M9.1 12.9a1.45 1.45 0 1 0 2.9 0a1.45 1.45 0 1 0 -2.9 0M-13.2 16.4a1.45 1.45 0 1 0 2.9 0a1.45 1.45 0 1 0 -2.9 0M-3.8 15.5a1.45 1.45 0 1 0 2.9 0a1.45 1.45 0 1 0 -2.9 0M0.9 15.5a1.45 1.45 0 1 0 2.9 0a1.45 1.45 0 1 0 -2.9 0M9.7 16.4a1.45 1.45 0 1 0 2.9 0a1.45 1.45 0 1 0 -2.9 0M-21.7 14.3a1.45 1.45 0 1 0 2.9 0a1.45 1.45 0 1 0 -2.9 0M-27.2 18.4a1.45 1.45 0 1 0 2.9 0a1.45 1.45 0 1 0 -2.9 0M-21.4 19.9a1.45 1.45 0 1 0 2.9 0a1.45 1.45 0 1 0 -2.9 0M-16.3 20.1a1.45 1.45 0 1 0 2.9 0a1.45 1.45 0 1 0 -2.9 0M-9.3 19.0a1.45 1.45 0 1 0 2.9 0a1.45 1.45 0 1 0 -2.9 0M-1.4 18.4a1.45 1.45 0 1 0 2.9 0a1.45 1.45 0 1 0 -2.9 0M6.2 19.0a1.45 1.45 0 1 0 2.9 0a1.45 1.45 0 1 0 -2.9 0M13.2 20.1a1.45 1.45 0 1 0 2.9 0a1.45 1.45 0 1 0 -2.9 0M18.5 19.9a1.45 1.45 0 1 0 2.9 0a1.45 1.45 0 1 0 -2.9 0M-20.2 25.4a1.45 1.45 0 1 0 2.9 0a1.45 1.45 0 1 0 -2.9 0M-14.3 24.8a1.45 1.45 0 1 0 2.9 0a1.45 1.45 0 1 0 -2.9 0M-9.1 23.4a1.45 1.45 0 1 0 2.9 0a1.45 1.45 0 1 0 -2.9 0M-4.4 21.6a1.45 1.45 0 1 0 2.9 0a1.45 1.45 0 1 0 -2.9 0M1.7 21.6a1.45 1.45 0 1 0 2.9 0a1.45 1.45 0 1 0 -2.9 0M5.9 23.4a1.45 1.45 0 1 0 2.9 0a1.45 1.45 0 1 0 -2.9 0M11.4 24.8a1.45 1.45 0 1 0 2.9 0a1.45 1.45 0 1 0 -2.9 0M16.7 25.4a1.45 1.45 0 1 0 2.9 0a1.45 1.45 0 1 0 -2.9 0M-11.2 29.5a1.45 1.45 0 1 0 2.9 0a1.45 1.45 0 1 0 -2.9 0M-6.1 27.4a1.45 1.45 0 1 0 2.9 0a1.45 1.45 0 1 0 -2.9 0M3.2 27.4a1.45 1.45 0 1 0 2.9 0a1.45 1.45 0 1 0 -2.9 0M8.3 29.5a1.45 1.45 0 1 0 2.9 0a1.45 1.45 0 1 0 -2.9 0M-1.4 24.8a1.45 1.45 0 1 0 2.9 0a1.45 1.45 0 1 0 -2.9 0" fill="#000"/>
</g>
<text x="522.5" y="494.0" class="t" text-anchor="middle">3</text>
<rect x="598.4" y="473.2" width="83.8" height="83.6" rx="9" fill="#efe1f1"/>
<g transform="translate(640.4 517.4)">
<path d="M-32.5 -5.9 C-35.0 -6.3 -36.599999999999994 -5 -36.599999999999994 -2 L-36.599999999999994 5.5 C-36.599999999999994 8.5 -35.0 9.6 -32.5 9.2Z" fill="#fff" stroke="#777" stroke-width="0.8"/><path d="M32.5 -5.9 C35.0 -6.3 36.599999999999994 -5 36.599999999999994 -2 L36.599999999999994 5.5 C36.599999999999994 8.5 35.0 9.6 32.5 9.2Z" fill="#fff" stroke="#777" stroke-width="0.8"/>
<path d="M-6.3 -32.199999999999996 L0 -38.199999999999996 L6.3 -32.199999999999996" fill="none" stroke="#555" stroke-width="0.85"/>
<path d="M-34.199999999999996 -3.8 C-35.599999999999994 -1.5 -35.599999999999994 3 -34.4 6.2 M34.199999999999996 -3.8 C35.599999999999994 -1.5 35.599999999999994 3 34.4 6.2" fill="none" stroke="#aaa" stroke-width="0.6"/>
<g clip-path="url(#cc)"><g filter="url(#bl)"><path d="M-39 -37.5h30M6 -37.5h33M-39 -34.5h21M15 -34.5h24M-39 -31.5h15M21 -31.5h18M-39 -28.5h12M24 -28.5h15M-39 -25.5h9M27 -25.5h12M-39 -22.5h6M30 -22.5h9M-39 -19.5h6M30 -19.5h9M-39 -16.5h3M33 -16.5h6M-39 -13.5h3M33 -13.5h6M36 -10.5h3M36 -7.5h3M36 -4.5h3M36 -1.5h3M36 1.5h3M36 4.5h3M36 7.5h3M36 10.5h3M-39 13.5h3M33 13.5h6M-39 16.5h3M33 16.5h6M-39 19.5h6M30 19.5h9M-39 22.5h6M30 22.5h9M-39 25.5h9M27 25.5h12M-39 28.5h12M24 28.5h15M-39 31.5h15M21 31.5h18M-39 34.5h21M15 34.5h24M-39 37.5h30M6 37.5h33" stroke="#5060aa" stroke-width="3.3"/><path d="M-9 -37.5h15M-18 -34.5h33M-24 -31.5h45M-27 -28.5h12M12 -28.5h12M-30 -25.5h9M15 -25.5h12M-33 -22.5h9M21 -22.5h9M-33 -19.5h6M24 -19.5h6M-36 -16.5h9M24 -16.5h9M-36 -13.5h6M27 -13.5h6M-39 -10.5h9M27 -10.5h9M-39 -7.5h6M30 -7.5h6M-39 -4.5h6M30 -4.5h6M-39 -1.5h6M30 -1.5h6M-39 1.5h6M30 1.5h6M-39 4.5h6M30 4.5h6M-39 7.5h6M30 7.5h6M-39 10.5h9M27 10.5h9M-36 13.5h6M27 13.5h6M-36 16.5h9M24 16.5h9M-33 19.5h6M24 19.5h6M-33 22.5h9M21 22.5h9M-30 25.5h9M15 25.5h12M-27 28.5h12M12 28.5h12M-24 31.5h45M-18 34.5h33M-9 37.5h15" stroke="#5064ae" stroke-width="3.3"/><path d="M-15 -28.5h27M-21 -25.5h9M9 -25.5h6M-24 -22.5h6M15 -22.5h6M-27 -19.5h6M18 -19.5h6M-27 -16.5h3M21 -16.5h3M-30 -13.5h3M24 -13.5h3M-30 -10.5h3M24 -10.5h3M-33 -7.5h6M24 -7.5h6M-33 -4.5h3M27 -4.5h3M-33 -1.5h3M27 -1.5h3M-33 1.5h3M27 1.5h3M-33 4.5h3M27 4.5h3M-33 7.5h6M24 7.5h6M-30 10.5h3M24 10.5h3M-30 13.5h3M24 13.5h3M-27 16.5h3M21 16.5h3M-27 19.5h6M18 19.5h6M-24 22.5h6M15 22.5h6M-21 25.5h9M9 25.5h6M-15 28.5h27" stroke="#5069b2" stroke-width="3.3"/><path d="M-12 -25.5h21M-18 -22.5h3M9 -22.5h6M-21 -19.5h3M15 -19.5h3M-24 -16.5h3M18 -16.5h3M-27 -13.5h3M21 -13.5h3M-27 -10.5h3M21 -10.5h3M21 -7.5h3M-30 -4.5h3M24 -4.5h3M-30 -1.5h3M24 -1.5h3M-30 1.5h3M24 1.5h3M-30 4.5h3M24 4.5h3M21 7.5h3M-27 10.5h3M21 10.5h3M-27 13.5h3M21 13.5h3M-24 16.5h3M18 16.5h3M-21 19.5h3M15 19.5h3M-18 22.5h3M9 22.5h6M-12 25.5h21" stroke="#4e6fb5" stroke-width="3.3"/><path d="M-15 -22.5h6M6 -22.5h3M-18 -19.5h3M12 -19.5h3M-21 -16.5h3M15 -16.5h3M-24 -13.5h3M18 -13.5h3M-27 -7.5h3M-27 -4.5h3M21 -4.5h3M-27 -1.5h3M21 -1.5h3M-27 1.5h3M21 1.5h3M-27 4.5h3M21 4.5h3M-27 7.5h3M-24 13.5h3M18 13.5h3M-21 16.5h3M15 16.5h3M-18 19.5h3M12 19.5h3M-15 22.5h6M6 22.5h3" stroke="#4b75b8" stroke-width="3.3"/><path d="M-9 -22.5h15M-15 -19.5h3M9 -19.5h3M-24 -10.5h3M18 -10.5h3M18 -7.5h3M18 7.5h3M-24 10.5h3M18 10.5h3M-15 19.5h3M9 19.5h3M-9 22.5h15" stroke="#487dbe" stroke-width="3.3"/><path d="M-12 -19.5h3M6 -19.5h3M-18 -16.5h3M12 -16.5h3M-21 -13.5h3M15 -13.5h3M-24 -7.5h3M-24 -4.5h3M18 -4.5h3M-24 -1.5h3M18 -1.5h3M-24 1.5h3M18 1.5h3M-24 4.5h3M18 4.5h3M-24 7.5h3M-21 13.5h3M15 13.5h3M-18 16.5h3M12 16.5h3M-12 19.5h3M6 19.5h3" stroke="#4685c5" stroke-width="3.3"/><path d="M-9 -19.5h3M3 -19.5h3M-21 -10.5h3M15 -10.5h3M-21 10.5h3M15 10.5h3M-9 19.5h3M3 19.5h3" stroke="#3d8ecc" stroke-width="3.3"/><path d="M-6 -19.5h9M-15 -16.5h3M9 -16.5h3M12 -13.5h3M15 -7.5h3M15 7.5h3M12 13.5h3M-15 16.5h3M9 16.5h3M-6 19.5h9" stroke="#3496d4" stroke-width="3.3"/><path d="M-12 -16.5h3M6 -16.5h3M-21 -4.5h3M-21 -1.5h3M-21 1.5h3M-21 4.5h3M-12 16.5h3M6 16.5h3" stroke="#1ca6da" stroke-width="3.3"/><path d="M-9 -16.5h3M3 -16.5h3M-18 -10.5h3M12 -10.5h3M-18 10.5h3M12 10.5h3M-9 16.5h3M3 16.5h3" stroke="#19acd4" stroke-width="3.3"/><path d="M-6 -16.5h9M-15 -13.5h3M9 -13.5h3M-15 13.5h3M9 13.5h3M-6 16.5h9" stroke="#16b3cd" stroke-width="3.3"/><path d="M-18 -13.5h3M-21 -7.5h3M15 -4.5h3M15 -1.5h3M15 1.5h3M15 4.5h3M-21 7.5h3M-18 13.5h3" stroke="#289ed7" stroke-width="3.3"/><path d="M-12 -13.5h3M9 -10.5h3M-18 -4.5h3M-18 -1.5h3M-18 1.5h3M-18 4.5h3M9 10.5h3M-12 13.5h3" stroke="#2abcaa" stroke-width="3.3"/><path d="M-9 -13.5h3M0 -13.5h3M-9 13.5h3M0 13.5h3" stroke="#46be94" stroke-width="3.3"/><path d="M-6 -13.5h6M-15 -7.5h3M9 -7.5h3M-15 7.5h3M9 7.5h3M-6 13.5h6" stroke="#55bf87" stroke-width="3.3"/><path d="M3 -13.5h3M-15 -10.5h3M-15 10.5h3M3 13.5h3" stroke="#38bea0" stroke-width="3.3"/><path d="M6 -13.5h3M12 -4.5h3M12 -1.5h3M12 1.5h3M12 4.5h3M6 13.5h3" stroke="#1cb9b4" stroke-width="3.3"/><path d="M-12 -10.5h3M6 -10.5h3M-12 10.5h3M6 10.5h3" stroke="#69c274" stroke-width="3.3"/><path d="M-9 -10.5h3M3 -10.5h3M-9 10.5h3M3 10.5h3" stroke="#a2c741" stroke-width="3.3"/><path d="M-6 -10.5h3M0 -10.5h3M-12 -7.5h3M6 -7.5h3M-12 7.5h3M6 7.5h3M-6 10.5h3M0 10.5h3" stroke="#b5c437" stroke-width="3.3"/><path d="M-3 -10.5h3M-3 10.5h3" stroke="#c8c02d" stroke-width="3.3"/><path d="M-18 -7.5h3M12 -7.5h3M-18 7.5h3M12 7.5h3" stroke="#19b6c0" stroke-width="3.3"/><path d="M-9 -7.5h3M3 -7.5h3M-12 -1.5h3M6 -1.5h3M-12 1.5h3M6 1.5h3M-9 7.5h3M3 7.5h3" stroke="#e6b92d" stroke-width="3.3"/><path d="M-6 -7.5h9M-6 7.5h9" stroke="#fac037" stroke-width="3.3"/><path d="M-15 -4.5h3M9 -4.5h3M9 -1.5h3M9 1.5h3M-15 4.5h3M9 4.5h3" stroke="#7dc462" stroke-width="3.3"/><path d="M-12 -4.5h3M6 -4.5h3M-12 4.5h3M6 4.5h3" stroke="#d7bc2d" stroke-width="3.3"/><path d="M-9 -4.5h3M3 -4.5h3M-9 4.5h3M3 4.5h3" stroke="#f8c932" stroke-width="3.3"/><path d="M-6 -4.5h6M0 -1.5h3M0 1.5h3M-6 4.5h6" stroke="#f4da2d" stroke-width="3.3"/><path d="M0 -4.5h3M-9 -1.5h3M3 -1.5h3M-9 1.5h3M3 1.5h3M0 4.5h3" stroke="#f5d22d" stroke-width="3.3"/><path d="M-15 -1.5h3M-15 1.5h3" stroke="#90c651" stroke-width="3.3"/><path d="M-6 -1.5h6M-6 1.5h6" stroke="#f2e12d" stroke-width="3.3"/></g></g>
<circle r="32.8" fill="none" stroke="#333" stroke-width="0.9"/>
<path d="M-9.3 -24.4a1.45 1.45 0 1 0 2.9 0a1.45 1.45 0 1 0 -2.9 0M-4.4 -22.3a1.45 1.45 0 1 0 2.9 0a1.45 1.45 0 1 0 -2.9 0M1.5 -22.3a1.45 1.45 0 1 0 2.9 0a1.45 1.45 0 1 0 -2.9 0M6.2 -24.4a1.45 1.45 0 1 0 2.9 0a1.45 1.45 0 1 0 -2.9 0M-1.4 -19.1a1.45 1.45 0 1 0 2.9 0a1.45 1.45 0 1 0 -2.9 0M6.2 -19.4a1.45 1.45 0 1 0 2.9 0a1.45 1.45 0 1 0 -2.9 0M0.5 -16.2a1.45 1.45 0 1 0 2.9 0a1.45 1.45 0 1 0 -2.9 0M13.2 -20.9a1.45 1.45 0 1 0 2.9 0a1.45 1.45 0 1 0 -2.9 0M-16.3 -20.6a1.45 1.45 0 1 0 2.9 0a1.45 1.45 0 1 0 -2.9 0M-26.9 -19.1a1.45 1.45 0 1 0 2.9 0a1.45 1.45 0 1 0 -2.9 0M24.3 -19.1a1.45 1.45 0 1 0 2.9 0a1.45 1.45 0 1 0 -2.9 0M-21.7 -15.2a1.45 1.45 0 1 0 2.9 0a1.45 1.45 0 1 0 -2.9 0M-26.4 -12.9a1.45 1.45 0 1 0 2.9 0a1.45 1.45 0 1 0 -2.9 0M-21.0 -11.5a1.45 1.45 0 1 0 2.9 0a1.45 1.45 0 1 0 -2.9 0M-31.3 -10.1a1.45 1.45 0 1 0 2.9 0a1.45 1.45 0 1 0 -2.9 0M-24.9 -8.0a1.45 1.45 0 1 0 2.9 0a1.45 1.45 0 1 0 -2.9 0M-29.2 -4.7a1.45 1.45 0 1 0 2.9 0a1.45 1.45 0 1 0 -2.9 0M-23.1 -3.9a1.45 1.45 0 1 0 2.9 0a1.45 1.45 0 1 0 -2.9 0M-26.4 -0.4a1.45 1.45 0 1 0 2.9 0a1.45 1.45 0 1 0 -2.9 0M-23.1 3.5a1.45 1.45 0 1 0 2.9 0a1.45 1.45 0 1 0 -2.9 0M-25.5 7.3a1.45 1.45 0 1 0 2.9 0a1.45 1.45 0 1 0 -2.9 0M-31.3 9.8a1.45 1.45 0 1 0 2.9 0a1.45 1.45 0 1 0 -2.9 0M-21.0 10.5a1.45 1.45 0 1 0 2.9 0a1.45 1.45 0 1 0 -2.9 0M-26.4 12.5a1.45 1.45 0 1 0 2.9 0a1.45 1.45 0 1 0 -2.9 0M-21.7 14.3a1.45 1.45 0 1 0 2.9 0a1.45 1.45 0 1 0 -2.9 0M-16.7 13.4a1.45 1.45 0 1 0 2.9 0a1.45 1.45 0 1 0 -2.9 0M-13.2 16.4a1.45 1.45 0 1 0 2.9 0a1.45 1.45 0 1 0 -2.9 0M-26.9 18.4a1.45 1.45 0 1 0 2.9 0a1.45 1.45 0 1 0 -2.9 0M-21.4 19.9a1.45 1.45 0 1 0 2.9 0a1.45 1.45 0 1 0 -2.9 0M-16.3 19.9a1.45 1.45 0 1 0 2.9 0a1.45 1.45 0 1 0 -2.9 0M-20.2 25.8a1.45 1.45 0 1 0 2.9 0a1.45 1.45 0 1 0 -2.9 0M-14.3 24.8a1.45 1.45 0 1 0 2.9 0a1.45 1.45 0 1 0 -2.9 0M-11.2 29.5a1.45 1.45 0 1 0 2.9 0a1.45 1.45 0 1 0 -2.9 0M-9.3 23.4a1.45 1.45 0 1 0 2.9 0a1.45 1.45 0 1 0 -2.9 0M-4.6 21.3a1.45 1.45 0 1 0 2.9 0a1.45 1.45 0 1 0 -2.9 0M-1.4 24.6a1.45 1.45 0 1 0 2.9 0a1.45 1.45 0 1 0 -2.9 0M1.5 21.3a1.45 1.45 0 1 0 2.9 0a1.45 1.45 0 1 0 -2.9 0M-6.1 27.4a1.45 1.45 0 1 0 2.9 0a1.45 1.45 0 1 0 -2.9 0M3.2 27.4a1.45 1.45 0 1 0 2.9 0a1.45 1.45 0 1 0 -2.9 0M6.2 23.4a1.45 1.45 0 1 0 2.9 0a1.45 1.45 0 1 0 -2.9 0M6.4 19.0a1.45 1.45 0 1 0 2.9 0a1.45 1.45 0 1 0 -2.9 0M8.3 29.5a1.45 1.45 0 1 0 2.9 0a1.45 1.45 0 1 0 -2.9 0M9.7 16.4a1.45 1.45 0 1 0 2.9 0a1.45 1.45 0 1 0 -2.9 0M8.7 12.9a1.45 1.45 0 1 0 2.9 0a1.45 1.45 0 1 0 -2.9 0M13.2 20.1a1.45 1.45 0 1 0 2.9 0a1.45 1.45 0 1 0 -2.9 0M11.4 24.8a1.45 1.45 0 1 0 2.9 0a1.45 1.45 0 1 0 -2.9 0M16.7 25.4a1.45 1.45 0 1 0 2.9 0a1.45 1.45 0 1 0 -2.9 0M18.5 19.9a1.45 1.45 0 1 0 2.9 0a1.45 1.45 0 1 0 -2.9 0M14.1 13.4a1.45 1.45 0 1 0 2.9 0a1.45 1.45 0 1 0 -2.9 0M12.6 9.8a1.45 1.45 0 1 0 2.9 0a1.45 1.45 0 1 0 -2.9 0M18.8 14.3a1.45 1.45 0 1 0 2.9 0a1.45 1.45 0 1 0 -2.9 0M23.7 17.8a1.45 1.45 0 1 0 2.9 0a1.45 1.45 0 1 0 -2.9 0M18.5 10.2a1.45 1.45 0 1 0 2.9 0a1.45 1.45 0 1 0 -2.9 0M22.3 7.5a1.45 1.45 0 1 0 2.9 0a1.45 1.45 0 1 0 -2.9 0M28.2 9.8a1.45 1.45 0 1 0 2.9 0a1.45 1.45 0 1 0 -2.9 0M16.1 6.7a1.45 1.45 0 1 0 2.9 0a1.45 1.45 0 1 0 -2.9 0M23.1 12.5a1.45 1.45 0 1 0 2.9 0a1.45 1.45 0 1 0 -2.9 0M20.2 3.5a1.45 1.45 0 1 0 2.9 0a1.45 1.45 0 1 0 -2.9 0M23.7 -0.4a1.45 1.45 0 1 0 2.9 0a1.45 1.45 0 1 0 -2.9 0M17.6 -0.4a1.45 1.45 0 1 0 2.9 0a1.45 1.45 0 1 0 -2.9 0M20.5 -4.2a1.45 1.45 0 1 0 2.9 0a1.45 1.45 0 1 0 -2.9 0M26.3 -5.0a1.45 1.45 0 1 0 2.9 0a1.45 1.45 0 1 0 -2.9 0M16.5 -7.4a1.45 1.45 0 1 0 2.9 0a1.45 1.45 0 1 0 -2.9 0M22.3 -8.0a1.45 1.45 0 1 0 2.9 0a1.45 1.45 0 1 0 -2.9 0M28.4 -10.1a1.45 1.45 0 1 0 2.9 0a1.45 1.45 0 1 0 -2.9 0M12.6 -10.1a1.45 1.45 0 1 0 2.9 0a1.45 1.45 0 1 0 -2.9 0M18.5 -11.7a1.45 1.45 0 1 0 2.9 0a1.45 1.45 0 1 0 -2.9 0M14.1 -13.8a1.45 1.45 0 1 0 2.9 0a1.45 1.45 0 1 0 -2.9 0M9.1 -13.2a1.45 1.45 0 1 0 2.9 0a1.45 1.45 0 1 0 -2.9 0M10.3 -16.8a1.45 1.45 0 1 0 2.9 0a1.45 1.45 0 1 0 -2.9 0M18.8 -15.2a1.45 1.45 0 1 0 2.9 0a1.45 1.45 0 1 0 -2.9 0M23.5 -12.9a1.45 1.45 0 1 0 2.9 0a1.45 1.45 0 1 0 -2.9 0" fill="#000"/>
</g>
<text x="607.6" y="494.0" class="t" text-anchor="middle">4</text>
<g transform="translate(385.0 603.1)">
<path d="M-32.5 -5.9 C-35.0 -6.3 -36.599999999999994 -5 -36.599999999999994 -2 L-36.599999999999994 5.5 C-36.599999999999994 8.5 -35.0 9.6 -32.5 9.2Z" fill="#fff" stroke="#777" stroke-width="0.8"/><path d="M32.5 -5.9 C35.0 -6.3 36.599999999999994 -5 36.599999999999994 -2 L36.599999999999994 5.5 C36.599999999999994 8.5 35.0 9.6 32.5 9.2Z" fill="#fff" stroke="#777" stroke-width="0.8"/>
<path d="M-6.3 -32.199999999999996 L0 -38.199999999999996 L6.3 -32.199999999999996" fill="none" stroke="#555" stroke-width="0.85"/>
<path d="M-34.199999999999996 -3.8 C-35.599999999999994 -1.5 -35.599999999999994 3 -34.4 6.2 M34.199999999999996 -3.8 C35.599999999999994 -1.5 35.599999999999994 3 34.4 6.2" fill="none" stroke="#aaa" stroke-width="0.6"/>
<g clip-path="url(#cc)"><g filter="url(#bl)"><path d="M-39 -37.5h12M24 -37.5h15M-39 -34.5h6M30 -34.5h9M-39 -31.5h3M33 -31.5h6M-39 -28.5h3M33 -28.5h6M36 -25.5h3M36 22.5h3M-39 25.5h3M33 25.5h6M-39 28.5h3M33 28.5h6M-39 31.5h6M30 31.5h9M-39 34.5h12M24 34.5h15M-39 37.5h15M21 37.5h18" stroke="#5064ae" stroke-width="3.3"/><path d="M-27 -37.5h24M3 -37.5h21M-33 -34.5h18M12 -34.5h18M-36 -31.5h15M18 -31.5h15M-36 -28.5h12M21 -28.5h12M-39 -25.5h12M24 -25.5h12M-39 -22.5h9M27 -22.5h12M-39 -19.5h6M30 -19.5h9M-39 -16.5h6M30 -16.5h9M-39 -13.5h3M33 -13.5h6M-39 -10.5h3M33 -10.5h6M-39 -7.5h3M33 -7.5h6M-39 -4.5h3M33 -4.5h6M-39 -1.5h3M33 -1.5h6M-39 1.5h3M33 1.5h6M-39 4.5h3M33 4.5h6M-39 7.5h3M33 7.5h6M-39 10.5h3M33 10.5h6M-39 13.5h6M30 13.5h9M-39 16.5h6M30 16.5h9M-39 19.5h9M27 19.5h12M-39 22.5h12M24 22.5h12M-36 25.5h12M24 25.5h9M-36 28.5h15M18 28.5h15M-33 31.5h18M15 31.5h15M-27 34.5h21M3 34.5h21M-24 37.5h45" stroke="#5069b2" stroke-width="3.3"/><path d="M-3 -37.5h6M-15 -34.5h27M-21 -31.5h9M9 -31.5h9M-24 -28.5h6M15 -28.5h6M-27 -25.5h6M18 -25.5h6M-30 -22.5h6M21 -22.5h6M-33 -19.5h6M24 -19.5h6M-33 -16.5h3M27 -16.5h3M-36 -13.5h6M27 -13.5h6M-36 -10.5h3M27 -10.5h6M-36 -7.5h3M30 -7.5h3M-36 -4.5h3M30 -4.5h3M-36 -1.5h3M30 -1.5h3M-36 1.5h3M30 1.5h3M-36 4.5h3M30 4.5h3M-36 7.5h3M27 7.5h6M-36 10.5h6M27 10.5h6M-33 13.5h3M27 13.5h3M-33 16.5h6M24 16.5h6M-30 19.5h3M24 19.5h3M-27 22.5h3M21 22.5h3M-24 25.5h6M18 25.5h6M-21 28.5h6M12 28.5h6M-15 31.5h12M0 31.5h15M-6 34.5h9" stroke="#4e6fb5" stroke-width="3.3"/><path d="M-12 -31.5h6M3 -31.5h6M-18 -28.5h6M12 -28.5h3M-21 -25.5h3M15 -25.5h3M-24 -22.5h3M18 -22.5h3M-27 -19.5h3M21 -19.5h3M-30 -16.5h3M24 -16.5h3M-30 -13.5h3M24 -13.5h3M-33 -10.5h3M24 -10.5h3M-33 -7.5h3M27 -7.5h3M-33 -4.5h3M27 -4.5h3M-33 -1.5h3M27 -1.5h3M-33 1.5h3M27 1.5h3M-33 4.5h3M27 4.5h3M-33 7.5h3M24 7.5h3M-30 10.5h3M24 10.5h3M-30 13.5h3M24 13.5h3M-27 16.5h3M21 16.5h3M-27 19.5h6M21 19.5h3M-24 22.5h6M18 22.5h3M-18 25.5h3M12 25.5h6M-15 28.5h6M6 28.5h6M-3 31.5h3" stroke="#4b75b8" stroke-width="3.3"/><path d="M-6 -31.5h9M-12 -28.5h3M6 -28.5h6M-18 -25.5h3M12 -25.5h3M-21 -22.5h3M15 -22.5h3M-24 -19.5h3M18 -19.5h3M-27 -16.5h3M21 -16.5h3M-27 -13.5h3M21 -13.5h3M-30 -10.5h3M-30 -7.5h3M24 -7.5h3M-30 -4.5h3M24 -4.5h3M-30 -1.5h3M24 -1.5h3M-30 1.5h3M24 1.5h3M-30 4.5h3M24 4.5h3M-30 7.5h3M-27 10.5h3M21 10.5h3M-27 13.5h3M21 13.5h3M-24 16.5h3M18 16.5h3M-21 19.5h3M18 19.5h3M-18 22.5h3M15 22.5h3M-15 25.5h3M9 25.5h3M-9 28.5h15" stroke="#487dbe" stroke-width="3.3"/><path d="M-9 -28.5h6M3 -28.5h3M-15 -25.5h3M9 -25.5h3M-18 -22.5h3M12 -22.5h3M-21 -19.5h3M15 -19.5h3M-24 -16.5h3M18 -16.5h3M-27 -10.5h3M21 -10.5h3M-27 -7.5h3M21 -7.5h3M21 -4.5h3M21 1.5h3M-27 4.5h3M21 4.5h3M-27 7.5h3M21 7.5h3M-24 13.5h3M18 13.5h3M15 19.5h3M-15 22.5h3M12 22.5h3M-12 25.5h6M6 25.5h3" stroke="#4685c5" stroke-width="3.3"/><path d="M-3 -28.5h6M-12 -25.5h3M6 -25.5h3M-15 -22.5h3M-24 -13.5h3M18 -13.5h3M-27 -4.5h3M-27 -1.5h3M21 -1.5h3M-27 1.5h3M-24 10.5h3M18 10.5h3M-21 16.5h3M15 16.5h3M-18 19.5h3M12 19.5h3M9 22.5h3M-6 25.5h12" stroke="#3d8ecc" stroke-width="3.3"/><path d="M-9 -25.5h3M9 -22.5h3M-18 -19.5h3M12 -19.5h3M-21 -16.5h3M15 -16.5h3M-24 -10.5h3M18 -10.5h3M-24 -7.5h3M18 -7.5h3M-24 4.5h3M18 4.5h3M-24 7.5h3M18 7.5h3M-21 13.5h3M15 13.5h3M-18 16.5h3M-15 19.5h3M-12 22.5h3M6 22.5h3" stroke="#3496d4" stroke-width="3.3"/><path d="M-6 -25.5h3M3 -25.5h3M-12 -22.5h3M-21 -13.5h3M15 -13.5h3M-24 -4.5h3M18 -4.5h3M-24 -1.5h3M18 -1.5h3M-24 1.5h3M18 1.5h3M-21 10.5h3M15 10.5h3M12 16.5h3M9 19.5h3M-9 22.5h6M3 22.5h3" stroke="#289ed7" stroke-width="3.3"/><path d="M-3 -25.5h6M6 -22.5h3M-15 -19.5h3M-18 -16.5h3M12 -16.5h3M15 -10.5h3M15 7.5h3M-18 13.5h3M-15 16.5h3M-12 19.5h3M6 19.5h3M-3 22.5h6" stroke="#1ca6da" stroke-width="3.3"/><path d="M-9 -22.5h3M9 -19.5h3M-21 -10.5h3M15 -7.5h3M15 4.5h3M-21 7.5h3M12 13.5h3M9 16.5h3M-9 19.5h3" stroke="#19acd4" stroke-width="3.3"/><path d="M-6 -22.5h3M0 -22.5h3M6 -19.5h3M-15 -16.5h3M-18 -13.5h3M12 -13.5h3M-18 10.5h3M12 10.5h3M-15 13.5h3M6 16.5h3" stroke="#19b6c0" stroke-width="3.3"/><path d="M-3 -22.5h3M9 -16.5h3M12 7.5h3M9 13.5h3M-9 16.5h3" stroke="#1cb9b4" stroke-width="3.3"/><path d="M3 -22.5h3M-12 -19.5h3M-21 -7.5h3M-21 -4.5h3M15 -4.5h3M-21 -1.5h3M15 -1.5h3M-21 1.5h3M15 1.5h3M-21 4.5h3M-12 16.5h3M-6 19.5h12" stroke="#16b3cd" stroke-width="3.3"/><path d="M-9 -19.5h3M-18 -10.5h3M12 -10.5h3M-18 7.5h3M-6 16.5h3M3 16.5h3" stroke="#2abcaa" stroke-width="3.3"/><path d="M-6 -19.5h3M-15 -13.5h3M9 -13.5h3M-18 -4.5h3M12 -4.5h3M-18 -1.5h3M12 -1.5h3M-18 1.5h3M12 1.5h3M-15 10.5h3M9 10.5h3" stroke="#46be94" stroke-width="3.3"/><path d="M-3 -19.5h6M6 -16.5h3M-9 13.5h3" stroke="#55bf87" stroke-width="3.3"/><path d="M3 -19.5h3M-12 -16.5h3M-18 -7.5h3M12 -7.5h3M-18 4.5h3M12 4.5h3M-12 13.5h3M6 13.5h3M-3 16.5h6" stroke="#38bea0" stroke-width="3.3"/><path d="M-9 -16.5h3M3 13.5h3" stroke="#69c274" stroke-width="3.3"/><path d="M-6 -16.5h3M6 -13.5h3M-15 -7.5h3M9 -7.5h3M-15 4.5h3M9 4.5h3" stroke="#a2c741" stroke-width="3.3"/><path d="M-3 -16.5h6M9 -4.5h3M9 -1.5h3M-15 1.5h3M9 1.5h3M-9 10.5h3M3 10.5h3" stroke="#b5c437" stroke-width="3.3"/><path d="M3 -16.5h3M-12 -13.5h3" stroke="#90c651" stroke-width="3.3"/><path d="M-9 -13.5h3M-12 -10.5h3M-12 7.5h3M-6 10.5h9" stroke="#d7bc2d" stroke-width="3.3"/><path d="M-6 -13.5h3M6 4.5h3" stroke="#f0bc32" stroke-width="3.3"/><path d="M-3 -13.5h6M-12 -7.5h3M6 -7.5h3M-12 4.5h3M-9 7.5h3M3 7.5h3" stroke="#fac037" stroke-width="3.3"/><path d="M3 -13.5h3M6 -10.5h3" stroke="#e6b92d" stroke-width="3.3"/><path d="M-15 -10.5h3M9 -10.5h3M-15 7.5h3M9 7.5h3M-12 10.5h3M6 10.5h3M-6 13.5h9" stroke="#7dc462" stroke-width="3.3"/><path d="M-9 -10.5h3M-12 -4.5h3M6 -4.5h3M6 -1.5h3M-12 1.5h3M6 1.5h3" stroke="#f8c932" stroke-width="3.3"/><path d="M-6 -10.5h3M0 -10.5h3M-9 -7.5h3M3 -7.5h3" stroke="#f2e12d" stroke-width="3.3"/><path d="M-3 -10.5h3M-9 1.5h3M3 1.5h3M-6 4.5h3M0 4.5h3" stroke="#f1e82d" stroke-width="3.3"/><path d="M3 -10.5h3M-12 -1.5h3M-6 7.5h9" stroke="#f5d22d" stroke-width="3.3"/><path d="M-6 -7.5h9M-9 -4.5h15M-9 -1.5h15M-6 1.5h9M-3 4.5h3" stroke="#f0ee2d" stroke-width="3.3"/><path d="M-15 -4.5h3M-15 -1.5h3M6 7.5h3" stroke="#c8c02d" stroke-width="3.3"/><path d="M-9 4.5h3M3 4.5h3" stroke="#f4da2d" stroke-width="3.3"/></g></g>
<circle r="32.8" fill="none" stroke="#333" stroke-width="0.9"/>
<path d="M23.9 -18.9a1.45 1.45 0 1 0 2.9 0a1.45 1.45 0 1 0 -2.9 0M18.5 -15.0a1.45 1.45 0 1 0 2.9 0a1.45 1.45 0 1 0 -2.9 0M23.5 -12.7a1.45 1.45 0 1 0 2.9 0a1.45 1.45 0 1 0 -2.9 0M28.2 -10.0a1.45 1.45 0 1 0 2.9 0a1.45 1.45 0 1 0 -2.9 0M22.3 -8.0a1.45 1.45 0 1 0 2.9 0a1.45 1.45 0 1 0 -2.9 0M26.2 -4.8a1.45 1.45 0 1 0 2.9 0a1.45 1.45 0 1 0 -2.9 0M23.5 -0.1a1.45 1.45 0 1 0 2.9 0a1.45 1.45 0 1 0 -2.9 0M22.3 7.6a1.45 1.45 0 1 0 2.9 0a1.45 1.45 0 1 0 -2.9 0M28.2 9.6a1.45 1.45 0 1 0 2.9 0a1.45 1.45 0 1 0 -2.9 0M23.5 12.8a1.45 1.45 0 1 0 2.9 0a1.45 1.45 0 1 0 -2.9 0M24.1 18.4a1.45 1.45 0 1 0 2.9 0a1.45 1.45 0 1 0 -2.9 0M16.8 25.4a1.45 1.45 0 1 0 2.9 0a1.45 1.45 0 1 0 -2.9 0M11.0 24.8a1.45 1.45 0 1 0 2.9 0a1.45 1.45 0 1 0 -2.9 0M8.3 29.9a1.45 1.45 0 1 0 2.9 0a1.45 1.45 0 1 0 -2.9 0M2.8 27.5a1.45 1.45 0 1 0 2.9 0a1.45 1.45 0 1 0 -2.9 0M-6.1 27.5a1.45 1.45 0 1 0 2.9 0a1.45 1.45 0 1 0 -2.9 0M-11.3 29.9a1.45 1.45 0 1 0 2.9 0a1.45 1.45 0 1 0 -2.9 0M-14.3 24.8a1.45 1.45 0 1 0 2.9 0a1.45 1.45 0 1 0 -2.9 0M-20.2 25.4a1.45 1.45 0 1 0 2.9 0a1.45 1.45 0 1 0 -2.9 0M-26.9 18.4a1.45 1.45 0 1 0 2.9 0a1.45 1.45 0 1 0 -2.9 0M-26.9 12.8a1.45 1.45 0 1 0 2.9 0a1.45 1.45 0 1 0 -2.9 0M-31.6 9.6a1.45 1.45 0 1 0 2.9 0a1.45 1.45 0 1 0 -2.9 0M-21.0 10.8a1.45 1.45 0 1 0 2.9 0a1.45 1.45 0 1 0 -2.9 0M-25.3 7.6a1.45 1.45 0 1 0 2.9 0a1.45 1.45 0 1 0 -2.9 0M-23.4 3.7a1.45 1.45 0 1 0 2.9 0a1.45 1.45 0 1 0 -2.9 0M-26.9 -0.1a1.45 1.45 0 1 0 2.9 0a1.45 1.45 0 1 0 -2.9 0" fill="#000"/>
</g>
<text x="352.2" y="579.7" class="t" text-anchor="middle">5</text>
<g transform="translate(470.2 603.1)">
<path d="M-32.5 -5.9 C-35.0 -6.3 -36.599999999999994 -5 -36.599999999999994 -2 L-36.599999999999994 5.5 C-36.599999999999994 8.5 -35.0 9.6 -32.5 9.2Z" fill="#fff" stroke="#777" stroke-width="0.8"/><path d="M32.5 -5.9 C35.0 -6.3 36.599999999999994 -5 36.599999999999994 -2 L36.599999999999994 5.5 C36.599999999999994 8.5 35.0 9.6 32.5 9.2Z" fill="#fff" stroke="#777" stroke-width="0.8"/>
<path d="M-6.3 -32.199999999999996 L0 -38.199999999999996 L6.3 -32.199999999999996" fill="none" stroke="#555" stroke-width="0.85"/>
<path d="M-34.199999999999996 -3.8 C-35.599999999999994 -1.5 -35.599999999999994 3 -34.4 6.2 M34.199999999999996 -3.8 C35.599999999999994 -1.5 35.599999999999994 3 34.4 6.2" fill="none" stroke="#aaa" stroke-width="0.6"/>
<g clip-path="url(#cc)"><g filter="url(#bl)"><path d="M-39 -37.5h15M21 -37.5h18M-39 -34.5h12M27 -34.5h12M-39 -31.5h9M30 -31.5h9M-39 -28.5h6M33 -28.5h6M-39 -25.5h3M36 -25.5h3M36 -22.5h3M36 25.5h3M-39 28.5h3M36 28.5h3M-39 31.5h6M33 31.5h6M-39 34.5h9M30 34.5h9M-39 37.5h12M24 37.5h15" stroke="#5064ae" stroke-width="3.3"/><path d="M-24 -37.5h45M-27 -34.5h18M6 -34.5h21M-30 -31.5h15M15 -31.5h15M-33 -28.5h12M21 -28.5h12M-36 -25.5h12M24 -25.5h12M-39 -22.5h12M27 -22.5h9M-39 -19.5h9M27 -19.5h12M-39 -16.5h6M30 -16.5h9M-39 -13.5h6M33 -13.5h6M-39 -10.5h3M33 -10.5h6M-39 -7.5h3M33 -7.5h6M-39 -4.5h3M36 -4.5h3M-39 -1.5h3M36 -1.5h3M-39 1.5h3M36 1.5h3M-39 4.5h3M36 4.5h3M-39 7.5h3M33 7.5h6M-39 10.5h3M33 10.5h6M-39 13.5h6M33 13.5h6M-39 16.5h6M30 16.5h9M-39 19.5h9M30 19.5h9M-39 22.5h9M27 22.5h12M-39 25.5h12M24 25.5h12M-36 28.5h12M21 28.5h15M-33 31.5h12M18 31.5h15M-30 34.5h15M12 34.5h18M-27 37.5h51" stroke="#5069b2" stroke-width="3.3"/><path d="M-9 -34.5h15M-15 -31.5h9M6 -31.5h9M-21 -28.5h9M12 -28.5h9M-24 -25.5h6M18 -25.5h6M-27 -22.5h6M21 -22.5h6M-30 -19.5h6M24 -19.5h3M-33 -16.5h6M24 -16.5h6M-33 -13.5h3M27 -13.5h6M-36 -10.5h6M30 -10.5h3M-36 -7.5h3M30 -7.5h3M-36 -4.5h3M30 -4.5h6M-36 -1.5h3M30 -1.5h6M-36 1.5h3M30 1.5h6M-36 4.5h3M30 4.5h6M-36 7.5h3M30 7.5h3M-36 10.5h3M30 10.5h3M-33 13.5h3M27 13.5h6M-33 16.5h3M27 16.5h3M-30 19.5h3M24 19.5h6M-30 22.5h6M24 22.5h3M-27 25.5h6M21 25.5h3M-24 28.5h6M15 28.5h6M-21 31.5h9M12 31.5h6M-15 34.5h27" stroke="#4e6fb5" stroke-width="3.3"/><path d="M-6 -31.5h12M-12 -28.5h3M9 -28.5h3M-18 -25.5h3M12 -25.5h6M-21 -22.5h3M15 -22.5h6M-24 -19.5h3M21 -19.5h3M-27 -16.5h3M21 -16.5h3M-30 -13.5h3M24 -13.5h3M-30 -10.5h3M24 -10.5h6M-33 -7.5h3M27 -7.5h3M-33 -4.5h3M27 -4.5h3M27 -1.5h3M27 1.5h3M27 4.5h3M-33 7.5h3M27 7.5h3M-33 10.5h3M27 10.5h3M-30 13.5h3M24 13.5h3M-30 16.5h6M24 16.5h3M-27 19.5h3M21 19.5h3M-24 22.5h3M18 22.5h6M-21 25.5h3M15 25.5h6M-18 28.5h6M12 28.5h3M-12 31.5h6M3 31.5h9" stroke="#4b75b8" stroke-width="3.3"/><path d="M-9 -28.5h6M3 -28.5h6M-15 -25.5h6M9 -25.5h3M-18 -22.5h3M-21 -19.5h3M18 -19.5h3M-24 -16.5h3M18 -16.5h3M-27 -13.5h3M21 -13.5h3M-30 -7.5h3M24 -7.5h3M24 -4.5h3M-33 -1.5h3M24 -1.5h3M-33 1.5h3M24 1.5h3M-33 4.5h3M24 4.5h3M24 7.5h3M-30 10.5h3M24 10.5h3M-27 13.5h3M21 16.5h3M-24 19.5h3M18 19.5h3M-21 22.5h3M-18 25.5h3M12 25.5h3M-12 28.5h3M9 28.5h3M-6 31.5h9" stroke="#487dbe" stroke-width="3.3"/><path d="M-3 -28.5h6M6 -25.5h3M-15 -22.5h3M12 -22.5h3M-18 -19.5h3M15 -19.5h3M-21 -16.5h3M-24 -13.5h3M18 -13.5h3M-27 -10.5h3M21 -10.5h3M21 -7.5h3M-30 -4.5h3M-30 7.5h3M21 10.5h3M21 13.5h3M-24 16.5h3M18 16.5h3M-21 19.5h3M-18 22.5h3M15 22.5h3M-15 25.5h3M-9 28.5h6M3 28.5h6" stroke="#4685c5" stroke-width="3.3"/><path d="M-9 -25.5h3M-12 -22.5h3M9 -22.5h3M12 -19.5h3M15 -16.5h3M-21 -13.5h3M-24 -10.5h3M18 -10.5h3M-27 -7.5h3M21 -4.5h3M-30 -1.5h3M21 -1.5h3M-30 1.5h3M21 1.5h3M-30 4.5h3M21 4.5h3M21 7.5h3M-27 10.5h3M-24 13.5h3M18 13.5h3M-21 16.5h3M-18 19.5h3M15 19.5h3M-15 22.5h3M12 22.5h3M-12 25.5h3M9 25.5h3M-3 28.5h6" stroke="#3d8ecc" stroke-width="3.3"/><path d="M-6 -25.5h12M-15 -19.5h3M-18 -16.5h3M-24 -7.5h3M18 -7.5h3M-27 -4.5h3M-27 7.5h3M-24 10.5h3M18 10.5h3M15 16.5h3M-9 25.5h3M6 25.5h3" stroke="#3496d4" stroke-width="3.3"/><path d="M-9 -22.5h3M6 -22.5h3M-12 -19.5h3M9 -19.5h3M12 -16.5h3M15 -13.5h3M-21 -10.5h3M18 -4.5h3M-27 -1.5h3M18 -1.5h3M-27 1.5h3M-27 4.5h3M18 4.5h3M-24 7.5h3M18 7.5h3M-21 13.5h3M-18 16.5h3M12 19.5h3M-12 22.5h3M9 22.5h3M-6 25.5h3M0 25.5h6" stroke="#289ed7" stroke-width="3.3"/><path d="M-6 -22.5h3M6 -19.5h3M12 -13.5h3M-24 -1.5h3M-24 1.5h3M-24 4.5h3M15 10.5h3M-18 13.5h3M12 16.5h3M9 19.5h3M-9 22.5h3" stroke="#19acd4" stroke-width="3.3"/><path d="M-3 -22.5h6M-9 -19.5h3M-12 -16.5h3M9 -16.5h3M-18 -10.5h3M15 -7.5h3M-21 -4.5h3M-21 7.5h3M15 7.5h3M-15 16.5h3M-12 19.5h3M-6 22.5h3M3 22.5h3" stroke="#16b3cd" stroke-width="3.3"/><path d="M3 -22.5h3M-15 -16.5h3M-18 -13.5h3M15 -10.5h3M-21 -7.5h3M-24 -4.5h3M18 1.5h3M-21 10.5h3M15 13.5h3M-15 19.5h3M6 22.5h3M-3 25.5h3" stroke="#1ca6da" stroke-width="3.3"/><path d="M-6 -19.5h3M3 -19.5h3M12 -10.5h3M-18 -7.5h3M12 13.5h3M9 16.5h3M-9 19.5h3M6 19.5h3" stroke="#1cb9b4" stroke-width="3.3"/><path d="M-3 -19.5h6M-9 -16.5h3M6 -16.5h3M9 -13.5h3M-18 -4.5h3M-18 7.5h3M-15 13.5h3M-12 16.5h3M3 19.5h3" stroke="#2abcaa" stroke-width="3.3"/><path d="M-6 -16.5h3M12 -4.5h3M12 7.5h3M-15 10.5h3M9 13.5h3M-9 16.5h3" stroke="#55bf87" stroke-width="3.3"/><path d="M-3 -16.5h6M6 -13.5h3M9 -10.5h3M-15 -7.5h3M12 -1.5h3M12 1.5h3M12 4.5h3M-12 13.5h3" stroke="#69c274" stroke-width="3.3"/><path d="M3 -16.5h3M6 16.5h3M-3 19.5h3" stroke="#46be94" stroke-width="3.3"/><path d="M-15 -13.5h3M15 -4.5h3M-21 -1.5h3M15 -1.5h3M-21 1.5h3M15 1.5h3M-21 4.5h3M15 4.5h3M-18 10.5h3M-3 22.5h6" stroke="#19b6c0" stroke-width="3.3"/><path d="M-12 -13.5h3M-15 -10.5h3M12 -7.5h3M-18 -1.5h3M-18 1.5h3M-18 4.5h3M12 10.5h3M-6 19.5h3M0 19.5h3" stroke="#38bea0" stroke-width="3.3"/><path d="M-9 -13.5h3M-12 -10.5h3M-15 7.5h3M-6 16.5h3M3 16.5h3" stroke="#7dc462" stroke-width="3.3"/><path d="M-6 -13.5h3M3 -13.5h3M9 -7.5h3M-15 -1.5h3M-15 1.5h3M-15 4.5h3M6 13.5h3" stroke="#a2c741" stroke-width="3.3"/><path d="M-3 -13.5h6M6 -10.5h3M-12 10.5h3M-9 13.5h3" stroke="#b5c437" stroke-width="3.3"/><path d="M-9 -10.5h3M-12 -7.5h3M9 -4.5h3M9 7.5h3M3 13.5h3" stroke="#c8c02d" stroke-width="3.3"/><path d="M-6 -10.5h3M6 -7.5h3M-12 -4.5h3M-12 4.5h3M-9 10.5h3" stroke="#f0bc32" stroke-width="3.3"/><path d="M-3 -10.5h6M-9 -7.5h3M-12 -1.5h3M-12 1.5h3" stroke="#fac037" stroke-width="3.3"/><path d="M3 -10.5h3M-12 7.5h3M6 10.5h3M-3 13.5h6" stroke="#e6b92d" stroke-width="3.3"/><path d="M-6 -7.5h3M-9 -4.5h3M6 -1.5h3M6 1.5h3" stroke="#f4da2d" stroke-width="3.3"/><path d="M-3 -7.5h6M-9 -1.5h3M-9 4.5h3M3 7.5h3" stroke="#f2e12d" stroke-width="3.3"/><path d="M3 -7.5h3M6 4.5h3M-9 7.5h3M-6 10.5h9" stroke="#f5d22d" stroke-width="3.3"/><path d="M-15 -4.5h3M9 10.5h3M-3 16.5h6" stroke="#90c651" stroke-width="3.3"/><path d="M-6 -4.5h9M-6 -1.5h12M-6 1.5h12M-6 4.5h12M-3 7.5h6" stroke="#f0ee2d" stroke-width="3.3"/><path d="M3 -4.5h3M-9 1.5h3M-6 7.5h3" stroke="#f1e82d" stroke-width="3.3"/><path d="M6 -4.5h3M6 7.5h3M3 10.5h3" stroke="#f8c932" stroke-width="3.3"/><path d="M9 -1.5h3M9 1.5h3M9 4.5h3M-6 13.5h3" stroke="#d7bc2d" stroke-width="3.3"/></g></g>
<circle r="32.8" fill="none" stroke="#333" stroke-width="0.9"/>
<path d="M24.0 -18.9a1.45 1.45 0 1 0 2.9 0a1.45 1.45 0 1 0 -2.9 0M18.5 -15.0a1.45 1.45 0 1 0 2.9 0a1.45 1.45 0 1 0 -2.9 0M23.5 -12.7a1.45 1.45 0 1 0 2.9 0a1.45 1.45 0 1 0 -2.9 0M28.2 -10.0a1.45 1.45 0 1 0 2.9 0a1.45 1.45 0 1 0 -2.9 0M22.0 -8.0a1.45 1.45 0 1 0 2.9 0a1.45 1.45 0 1 0 -2.9 0M26.1 -4.8a1.45 1.45 0 1 0 2.9 0a1.45 1.45 0 1 0 -2.9 0" fill="#000"/>
</g>
<text x="437.4" y="579.7" class="t" text-anchor="middle">6</text>
<g transform="translate(555.3 603.1)">
<path d="M-32.5 -5.9 C-35.0 -6.3 -36.599999999999994 -5 -36.599999999999994 -2 L-36.599999999999994 5.5 C-36.599999999999994 8.5 -35.0 9.6 -32.5 9.2Z" fill="#fff" stroke="#777" stroke-width="0.8"/><path d="M32.5 -5.9 C35.0 -6.3 36.599999999999994 -5 36.599999999999994 -2 L36.599999999999994 5.5 C36.599999999999994 8.5 35.0 9.6 32.5 9.2Z" fill="#fff" stroke="#777" stroke-width="0.8"/>
<path d="M-6.3 -32.199999999999996 L0 -38.199999999999996 L6.3 -32.199999999999996" fill="none" stroke="#555" stroke-width="0.85"/>
<path d="M-34.199999999999996 -3.8 C-35.599999999999994 -1.5 -35.599999999999994 3 -34.4 6.2 M34.199999999999996 -3.8 C35.599999999999994 -1.5 35.599999999999994 3 34.4 6.2" fill="none" stroke="#aaa" stroke-width="0.6"/>
<g clip-path="url(#cc)"><g filter="url(#bl)"><path d="M-39 -37.5h18M18 -37.5h21M-39 -34.5h12M21 -34.5h18M-39 -31.5h9M27 -31.5h12M-39 -28.5h6M30 -28.5h9M-39 -25.5h3M33 -25.5h6M36 -22.5h3M36 -19.5h3M36 25.5h3M36 28.5h3M-39 31.5h3M33 31.5h6M-39 34.5h6M30 34.5h9M-39 37.5h9M27 37.5h12" stroke="#5064ae" stroke-width="3.3"/><path d="M-21 -37.5h39M-27 -34.5h21M6 -34.5h15M-30 -31.5h15M12 -31.5h15M-33 -28.5h15M15 -28.5h15M-36 -25.5h12M21 -25.5h12M-39 -22.5h12M24 -22.5h12M-39 -19.5h9M27 -19.5h9M-39 -16.5h9M27 -16.5h12M-39 -13.5h6M30 -13.5h9M-39 -10.5h6M30 -10.5h9M-39 -7.5h3M33 -7.5h6M-39 -4.5h3M33 -4.5h6M-39 -1.5h3M33 -1.5h6M-39 1.5h3M33 1.5h6M-39 4.5h3M33 4.5h6M-39 7.5h3M33 7.5h6M-39 10.5h3M33 10.5h6M-39 13.5h3M33 13.5h6M-39 16.5h3M30 16.5h9M-39 19.5h6M30 19.5h9M-39 22.5h6M27 22.5h12M-39 25.5h9M27 25.5h9M-39 28.5h12M24 28.5h12M-36 31.5h12M21 31.5h12M-33 34.5h15M15 34.5h15M-30 37.5h18M9 37.5h18" stroke="#5069b2" stroke-width="3.3"/><path d="M-6 -34.5h12M-15 -31.5h9M6 -31.5h6M-18 -28.5h6M12 -28.5h3M-24 -25.5h9M15 -25.5h6M-27 -22.5h6M18 -22.5h6M-30 -19.5h6M21 -19.5h6M-30 -16.5h3M24 -16.5h3M-33 -13.5h6M24 -13.5h6M-33 -10.5h3M27 -10.5h3M-36 -7.5h6M27 -7.5h6M-36 -4.5h3M30 -4.5h3M-36 -1.5h3M30 -1.5h3M-36 1.5h3M30 1.5h3M-36 4.5h3M30 4.5h3M-36 7.5h3M30 7.5h3M-36 10.5h3M30 10.5h3M-36 13.5h6M27 13.5h6M-36 16.5h6M27 16.5h3M-33 19.5h3M24 19.5h6M-33 22.5h6M24 22.5h3M-30 25.5h6M21 25.5h6M-27 28.5h6M18 28.5h6M-24 31.5h9M12 31.5h9M-18 34.5h12M3 34.5h12M-12 37.5h21" stroke="#4e6fb5" stroke-width="3.3"/><path d="M-6 -31.5h12M-12 -28.5h3M6 -28.5h6M-15 -25.5h3M12 -25.5h3M-21 -22.5h6M15 -22.5h3M-24 -19.5h3M18 -19.5h3M-27 -16.5h6M21 -16.5h3M-27 -13.5h3M21 -13.5h3M-30 -10.5h3M24 -10.5h3M-30 -7.5h3M24 -7.5h3M-33 -4.5h3M27 -4.5h3M-33 -1.5h3M27 -1.5h3M-33 1.5h3M27 1.5h3M-33 4.5h3M27 4.5h3M-33 7.5h3M27 7.5h3M-33 10.5h3M27 10.5h3M-30 13.5h3M24 13.5h3M-30 16.5h3M24 16.5h3M-30 19.5h6M21 19.5h3M-27 22.5h3M21 22.5h3M-24 25.5h3M18 25.5h3M-21 28.5h6M15 28.5h3M-15 31.5h6M6 31.5h6M-6 34.5h9" stroke="#4b75b8" stroke-width="3.3"/><path d="M-9 -28.5h15M-12 -25.5h3M9 -25.5h3M-15 -22.5h3M12 -22.5h3M-21 -19.5h3M15 -19.5h3M18 -16.5h3M-24 -13.5h3M18 -13.5h3M-27 -10.5h3M21 -10.5h3M21 -7.5h3M-30 -4.5h3M24 -4.5h3M-30 -1.5h3M24 -1.5h3M-30 1.5h3M24 1.5h3M-30 4.5h3M24 4.5h3M-30 7.5h3M24 7.5h3M-30 10.5h3M24 10.5h3M-27 16.5h3M21 16.5h3M-24 22.5h3M18 22.5h3M-21 25.5h3M15 25.5h3M-15 28.5h3M9 28.5h6M-9 31.5h15" stroke="#487dbe" stroke-width="3.3"/><path d="M-9 -25.5h3M6 -25.5h3M9 -22.5h3M-18 -19.5h3M12 -19.5h3M-21 -16.5h3M15 -16.5h3M-24 -10.5h3M18 -10.5h3M-27 -7.5h3M-27 -4.5h3M21 -4.5h3M-27 -1.5h3M21 -1.5h3M21 1.5h3M21 4.5h3M-27 7.5h3M21 7.5h3M-27 10.5h3M21 10.5h3M-27 13.5h3M21 13.5h3M-24 16.5h3M18 16.5h3M-24 19.5h3M18 19.5h3M-21 22.5h3M15 22.5h3M-18 25.5h3M12 25.5h3M-12 28.5h3M6 28.5h3" stroke="#4685c5" stroke-width="3.3"/><path d="M-6 -25.5h3M3 -25.5h3M-12 -22.5h3M-15 -19.5h3M-18 -16.5h3M-21 -13.5h3M15 -13.5h3M-24 -7.5h3M18 -7.5h3M-27 1.5h3M-27 4.5h3M-24 13.5h3M18 13.5h3M-21 19.5h3M15 19.5h3M-18 22.5h3M-15 25.5h3M9 25.5h3M-9 28.5h15" stroke="#3d8ecc" stroke-width="3.3"/><path d="M-3 -25.5h6M-9 -22.5h3M6 -22.5h3M9 -19.5h3M12 -16.5h3M-21 -10.5h3M15 -10.5h3M-24 -4.5h3M18 -4.5h3M18 -1.5h3M18 7.5h3M-24 10.5h3M18 10.5h3M12 22.5h3M-12 25.5h3" stroke="#3496d4" stroke-width="3.3"/><path d="M-6 -22.5h9M6 -19.5h3M9 -16.5h3M-21 -7.5h3M15 -7.5h3M-21 13.5h3M15 13.5h3M12 19.5h3M9 22.5h3M-6 25.5h3M3 25.5h3" stroke="#1ca6da" stroke-width="3.3"/><path d="M3 -22.5h3M-12 -19.5h3M-15 -16.5h3M-18 -13.5h3M12 -13.5h3M-24 -1.5h3M-24 1.5h3M18 1.5h3M-24 4.5h3M18 4.5h3M-24 7.5h3M-21 16.5h3M15 16.5h3M-18 19.5h3M-15 22.5h3M-9 25.5h3M6 25.5h3" stroke="#289ed7" stroke-width="3.3"/><path d="M-9 -19.5h3M-12 -16.5h3M-18 -10.5h3M12 -10.5h3M-21 -4.5h3M15 -4.5h3M15 -1.5h3M-21 10.5h3M15 10.5h3M-12 22.5h3M-3 25.5h6" stroke="#19acd4" stroke-width="3.3"/><path d="M-6 -19.5h3M3 -19.5h3M-15 -13.5h3M-21 -1.5h3M-21 1.5h3M15 1.5h3M-21 4.5h3M15 4.5h3M-21 7.5h3M15 7.5h3M-18 16.5h3M12 16.5h3M-15 19.5h3M6 22.5h3" stroke="#16b3cd" stroke-width="3.3"/><path d="M-3 -19.5h6M6 -16.5h3M9 -13.5h3M9 19.5h3M-9 22.5h3" stroke="#19b6c0" stroke-width="3.3"/><path d="M-9 -16.5h3M-18 -7.5h3M12 -7.5h3M-18 13.5h3M12 13.5h3M-6 22.5h3M3 22.5h3" stroke="#1cb9b4" stroke-width="3.3"/><path d="M-6 -16.5h3M6 -13.5h3M12 -1.5h3M12 7.5h3M-18 10.5h3M9 16.5h3M6 19.5h3" stroke="#38bea0" stroke-width="3.3"/><path d="M-3 -16.5h6M-9 -13.5h3M-18 -1.5h3M-18 1.5h3M12 1.5h3M-18 4.5h3M12 4.5h3M-18 7.5h3M-9 19.5h3" stroke="#46be94" stroke-width="3.3"/><path d="M3 -16.5h3M-12 -13.5h3M-15 -10.5h3M9 -10.5h3M-18 -4.5h3M12 -4.5h3M12 10.5h3M-15 16.5h3M-12 19.5h3M-3 22.5h6" stroke="#2abcaa" stroke-width="3.3"/><path d="M-6 -13.5h3M0 -13.5h3M6 -10.5h3" stroke="#7dc462" stroke-width="3.3"/><path d="M-3 -13.5h3M-15 -4.5h3M9 -4.5h3M-15 10.5h3M9 10.5h3" stroke="#90c651" stroke-width="3.3"/><path d="M3 -13.5h3M-12 -10.5h3M-15 13.5h3M-12 16.5h3M6 16.5h3M-6 19.5h9" stroke="#69c274" stroke-width="3.3"/><path d="M-9 -10.5h3M9 -1.5h3M9 7.5h3M-9 16.5h3M3 16.5h3" stroke="#a2c741" stroke-width="3.3"/><path d="M-6 -10.5h3M-3 16.5h6" stroke="#c8c02d" stroke-width="3.3"/><path d="M-3 -10.5h6" stroke="#d7bc2d" stroke-width="3.3"/><path d="M3 -10.5h3M-12 -7.5h3M6 -7.5h3M-15 -1.5h3M-15 1.5h3M9 1.5h3M-15 4.5h3M9 4.5h3M-15 7.5h3M-12 13.5h3M6 13.5h3M-6 16.5h3" stroke="#b5c437" stroke-width="3.3"/><path d="M-15 -7.5h3M9 -7.5h3M9 13.5h3M3 19.5h3" stroke="#55bf87" stroke-width="3.3"/><path d="M-9 -7.5h3M3 -7.5h3" stroke="#f0bc32" stroke-width="3.3"/><path d="M-6 -7.5h3M0 -7.5h3M-12 1.5h3M6 1.5h3M-12 4.5h3M6 4.5h3" stroke="#f8c932" stroke-width="3.3"/><path d="M-3 -7.5h3M-9 -4.5h3M-9 10.5h3M3 10.5h3" stroke="#f5d22d" stroke-width="3.3"/><path d="M-12 -4.5h3M6 -4.5h3M-12 10.5h3M6 10.5h3M-9 13.5h3M3 13.5h3" stroke="#e6b92d" stroke-width="3.3"/><path d="M-6 -4.5h3M-9 -1.5h3M3 -1.5h3M-9 7.5h3M3 7.5h3M-6 10.5h9" stroke="#f2e12d" stroke-width="3.3"/><path d="M-3 -4.5h6M-9 1.5h3M3 1.5h3M-9 4.5h3M3 4.5h3" stroke="#f1e82d" stroke-width="3.3"/><path d="M3 -4.5h3" stroke="#f4da2d" stroke-width="3.3"/><path d="M-12 -1.5h3M6 -1.5h3M-12 7.5h3M6 7.5h3M-6 13.5h9" stroke="#fac037" stroke-width="3.3"/><path d="M-6 -1.5h9M-6 1.5h9M-6 4.5h9M-6 7.5h9" stroke="#f0ee2d" stroke-width="3.3"/></g></g>
<circle r="32.8" fill="none" stroke="#333" stroke-width="0.9"/>
<path d="M24.0 -18.9a1.45 1.45 0 1 0 2.9 0a1.45 1.45 0 1 0 -2.9 0M18.5 -15.0a1.45 1.45 0 1 0 2.9 0a1.45 1.45 0 1 0 -2.9 0M23.5 -12.7a1.45 1.45 0 1 0 2.9 0a1.45 1.45 0 1 0 -2.9 0M28.2 -10.0a1.45 1.45 0 1 0 2.9 0a1.45 1.45 0 1 0 -2.9 0M22.0 -8.0a1.45 1.45 0 1 0 2.9 0a1.45 1.45 0 1 0 -2.9 0M26.1 -4.8a1.45 1.45 0 1 0 2.9 0a1.45 1.45 0 1 0 -2.9 0M23.5 -0.1a1.45 1.45 0 1 0 2.9 0a1.45 1.45 0 1 0 -2.9 0M20.0 3.7a1.45 1.45 0 1 0 2.9 0a1.45 1.45 0 1 0 -2.9 0M22.0 7.6a1.45 1.45 0 1 0 2.9 0a1.45 1.45 0 1 0 -2.9 0M28.2 9.6a1.45 1.45 0 1 0 2.9 0a1.45 1.45 0 1 0 -2.9 0" fill="#000"/>
</g>
<text x="522.5" y="579.7" class="t" text-anchor="middle">7</text>
<rect x="343.0" y="700.5" width="83.8" height="83.6" rx="9" fill="#efe1f1"/>
<g transform="translate(385.0 744.7)">
<path d="M-32.5 -5.9 C-35.0 -6.3 -36.599999999999994 -5 -36.599999999999994 -2 L-36.599999999999994 5.5 C-36.599999999999994 8.5 -35.0 9.6 -32.5 9.2Z" fill="#fff" stroke="#777" stroke-width="0.8"/><path d="M32.5 -5.9 C35.0 -6.3 36.599999999999994 -5 36.599999999999994 -2 L36.599999999999994 5.5 C36.599999999999994 8.5 35.0 9.6 32.5 9.2Z" fill="#fff" stroke="#777" stroke-width="0.8"/>
<path d="M-6.3 -32.199999999999996 L0 -38.199999999999996 L6.3 -32.199999999999996" fill="none" stroke="#555" stroke-width="0.85"/>
<path d="M-34.199999999999996 -3.8 C-35.599999999999994 -1.5 -35.599999999999994 3 -34.4 6.2 M34.199999999999996 -3.8 C35.599999999999994 -1.5 35.599999999999994 3 34.4 6.2" fill="none" stroke="#aaa" stroke-width="0.6"/>
<g clip-path="url(#cc)"><g filter="url(#bl)"><path d="M-39 -37.5h78M-39 -34.5h78M-39 -31.5h78M-39 -28.5h78M-39 -25.5h78M-39 -22.5h78M-39 -19.5h78M-39 -16.5h24M21 -16.5h18M-39 -13.5h18M24 -13.5h15M-39 -10.5h15M27 -10.5h12M-39 -7.5h12M27 -7.5h12M-39 -4.5h12M30 -4.5h9M-39 -1.5h12M30 -1.5h9M-39 1.5h12M27 1.5h12M-39 4.5h15M27 4.5h12M-39 7.5h33M6 7.5h3M21 7.5h18M-39 10.5h9M18 10.5h21M-39 13.5h6M24 13.5h15M-39 16.5h6M27 16.5h12M-39 19.5h6M27 19.5h12M-39 22.5h6M27 22.5h12M-39 25.5h6M27 25.5h12M-39 28.5h9M24 28.5h15M-39 31.5h12M21 31.5h18M-39 34.5h15M18 34.5h21M-39 37.5h24M9 37.5h30" stroke="#1cb9b4" stroke-width="3.3"/><path d="M-15 -16.5h18M12 -16.5h9M-21 -13.5h6M21 -13.5h3M-24 -10.5h6M24 -10.5h3M-27 -7.5h6M24 -7.5h3M-27 -4.5h3M24 -4.5h6M-27 -1.5h3M24 -1.5h6M-27 1.5h6M24 1.5h3M-24 4.5h3M-3 4.5h6M21 4.5h6M9 7.5h12" stroke="#19b6c0" stroke-width="3.3"/><path d="M3 -16.5h9M-15 -13.5h6M15 -13.5h6M-18 -10.5h3M21 -10.5h3M-21 -7.5h3M21 -7.5h3M-24 -4.5h3M-24 -1.5h3M21 1.5h3M-21 4.5h3M-6 4.5h3M3 4.5h3M18 4.5h3" stroke="#16b3cd" stroke-width="3.3"/><path d="M-9 -13.5h9M12 -13.5h3M-15 -10.5h3M18 -10.5h3M-21 -4.5h3M21 -4.5h3M21 -1.5h3M-21 1.5h3M-3 1.5h6M18 1.5h3M-18 4.5h12M6 4.5h3M15 4.5h3" stroke="#19acd4" stroke-width="3.3"/><path d="M0 -13.5h12M-12 -10.5h3M15 -10.5h3M-18 -7.5h3M18 -7.5h3M-21 -1.5h3M-3 -1.5h3M-6 1.5h3M3 1.5h3M9 4.5h6" stroke="#1ca6da" stroke-width="3.3"/><path d="M-9 -10.5h6M-18 -4.5h3M-3 -4.5h3M18 -4.5h3M-6 -1.5h3M0 -1.5h3M18 -1.5h3M-18 1.5h3M-9 1.5h3M6 1.5h3M15 1.5h3" stroke="#289ed7" stroke-width="3.3"/><path d="M-3 -10.5h6M9 -10.5h6M-15 -7.5h15M15 -7.5h3M-6 -4.5h3M0 -4.5h3M-18 -1.5h3M3 -1.5h3M-15 1.5h6M9 1.5h6" stroke="#3496d4" stroke-width="3.3"/><path d="M3 -10.5h6M0 -7.5h3M-15 -4.5h3M-9 -4.5h3M3 -4.5h3M15 -4.5h3M-9 -1.5h3M6 -1.5h3M15 -1.5h3" stroke="#3d8ecc" stroke-width="3.3"/><path d="M3 -7.5h6M12 -7.5h3M-12 -4.5h3M-15 -1.5h6M9 -1.5h6" stroke="#4685c5" stroke-width="3.3"/><path d="M9 -7.5h3M6 -4.5h9" stroke="#487dbe" stroke-width="3.3"/><path d="M-6 7.5h12M-30 10.5h9M9 10.5h9M-33 13.5h9M18 13.5h6M-33 16.5h6M21 16.5h6M-33 19.5h6M21 19.5h6M-33 22.5h6M21 22.5h6M-33 25.5h9M18 25.5h9M-30 28.5h6M15 28.5h9M-27 31.5h9M12 31.5h9M-24 34.5h18M0 34.5h18M-15 37.5h24" stroke="#2abcaa" stroke-width="3.3"/><path d="M-21 10.5h9M6 10.5h3M-24 13.5h3M12 13.5h6M-27 16.5h3M15 16.5h6M-27 19.5h3M18 19.5h3M-27 22.5h3M15 22.5h6M-24 25.5h3M15 25.5h3M-24 28.5h6M12 28.5h3M-18 31.5h9M3 31.5h9M-6 34.5h6" stroke="#38bea0" stroke-width="3.3"/><path d="M-12 10.5h6M0 10.5h6M-21 13.5h6M9 13.5h3M-24 16.5h6M12 16.5h3M-24 19.5h3M15 19.5h3M-24 22.5h3M12 22.5h3M-21 25.5h3M12 25.5h3M-18 28.5h6M6 28.5h6M-9 31.5h12" stroke="#46be94" stroke-width="3.3"/><path d="M-6 10.5h6M-15 13.5h3M6 13.5h3M-18 16.5h3M9 16.5h3M-21 19.5h3M12 19.5h3M-21 22.5h3M9 22.5h3M-18 25.5h3M6 25.5h6M-12 28.5h18" stroke="#55bf87" stroke-width="3.3"/><path d="M-12 13.5h6M0 13.5h6M-15 16.5h3M6 16.5h3M-18 19.5h3M9 19.5h3M-18 22.5h3M6 22.5h3M-15 25.5h6M3 25.5h3" stroke="#69c274" stroke-width="3.3"/><path d="M-6 13.5h6M-12 16.5h3M3 16.5h3M-15 19.5h3M6 19.5h3M-15 22.5h6M3 22.5h3M-9 25.5h12" stroke="#7dc462" stroke-width="3.3"/><path d="M-9 16.5h12M-12 19.5h3M0 19.5h6M-9 22.5h3M-3 22.5h6" stroke="#90c651" stroke-width="3.3"/><path d="M-9 19.5h9M-6 22.5h3" stroke="#a2c741" stroke-width="3.3"/></g></g>
<circle r="32.8" fill="none" stroke="#333" stroke-width="0.9"/>
<path d="M-1.7 5.6a1.45 1.45 0 1 0 2.9 0a1.45 1.45 0 1 0 -2.9 0M4.2 5.6a1.45 1.45 0 1 0 2.9 0a1.45 1.45 0 1 0 -2.9 0M-10.1 9.3a1.45 1.45 0 1 0 2.9 0a1.45 1.45 0 1 0 -2.9 0M-4.6 9.0a1.45 1.45 0 1 0 2.9 0a1.45 1.45 0 1 0 -2.9 0M1.2 9.0a1.45 1.45 0 1 0 2.9 0a1.45 1.45 0 1 0 -2.9 0M7.0 9.3a1.45 1.45 0 1 0 2.9 0a1.45 1.45 0 1 0 -2.9 0M-12.1 12.6a1.45 1.45 0 1 0 2.9 0a1.45 1.45 0 1 0 -2.9 0M-6.6 12.4a1.45 1.45 0 1 0 2.9 0a1.45 1.45 0 1 0 -2.9 0M-1.7 12.4a1.45 1.45 0 1 0 2.9 0a1.45 1.45 0 1 0 -2.9 0M3.4 12.4a1.45 1.45 0 1 0 2.9 0a1.45 1.45 0 1 0 -2.9 0M8.7 12.8a1.45 1.45 0 1 0 2.9 0a1.45 1.45 0 1 0 -2.9 0M13.6 13.2a1.45 1.45 0 1 0 2.9 0a1.45 1.45 0 1 0 -2.9 0M18.7 14.4a1.45 1.45 0 1 0 2.9 0a1.45 1.45 0 1 0 -2.9 0M-21.9 14.4a1.45 1.45 0 1 0 2.9 0a1.45 1.45 0 1 0 -2.9 0M-17.0 13.2a1.45 1.45 0 1 0 2.9 0a1.45 1.45 0 1 0 -2.9 0M-13.1 16.1a1.45 1.45 0 1 0 2.9 0a1.45 1.45 0 1 0 -2.9 0M-4.0 15.6a1.45 1.45 0 1 0 2.9 0a1.45 1.45 0 1 0 -2.9 0M0.5 15.6a1.45 1.45 0 1 0 2.9 0a1.45 1.45 0 1 0 -2.9 0M10.0 16.1a1.45 1.45 0 1 0 2.9 0a1.45 1.45 0 1 0 -2.9 0M-27.0 18.2a1.45 1.45 0 1 0 2.9 0a1.45 1.45 0 1 0 -2.9 0M-21.6 19.5a1.45 1.45 0 1 0 2.9 0a1.45 1.45 0 1 0 -2.9 0M-16.2 19.7a1.45 1.45 0 1 0 2.9 0a1.45 1.45 0 1 0 -2.9 0M-9.4 18.9a1.45 1.45 0 1 0 2.9 0a1.45 1.45 0 1 0 -2.9 0M-1.7 18.5a1.45 1.45 0 1 0 2.9 0a1.45 1.45 0 1 0 -2.9 0M6.0 18.9a1.45 1.45 0 1 0 2.9 0a1.45 1.45 0 1 0 -2.9 0M13.1 19.7a1.45 1.45 0 1 0 2.9 0a1.45 1.45 0 1 0 -2.9 0M18.2 19.5a1.45 1.45 0 1 0 2.9 0a1.45 1.45 0 1 0 -2.9 0M-4.8 21.5a1.45 1.45 0 1 0 2.9 0a1.45 1.45 0 1 0 -2.9 0M1.6 21.5a1.45 1.45 0 1 0 2.9 0a1.45 1.45 0 1 0 -2.9 0M-20.1 24.8a1.45 1.45 0 1 0 2.9 0a1.45 1.45 0 1 0 -2.9 0M-14.5 24.6a1.45 1.45 0 1 0 2.9 0a1.45 1.45 0 1 0 -2.9 0M-9.4 23.6a1.45 1.45 0 1 0 2.9 0a1.45 1.45 0 1 0 -2.9 0M-1.7 24.6a1.45 1.45 0 1 0 2.9 0a1.45 1.45 0 1 0 -2.9 0M6.0 23.6a1.45 1.45 0 1 0 2.9 0a1.45 1.45 0 1 0 -2.9 0M11.1 24.6a1.45 1.45 0 1 0 2.9 0a1.45 1.45 0 1 0 -2.9 0M16.7 25.0a1.45 1.45 0 1 0 2.9 0a1.45 1.45 0 1 0 -2.9 0M-6.0 27.4a1.45 1.45 0 1 0 2.9 0a1.45 1.45 0 1 0 -2.9 0M2.9 27.4a1.45 1.45 0 1 0 2.9 0a1.45 1.45 0 1 0 -2.9 0M-11.4 29.7a1.45 1.45 0 1 0 2.9 0a1.45 1.45 0 1 0 -2.9 0M8.0 29.4a1.45 1.45 0 1 0 2.9 0a1.45 1.45 0 1 0 -2.9 0" fill="#000"/>
</g>
<text x="352.2" y="721.3000000000001" class="t" text-anchor="middle">1</text>
<rect x="428.2" y="700.5" width="83.8" height="83.6" rx="9" fill="#efe1f1"/>
<g transform="translate(470.2 744.7)">
<path d="M-32.5 -5.9 C-35.0 -6.3 -36.599999999999994 -5 -36.599999999999994 -2 L-36.599999999999994 5.5 C-36.599999999999994 8.5 -35.0 9.6 -32.5 9.2Z" fill="#fff" stroke="#777" stroke-width="0.8"/><path d="M32.5 -5.9 C35.0 -6.3 36.599999999999994 -5 36.599999999999994 -2 L36.599999999999994 5.5 C36.599999999999994 8.5 35.0 9.6 32.5 9.2Z" fill="#fff" stroke="#777" stroke-width="0.8"/>
<path d="M-6.3 -32.199999999999996 L0 -38.199999999999996 L6.3 -32.199999999999996" fill="none" stroke="#555" stroke-width="0.85"/>
<path d="M-34.199999999999996 -3.8 C-35.599999999999994 -1.5 -35.599999999999994 3 -34.4 6.2 M34.199999999999996 -3.8 C35.599999999999994 -1.5 35.599999999999994 3 34.4 6.2" fill="none" stroke="#aaa" stroke-width="0.6"/>
<g clip-path="url(#cc)"><g filter="url(#bl)"><path d="M-39 -37.5h78M-39 -34.5h78M-39 -31.5h78M-39 -28.5h78M-39 -25.5h78M-39 -22.5h78M-39 -19.5h30M18 -19.5h21M-39 -16.5h24M24 -16.5h15M-39 -13.5h21M30 -13.5h9M-39 -10.5h18M30 -10.5h9M-39 -7.5h18M33 -7.5h6M-39 -4.5h15M33 -4.5h6M-39 -1.5h18M33 -1.5h6M-39 1.5h21M30 1.5h9M-39 4.5h27M27 4.5h12M-39 7.5h9M0 7.5h6M18 7.5h21M-39 10.5h6M24 10.5h15M-39 13.5h3M30 13.5h9M-39 16.5h3M30 16.5h9M-39 19.5h3M30 19.5h9M-39 22.5h3M30 22.5h9M-39 25.5h6M27 25.5h12M-39 28.5h9M24 28.5h15M-39 31.5h12M21 31.5h18M-39 34.5h21M12 34.5h27M-39 37.5h78" stroke="#38bea0" stroke-width="3.3"/><path d="M-9 -19.5h27M-15 -16.5h9M15 -16.5h9M-18 -13.5h6M21 -13.5h9M-21 -10.5h6M24 -10.5h6M-21 -7.5h3M27 -7.5h6M-24 -4.5h6M27 -4.5h6M-21 -1.5h6M27 -1.5h6M-18 1.5h6M24 1.5h6M-12 4.5h6M21 4.5h6M6 7.5h12" stroke="#2abcaa" stroke-width="3.3"/><path d="M-6 -16.5h21M-12 -13.5h6M18 -13.5h3M-15 -10.5h3M21 -10.5h3M-18 -7.5h6M24 -7.5h3M-18 -4.5h3M24 -4.5h3M-15 -1.5h3M24 -1.5h3M-12 1.5h3M21 1.5h3M-6 4.5h3M18 4.5h3" stroke="#1cb9b4" stroke-width="3.3"/><path d="M-6 -13.5h3M12 -13.5h6M-12 -10.5h3M18 -10.5h3M21 -7.5h3M-15 -4.5h3M21 -4.5h3M-12 -1.5h3M21 -1.5h3M-9 1.5h3M-3 4.5h6M15 4.5h3" stroke="#19b6c0" stroke-width="3.3"/><path d="M-3 -13.5h15M-9 -10.5h3M15 -10.5h3M-12 -7.5h3M18 -7.5h3M-12 -4.5h3M-6 1.5h3M18 1.5h3M3 4.5h12" stroke="#16b3cd" stroke-width="3.3"/><path d="M-6 -10.5h3M-9 -7.5h3M-9 -4.5h3M18 -4.5h3M-9 -1.5h3M18 -1.5h3M15 1.5h3" stroke="#19acd4" stroke-width="3.3"/><path d="M-3 -10.5h6M12 -10.5h3M-6 -7.5h3M15 -7.5h3M-6 -1.5h3M-3 1.5h3" stroke="#1ca6da" stroke-width="3.3"/><path d="M3 -10.5h9M-6 -4.5h3M15 -4.5h3M15 -1.5h3M0 1.5h6M12 1.5h3" stroke="#289ed7" stroke-width="3.3"/><path d="M-3 -7.5h3M12 -7.5h3M-3 -4.5h3M-3 -1.5h3M6 1.5h6" stroke="#3496d4" stroke-width="3.3"/><path d="M0 -7.5h6M9 -7.5h3M0 -1.5h3M12 -1.5h3" stroke="#3d8ecc" stroke-width="3.3"/><path d="M6 -7.5h3M0 -4.5h3M12 -4.5h3M3 -1.5h3M9 -1.5h3" stroke="#4685c5" stroke-width="3.3"/><path d="M3 -4.5h9M6 -1.5h3" stroke="#487dbe" stroke-width="3.3"/><path d="M-30 7.5h15M-12 7.5h12M-33 10.5h9M12 10.5h12M-36 13.5h9M21 13.5h9M-36 16.5h6M21 16.5h9M-36 19.5h6M21 19.5h9M-36 22.5h9M21 22.5h9M-33 25.5h9M18 25.5h9M-30 28.5h9M15 28.5h9M-27 31.5h15M6 31.5h15M-18 34.5h30" stroke="#46be94" stroke-width="3.3"/><path d="M-15 7.5h3M-24 10.5h6M6 10.5h6M-27 13.5h6M15 13.5h6M-30 16.5h6M18 16.5h3M-30 19.5h6M18 19.5h3M-27 22.5h3M15 22.5h6M-24 25.5h6M12 25.5h6M-21 28.5h9M6 28.5h9M-12 31.5h18" stroke="#55bf87" stroke-width="3.3"/><path d="M-18 10.5h9M-6 10.5h12M-21 13.5h3M9 13.5h6M-24 16.5h3M12 16.5h6M-24 19.5h3M12 19.5h6M-24 22.5h6M12 22.5h3M-18 25.5h3M6 25.5h6M-12 28.5h18" stroke="#69c274" stroke-width="3.3"/><path d="M-9 10.5h3M-18 13.5h6M6 13.5h3M-21 16.5h6M9 16.5h3M-21 19.5h6M9 19.5h3M-18 22.5h3M6 22.5h6M-15 25.5h21" stroke="#7dc462" stroke-width="3.3"/><path d="M-12 13.5h18M-15 16.5h3M6 16.5h3M-15 19.5h3M6 19.5h3M-15 22.5h6M3 22.5h3" stroke="#90c651" stroke-width="3.3"/><path d="M-12 16.5h6M-3 16.5h9M-12 19.5h6M0 19.5h6M-9 22.5h12" stroke="#a2c741" stroke-width="3.3"/><path d="M-6 16.5h3M-6 19.5h6" stroke="#b5c437" stroke-width="3.3"/></g></g>
<circle r="32.8" fill="none" stroke="#333" stroke-width="0.9"/>
<path d="M1.2 -22.1a1.45 1.45 0 1 0 2.9 0a1.45 1.45 0 1 0 -2.9 0M5.9 -19.6a1.45 1.45 0 1 0 2.9 0a1.45 1.45 0 1 0 -2.9 0M-1.8 -18.9a1.45 1.45 0 1 0 2.9 0a1.45 1.45 0 1 0 -2.9 0M-4.1 -16.0a1.45 1.45 0 1 0 2.9 0a1.45 1.45 0 1 0 -2.9 0M0.5 -16.0a1.45 1.45 0 1 0 2.9 0a1.45 1.45 0 1 0 -2.9 0M-12.3 -13.4a1.45 1.45 0 1 0 2.9 0a1.45 1.45 0 1 0 -2.9 0M-7.0 -13.0a1.45 1.45 0 1 0 2.9 0a1.45 1.45 0 1 0 -2.9 0M-1.8 -13.0a1.45 1.45 0 1 0 2.9 0a1.45 1.45 0 1 0 -2.9 0M3.2 -13.0a1.45 1.45 0 1 0 2.9 0a1.45 1.45 0 1 0 -2.9 0M8.7 -13.4a1.45 1.45 0 1 0 2.9 0a1.45 1.45 0 1 0 -2.9 0M13.8 -14.2a1.45 1.45 0 1 0 2.9 0a1.45 1.45 0 1 0 -2.9 0M17.9 -11.4a1.45 1.45 0 1 0 2.9 0a1.45 1.45 0 1 0 -2.9 0M-10.5 -9.8a1.45 1.45 0 1 0 2.9 0a1.45 1.45 0 1 0 -2.9 0M-4.6 -9.8a1.45 1.45 0 1 0 2.9 0a1.45 1.45 0 1 0 -2.9 0M0.9 -9.8a1.45 1.45 0 1 0 2.9 0a1.45 1.45 0 1 0 -2.9 0M6.4 -9.8a1.45 1.45 0 1 0 2.9 0a1.45 1.45 0 1 0 -2.9 0M12.3 -9.8a1.45 1.45 0 1 0 2.9 0a1.45 1.45 0 1 0 -2.9 0M22.0 -8.3a1.45 1.45 0 1 0 2.9 0a1.45 1.45 0 1 0 -2.9 0M-14.0 -6.9a1.45 1.45 0 1 0 2.9 0a1.45 1.45 0 1 0 -2.9 0M-7.9 -6.7a1.45 1.45 0 1 0 2.9 0a1.45 1.45 0 1 0 -2.9 0M-1.8 -6.7a1.45 1.45 0 1 0 2.9 0a1.45 1.45 0 1 0 -2.9 0M4.1 -6.7a1.45 1.45 0 1 0 2.9 0a1.45 1.45 0 1 0 -2.9 0M10.3 -6.7a1.45 1.45 0 1 0 2.9 0a1.45 1.45 0 1 0 -2.9 0M16.1 -7.1a1.45 1.45 0 1 0 2.9 0a1.45 1.45 0 1 0 -2.9 0M20.2 -4.3a1.45 1.45 0 1 0 2.9 0a1.45 1.45 0 1 0 -2.9 0M-17.3 -3.6a1.45 1.45 0 1 0 2.9 0a1.45 1.45 0 1 0 -2.9 0M-11.2 -3.6a1.45 1.45 0 1 0 2.9 0a1.45 1.45 0 1 0 -2.9 0M-5.0 -3.6a1.45 1.45 0 1 0 2.9 0a1.45 1.45 0 1 0 -2.9 0M1.2 -3.6a1.45 1.45 0 1 0 2.9 0a1.45 1.45 0 1 0 -2.9 0M7.3 -3.6a1.45 1.45 0 1 0 2.9 0a1.45 1.45 0 1 0 -2.9 0M13.4 -3.6a1.45 1.45 0 1 0 2.9 0a1.45 1.45 0 1 0 -2.9 0M-14.3 -0.5a1.45 1.45 0 1 0 2.9 0a1.45 1.45 0 1 0 -2.9 0M-8.1 -0.5a1.45 1.45 0 1 0 2.9 0a1.45 1.45 0 1 0 -2.9 0M-1.8 -0.5a1.45 1.45 0 1 0 2.9 0a1.45 1.45 0 1 0 -2.9 0M4.4 -0.5a1.45 1.45 0 1 0 2.9 0a1.45 1.45 0 1 0 -2.9 0M10.6 -0.5a1.45 1.45 0 1 0 2.9 0a1.45 1.45 0 1 0 -2.9 0M16.7 -0.5a1.45 1.45 0 1 0 2.9 0a1.45 1.45 0 1 0 -2.9 0M-17.5 3.0a1.45 1.45 0 1 0 2.9 0a1.45 1.45 0 1 0 -2.9 0M-11.2 2.7a1.45 1.45 0 1 0 2.9 0a1.45 1.45 0 1 0 -2.9 0M-5.0 2.7a1.45 1.45 0 1 0 2.9 0a1.45 1.45 0 1 0 -2.9 0M1.2 2.7a1.45 1.45 0 1 0 2.9 0a1.45 1.45 0 1 0 -2.9 0M7.6 2.7a1.45 1.45 0 1 0 2.9 0a1.45 1.45 0 1 0 -2.9 0M13.8 2.7a1.45 1.45 0 1 0 2.9 0a1.45 1.45 0 1 0 -2.9 0M-13.7 6.6a1.45 1.45 0 1 0 2.9 0a1.45 1.45 0 1 0 -2.9 0M4.4 6.0a1.45 1.45 0 1 0 2.9 0a1.45 1.45 0 1 0 -2.9 0M10.3 6.2a1.45 1.45 0 1 0 2.9 0a1.45 1.45 0 1 0 -2.9 0" fill="#000"/>
</g>
<text x="437.4" y="721.3000000000001" class="t" text-anchor="middle">2</text>
<g transform="translate(555.3 744.7)">
<path d="M-32.5 -5.9 C-35.0 -6.3 -36.599999999999994 -5 -36.599999999999994 -2 L-36.599999999999994 5.5 C-36.599999999999994 8.5 -35.0 9.6 -32.5 9.2Z" fill="#fff" stroke="#777" stroke-width="0.8"/><path d="M32.5 -5.9 C35.0 -6.3 36.599999999999994 -5 36.599999999999994 -2 L36.599999999999994 5.5 C36.599999999999994 8.5 35.0 9.6 32.5 9.2Z" fill="#fff" stroke="#777" stroke-width="0.8"/>
<path d="M-6.3 -32.199999999999996 L0 -38.199999999999996 L6.3 -32.199999999999996" fill="none" stroke="#555" stroke-width="0.85"/>
<path d="M-34.199999999999996 -3.8 C-35.599999999999994 -1.5 -35.599999999999994 3 -34.4 6.2 M34.199999999999996 -3.8 C35.599999999999994 -1.5 35.599999999999994 3 34.4 6.2" fill="none" stroke="#aaa" stroke-width="0.6"/>
<g clip-path="url(#cc)"><g filter="url(#bl)"><path d="M-39 -37.5h15M21 -37.5h18M-39 -34.5h12M24 -34.5h15M-39 -31.5h9M27 -31.5h12M-39 -28.5h6M30 -28.5h9M-39 -25.5h6M30 -25.5h9M-39 -22.5h3M33 -22.5h6M-39 -19.5h3M33 -19.5h6M-39 -16.5h3M36 -16.5h3M36 -13.5h3M36 -10.5h3M36 -7.5h3M36 -4.5h3M36 -1.5h3M36 1.5h3M36 4.5h3M36 7.5h3M36 10.5h3M-39 13.5h3M33 13.5h6M-39 16.5h3M33 16.5h6M-39 19.5h6M27 19.5h12M-39 22.5h12M18 22.5h21M-39 25.5h78M-39 28.5h15M27 28.5h12M-39 31.5h12M30 31.5h9M-39 34.5h12M27 34.5h12M-39 37.5h15M24 37.5h15" stroke="#3d8ecc" stroke-width="3.3"/><path d="M-24 -37.5h45M-27 -34.5h18M6 -34.5h18M-30 -31.5h15M12 -31.5h15M-33 -28.5h12M15 -28.5h15M-33 -25.5h9M18 -25.5h12M-36 -22.5h12M21 -22.5h12M-36 -19.5h9M24 -19.5h9M-36 -16.5h9M24 -16.5h12M-39 -13.5h9M24 -13.5h12M-39 -10.5h9M27 -10.5h9M-39 -7.5h9M27 -7.5h9M-39 -4.5h9M27 -4.5h9M-39 -1.5h9M27 -1.5h9M-39 1.5h9M27 1.5h9M-39 4.5h9M27 4.5h9M-39 7.5h9M24 7.5h12M-39 10.5h9M24 10.5h12M-36 13.5h9M24 13.5h9M-36 16.5h9M21 16.5h12M-33 19.5h12M18 19.5h9M-27 22.5h12M9 22.5h9" stroke="#3496d4" stroke-width="3.3"/><path d="M-9 -34.5h15M-15 -31.5h27M-21 -28.5h9M9 -28.5h6M-24 -25.5h6M12 -25.5h6M-24 -22.5h6M15 -22.5h6M-27 -19.5h6M18 -19.5h6M-27 -16.5h3M18 -16.5h6M-30 -13.5h6M21 -13.5h3M-30 -10.5h6M21 -10.5h6M-30 -7.5h3M21 -7.5h6M-30 -4.5h3M21 -4.5h6M-30 -1.5h3M21 -1.5h6M-30 1.5h3M21 1.5h6M-30 4.5h3M21 4.5h6M-30 7.5h6M21 7.5h3M-30 10.5h6M21 10.5h3M-27 13.5h3M18 13.5h6M-27 16.5h6M15 16.5h6M-21 19.5h3M12 19.5h6M-15 22.5h6M3 22.5h6" stroke="#289ed7" stroke-width="3.3"/><path d="M-12 -28.5h21M-18 -25.5h6M6 -25.5h6M-18 -22.5h3M12 -22.5h3M-21 -19.5h3M12 -19.5h6M-24 -16.5h3M15 -16.5h3M-24 -13.5h3M18 -13.5h3M-24 -10.5h3M18 -10.5h3M-27 -7.5h3M18 -7.5h3M-27 -4.5h3M18 -4.5h3M-27 -1.5h3M18 -1.5h3M-27 1.5h3M18 1.5h3M-27 4.5h3M18 4.5h3M-24 7.5h3M18 7.5h3M-24 10.5h3M15 10.5h6M-24 13.5h3M15 13.5h3M-21 16.5h3M12 16.5h3M-18 19.5h3M9 19.5h3M-9 22.5h12" stroke="#1ca6da" stroke-width="3.3"/><path d="M-12 -25.5h18M-15 -22.5h3M6 -22.5h6M-18 -19.5h3M9 -19.5h3M-21 -16.5h3M12 -16.5h3M-21 -13.5h3M15 -13.5h3M15 -10.5h3M-24 -7.5h3M15 -7.5h3M-24 -4.5h3M15 -4.5h3M-24 -1.5h3M15 -1.5h3M-24 1.5h3M15 1.5h3M-24 4.5h3M15 4.5h3M15 7.5h3M-21 10.5h3M-21 13.5h3M12 13.5h3M-18 16.5h3M9 16.5h3M-15 19.5h3M6 19.5h3" stroke="#19acd4" stroke-width="3.3"/><path d="M-12 -22.5h3M3 -22.5h3M-18 -16.5h3M9 -16.5h3M12 -13.5h3M-21 -10.5h3M12 -10.5h3M-21 -7.5h3M-21 4.5h3M-21 7.5h3M12 7.5h3M12 10.5h3M-18 13.5h3M9 13.5h3M-12 19.5h6M0 19.5h6" stroke="#16b3cd" stroke-width="3.3"/><path d="M-9 -22.5h12M-15 -19.5h3M6 -19.5h3M-18 -13.5h3M12 -7.5h3M-21 -4.5h3M12 -4.5h3M-21 -1.5h3M12 -1.5h3M-21 1.5h3M12 1.5h3M12 4.5h3M-15 16.5h3M6 16.5h3M-6 19.5h6" stroke="#19b6c0" stroke-width="3.3"/><path d="M-12 -19.5h3M3 -19.5h3M9 -13.5h3M-18 -10.5h3M9 7.5h3M-18 10.5h3M9 10.5h3M-12 16.5h3M3 16.5h3" stroke="#1cb9b4" stroke-width="3.3"/><path d="M-9 -19.5h3M0 -19.5h3M-15 -16.5h3M6 -16.5h3M9 -10.5h3M-18 -7.5h3M9 -7.5h3M-18 4.5h3M9 4.5h3M-18 7.5h3M-15 13.5h3M6 13.5h3" stroke="#2abcaa" stroke-width="3.3"/><path d="M-6 -19.5h6M-18 -4.5h3M9 -4.5h3M-18 -1.5h3M9 -1.5h3M-18 1.5h3M9 1.5h3M-9 16.5h12" stroke="#38bea0" stroke-width="3.3"/><path d="M-12 -16.5h3M3 -16.5h3M-15 -13.5h3M6 -13.5h3M-15 10.5h3M6 10.5h3" stroke="#46be94" stroke-width="3.3"/><path d="M-9 -16.5h6M0 -16.5h3M-15 -10.5h3M-15 7.5h3" stroke="#69c274" stroke-width="3.3"/><path d="M-3 -16.5h3M-12 -13.5h3M3 -13.5h3M-15 -7.5h3M6 -7.5h3M6 -4.5h3M6 -1.5h3M6 1.5h3M-15 4.5h3M6 4.5h3M-9 13.5h12" stroke="#7dc462" stroke-width="3.3"/><path d="M-9 -13.5h3M0 -13.5h3M-12 -10.5h3M3 -10.5h3M3 7.5h3M0 10.5h3" stroke="#b5c437" stroke-width="3.3"/><path d="M-6 -13.5h6M-12 7.5h3M-9 10.5h6" stroke="#c8c02d" stroke-width="3.3"/><path d="M-9 -10.5h3M0 -10.5h3M-12 -4.5h3M3 -4.5h3M-12 -1.5h3M3 -1.5h3M-12 1.5h3M3 1.5h3" stroke="#e6b92d" stroke-width="3.3"/><path d="M-6 -10.5h6M-9 7.5h3M0 7.5h3" stroke="#f0bc32" stroke-width="3.3"/><path d="M6 -10.5h3M6 7.5h3M-12 13.5h3M3 13.5h3" stroke="#55bf87" stroke-width="3.3"/><path d="M-12 -7.5h3M3 -7.5h3M-12 4.5h3M3 4.5h3M-3 10.5h3" stroke="#d7bc2d" stroke-width="3.3"/><path d="M-9 -7.5h3M-9 4.5h3M0 4.5h3" stroke="#f8c932" stroke-width="3.3"/><path d="M-6 -7.5h6M-9 -4.5h3M0 -4.5h3M-9 -1.5h3M0 -1.5h3M-9 1.5h3M0 1.5h3M-6 4.5h6" stroke="#f5d22d" stroke-width="3.3"/><path d="M0 -7.5h3M-6 7.5h6" stroke="#fac037" stroke-width="3.3"/><path d="M-15 -4.5h3M-15 -1.5h3M-15 1.5h3M-12 10.5h3M3 10.5h3" stroke="#90c651" stroke-width="3.3"/><path d="M-6 -4.5h6M-6 -1.5h6M-6 1.5h6" stroke="#f4da2d" stroke-width="3.3"/><path d="M-24 28.5h27M9 28.5h18M-27 31.5h12M18 31.5h12M-27 34.5h12M18 34.5h9M-24 37.5h18M9 37.5h15" stroke="#4685c5" stroke-width="3.3"/><path d="M3 28.5h6M-15 31.5h33M-15 34.5h33M-6 37.5h15" stroke="#487dbe" stroke-width="3.3"/></g></g>
<circle r="32.8" fill="none" stroke="#333" stroke-width="0.9"/>
<path d="M-9.4 -19.5a1.45 1.45 0 1 0 2.9 0a1.45 1.45 0 1 0 -2.9 0M-1.6 -19.1a1.45 1.45 0 1 0 2.9 0a1.45 1.45 0 1 0 -2.9 0M-3.8 -16.2a1.45 1.45 0 1 0 2.9 0a1.45 1.45 0 1 0 -2.9 0M0.6 -16.2a1.45 1.45 0 1 0 2.9 0a1.45 1.45 0 1 0 -2.9 0M-12.1 -13.5a1.45 1.45 0 1 0 2.9 0a1.45 1.45 0 1 0 -2.9 0M-6.7 -13.1a1.45 1.45 0 1 0 2.9 0a1.45 1.45 0 1 0 -2.9 0M-1.6 -13.1a1.45 1.45 0 1 0 2.9 0a1.45 1.45 0 1 0 -2.9 0M3.5 -13.1a1.45 1.45 0 1 0 2.9 0a1.45 1.45 0 1 0 -2.9 0M-15.8 -10.1a1.45 1.45 0 1 0 2.9 0a1.45 1.45 0 1 0 -2.9 0M-10.1 -10.0a1.45 1.45 0 1 0 2.9 0a1.45 1.45 0 1 0 -2.9 0M-4.5 -9.8a1.45 1.45 0 1 0 2.9 0a1.45 1.45 0 1 0 -2.9 0M1.4 -9.8a1.45 1.45 0 1 0 2.9 0a1.45 1.45 0 1 0 -2.9 0M7.0 -10.0a1.45 1.45 0 1 0 2.9 0a1.45 1.45 0 1 0 -2.9 0M-13.5 -6.9a1.45 1.45 0 1 0 2.9 0a1.45 1.45 0 1 0 -2.9 0M-7.6 -6.5a1.45 1.45 0 1 0 2.9 0a1.45 1.45 0 1 0 -2.9 0M-1.6 -6.7a1.45 1.45 0 1 0 2.9 0a1.45 1.45 0 1 0 -2.9 0M4.5 -6.5a1.45 1.45 0 1 0 2.9 0a1.45 1.45 0 1 0 -2.9 0M-17.1 -3.8a1.45 1.45 0 1 0 2.9 0a1.45 1.45 0 1 0 -2.9 0M-10.8 -3.6a1.45 1.45 0 1 0 2.9 0a1.45 1.45 0 1 0 -2.9 0M-4.9 -3.6a1.45 1.45 0 1 0 2.9 0a1.45 1.45 0 1 0 -2.9 0M1.6 -3.6a1.45 1.45 0 1 0 2.9 0a1.45 1.45 0 1 0 -2.9 0M7.7 -3.6a1.45 1.45 0 1 0 2.9 0a1.45 1.45 0 1 0 -2.9 0M-14.2 -0.4a1.45 1.45 0 1 0 2.9 0a1.45 1.45 0 1 0 -2.9 0M-7.9 -0.4a1.45 1.45 0 1 0 2.9 0a1.45 1.45 0 1 0 -2.9 0M-1.6 -0.4a1.45 1.45 0 1 0 2.9 0a1.45 1.45 0 1 0 -2.9 0M4.8 -0.4a1.45 1.45 0 1 0 2.9 0a1.45 1.45 0 1 0 -2.9 0M-17.1 2.8a1.45 1.45 0 1 0 2.9 0a1.45 1.45 0 1 0 -2.9 0M-10.8 2.8a1.45 1.45 0 1 0 2.9 0a1.45 1.45 0 1 0 -2.9 0M-4.9 2.8a1.45 1.45 0 1 0 2.9 0a1.45 1.45 0 1 0 -2.9 0M1.6 2.8a1.45 1.45 0 1 0 2.9 0a1.45 1.45 0 1 0 -2.9 0M7.7 2.8a1.45 1.45 0 1 0 2.9 0a1.45 1.45 0 1 0 -2.9 0M-13.5 6.1a1.45 1.45 0 1 0 2.9 0a1.45 1.45 0 1 0 -2.9 0M-7.6 5.9a1.45 1.45 0 1 0 2.9 0a1.45 1.45 0 1 0 -2.9 0M-1.6 5.9a1.45 1.45 0 1 0 2.9 0a1.45 1.45 0 1 0 -2.9 0M4.5 5.9a1.45 1.45 0 1 0 2.9 0a1.45 1.45 0 1 0 -2.9 0M10.3 6.1a1.45 1.45 0 1 0 2.9 0a1.45 1.45 0 1 0 -2.9 0M-10.1 9.1a1.45 1.45 0 1 0 2.9 0a1.45 1.45 0 1 0 -2.9 0M-4.5 9.0a1.45 1.45 0 1 0 2.9 0a1.45 1.45 0 1 0 -2.9 0M1.4 9.0a1.45 1.45 0 1 0 2.9 0a1.45 1.45 0 1 0 -2.9 0M7.0 9.1a1.45 1.45 0 1 0 2.9 0a1.45 1.45 0 1 0 -2.9 0M12.7 9.6a1.45 1.45 0 1 0 2.9 0a1.45 1.45 0 1 0 -2.9 0M-12.1 12.6a1.45 1.45 0 1 0 2.9 0a1.45 1.45 0 1 0 -2.9 0M-6.7 12.5a1.45 1.45 0 1 0 2.9 0a1.45 1.45 0 1 0 -2.9 0M-1.6 12.3a1.45 1.45 0 1 0 2.9 0a1.45 1.45 0 1 0 -2.9 0M3.5 12.5a1.45 1.45 0 1 0 2.9 0a1.45 1.45 0 1 0 -2.9 0M8.9 12.5a1.45 1.45 0 1 0 2.9 0a1.45 1.45 0 1 0 -2.9 0M14.0 13.2a1.45 1.45 0 1 0 2.9 0a1.45 1.45 0 1 0 -2.9 0M-4.0 15.6a1.45 1.45 0 1 0 2.9 0a1.45 1.45 0 1 0 -2.9 0M0.6 15.6a1.45 1.45 0 1 0 2.9 0a1.45 1.45 0 1 0 -2.9 0M9.7 16.1a1.45 1.45 0 1 0 2.9 0a1.45 1.45 0 1 0 -2.9 0M6.1 18.8a1.45 1.45 0 1 0 2.9 0a1.45 1.45 0 1 0 -2.9 0" fill="#000"/>
</g>
<text x="522.5" y="721.3000000000001" class="t" text-anchor="middle">3</text>
<g transform="translate(640.4 744.7)">
<path d="M-32.5 -5.9 C-35.0 -6.3 -36.599999999999994 -5 -36.599999999999994 -2 L-36.599999999999994 5.5 C-36.599999999999994 8.5 -35.0 9.6 -32.5 9.2Z" fill="#fff" stroke="#777" stroke-width="0.8"/><path d="M32.5 -5.9 C35.0 -6.3 36.599999999999994 -5 36.599999999999994 -2 L36.599999999999994 5.5 C36.599999999999994 8.5 35.0 9.6 32.5 9.2Z" fill="#fff" stroke="#777" stroke-width="0.8"/>
<path d="M-6.3 -32.199999999999996 L0 -38.199999999999996 L6.3 -32.199999999999996" fill="none" stroke="#555" stroke-width="0.85"/>
<path d="M-34.199999999999996 -3.8 C-35.599999999999994 -1.5 -35.599999999999994 3 -34.4 6.2 M34.199999999999996 -3.8 C35.599999999999994 -1.5 35.599999999999994 3 34.4 6.2" fill="none" stroke="#aaa" stroke-width="0.6"/>
<g clip-path="url(#cc)"><g filter="url(#bl)"><path d="M-39 -37.5h30M6 -37.5h33M-39 -34.5h21M15 -34.5h24M-39 -31.5h18M18 -31.5h21M-39 -28.5h15M24 -28.5h15M-39 -25.5h12M27 -25.5h12M-39 -22.5h9M27 -22.5h12M-39 -19.5h6M30 -19.5h9M-39 -16.5h6M30 -16.5h9M-39 -13.5h3M33 -13.5h6M-39 -10.5h3M33 -10.5h6M-39 -7.5h3M33 -7.5h6M33 -4.5h6M30 -1.5h9M27 1.5h12M24 4.5h15M-39 7.5h3M21 7.5h3M33 7.5h6M-39 10.5h3M18 10.5h3M33 10.5h6M-39 13.5h3M36 13.5h3M-39 16.5h6M15 16.5h3M36 16.5h3M-39 19.5h6M12 19.5h3M36 19.5h3M-39 22.5h9M12 22.5h3M33 22.5h6M-39 25.5h12M9 25.5h6M33 25.5h6M-39 28.5h15M9 28.5h9M30 28.5h9M-39 31.5h18M6 31.5h33M-39 34.5h27M3 34.5h36M-39 37.5h78" stroke="#487dbe" stroke-width="3.3"/><path d="M-9 -37.5h15M-18 -34.5h33M-21 -31.5h39M-24 -28.5h12M12 -28.5h12M-27 -25.5h9M15 -25.5h12M-30 -22.5h9M18 -22.5h9M-33 -19.5h9M21 -19.5h9M-33 -16.5h9M21 -16.5h9M-36 -13.5h9M24 -13.5h9M-36 -10.5h9M24 -10.5h9M-36 -7.5h6M24 -7.5h9M-39 -4.5h9M24 -4.5h9M-39 -1.5h9M24 -1.5h6M-39 1.5h9M21 1.5h6M-39 4.5h9M21 4.5h3M-36 7.5h6M18 7.5h3M-36 10.5h9M-36 13.5h9M15 13.5h3M-33 16.5h9M12 16.5h3M-33 19.5h12M9 19.5h3M-30 22.5h12M6 22.5h6M-27 25.5h15M3 25.5h6M-24 28.5h33M-21 31.5h27M-12 34.5h15" stroke="#4685c5" stroke-width="3.3"/><path d="M-12 -28.5h24M-18 -25.5h6M9 -25.5h6M-21 -22.5h6M15 -22.5h3M-24 -19.5h6M18 -19.5h3M-24 -16.5h3M18 -16.5h3M-27 -13.5h3M21 -13.5h3M-27 -10.5h3M21 -10.5h3M-30 -7.5h6M21 -7.5h3M-30 -4.5h6M21 -4.5h3M-30 -1.5h3M21 -1.5h3M-30 1.5h3M-30 4.5h6M18 4.5h3M-30 7.5h6M-27 10.5h3M15 10.5h3M-27 13.5h6M-24 16.5h3M-21 19.5h3M-18 22.5h6M3 22.5h3M-12 25.5h15" stroke="#3d8ecc" stroke-width="3.3"/><path d="M-12 -25.5h9M0 -25.5h9M-15 -22.5h3M9 -22.5h6M-18 -19.5h3M15 -19.5h3M-21 -16.5h3M15 -16.5h3M-24 -13.5h3M18 -13.5h3M-24 -10.5h3M18 -10.5h3M18 -7.5h3M18 -4.5h3M-27 -1.5h3M18 -1.5h3M-27 1.5h3M18 1.5h3M15 7.5h3M-24 10.5h3M12 13.5h3M-21 16.5h3M9 16.5h3M-18 19.5h6M6 19.5h3M-12 22.5h15" stroke="#3496d4" stroke-width="3.3"/><path d="M-3 -25.5h3M-12 -22.5h6M6 -22.5h3M-15 -19.5h3M12 -19.5h3M-21 -13.5h3M15 -13.5h3M-24 -7.5h3M-24 -4.5h3M-24 -1.5h3M-24 1.5h3M-24 4.5h3M15 4.5h3M-24 7.5h3M-21 13.5h3M-18 16.5h3M-12 19.5h3M0 19.5h6" stroke="#289ed7" stroke-width="3.3"/><path d="M-6 -22.5h12M9 -19.5h3M-18 -16.5h3M12 -16.5h3M-21 -10.5h3M15 -10.5h3M15 1.5h3M-21 10.5h3M12 10.5h3M6 16.5h3M-9 19.5h9" stroke="#1ca6da" stroke-width="3.3"/><path d="M-12 -19.5h3M6 -19.5h3M-21 -7.5h3M15 -7.5h3M15 -4.5h3M15 -1.5h3M-21 7.5h3M-18 13.5h3M9 13.5h3M-15 16.5h3" stroke="#19acd4" stroke-width="3.3"/><path d="M-9 -19.5h6M3 -19.5h3M-15 -16.5h3M9 -16.5h3M-18 -13.5h3M12 -13.5h3M-21 -4.5h3M-21 -1.5h3M-21 1.5h3M-21 4.5h3M12 7.5h3M-12 16.5h3M3 16.5h3" stroke="#16b3cd" stroke-width="3.3"/><path d="M-3 -19.5h6M12 -10.5h3M-18 10.5h3M-9 16.5h12" stroke="#19b6c0" stroke-width="3.3"/><path d="M-12 -16.5h3M6 -16.5h3M-18 -10.5h3M12 4.5h3M-15 13.5h3M6 13.5h3" stroke="#1cb9b4" stroke-width="3.3"/><path d="M-9 -16.5h3M3 -16.5h3M-15 -13.5h3M9 -13.5h3M-18 -7.5h3M12 -7.5h3M12 -4.5h3M12 -1.5h3M12 1.5h3M-18 7.5h3M9 10.5h3" stroke="#2abcaa" stroke-width="3.3"/><path d="M-6 -16.5h9M-18 -4.5h3M-18 -1.5h3M-18 1.5h3M-18 4.5h3M-12 13.5h3" stroke="#38bea0" stroke-width="3.3"/><path d="M-12 -13.5h3M-15 10.5h3M3 13.5h3" stroke="#46be94" stroke-width="3.3"/><path d="M-9 -13.5h3M3 -13.5h3M-15 -7.5h3M9 -7.5h3M9 4.5h3M-15 7.5h3M-12 10.5h3" stroke="#7dc462" stroke-width="3.3"/><path d="M-6 -13.5h9M9 -4.5h3M9 -1.5h3M9 1.5h3M-15 4.5h3" stroke="#90c651" stroke-width="3.3"/><path d="M6 -13.5h3M-15 -10.5h3M9 -10.5h3M9 7.5h3M-9 13.5h12" stroke="#55bf87" stroke-width="3.3"/><path d="M-12 -10.5h3M6 -10.5h3M-15 -4.5h3M-15 -1.5h3M-15 1.5h3M3 10.5h3" stroke="#a2c741" stroke-width="3.3"/><path d="M-9 -10.5h3M3 -10.5h3M-12 -7.5h3M6 -7.5h3M6 4.5h3" stroke="#d7bc2d" stroke-width="3.3"/><path d="M-6 -10.5h3M0 -10.5h3M6 1.5h3" stroke="#e6b92d" stroke-width="3.3"/><path d="M-3 -10.5h3M-12 -4.5h3M6 -4.5h3M6 -1.5h3M-12 1.5h3M-12 4.5h3M-9 7.5h3M3 7.5h3" stroke="#f0bc32" stroke-width="3.3"/><path d="M-9 -7.5h3M3 -7.5h3M3 4.5h3M-6 7.5h6" stroke="#f8c932" stroke-width="3.3"/><path d="M-6 -7.5h3M0 -7.5h3M-9 4.5h3" stroke="#f5d22d" stroke-width="3.3"/><path d="M-3 -7.5h3M-9 -4.5h3M3 -4.5h3M-9 -1.5h3M3 -1.5h3M-9 1.5h3M3 1.5h3M0 4.5h3" stroke="#f4da2d" stroke-width="3.3"/><path d="M-6 -4.5h9M-6 -1.5h3M0 -1.5h3M-6 1.5h9" stroke="#f1e82d" stroke-width="3.3"/><path d="M-12 -1.5h3M0 7.5h3" stroke="#fac037" stroke-width="3.3"/><path d="M-3 -1.5h3" stroke="#f0ee2d" stroke-width="3.3"/><path d="M-6 4.5h6" stroke="#f2e12d" stroke-width="3.3"/><path d="M-12 7.5h3M-6 10.5h9" stroke="#c8c02d" stroke-width="3.3"/><path d="M6 7.5h3M-9 10.5h3" stroke="#b5c437" stroke-width="3.3"/><path d="M24 7.5h9M21 10.5h12M18 13.5h6M27 13.5h9M18 16.5h3M27 16.5h9M15 19.5h6M27 19.5h9M15 22.5h18M15 25.5h18M18 28.5h12" stroke="#4b75b8" stroke-width="3.3"/><path d="M6 10.5h3" stroke="#69c274" stroke-width="3.3"/><path d="M24 13.5h3M21 16.5h6M21 19.5h6" stroke="#4e6fb5" stroke-width="3.3"/></g></g>
<circle r="32.8" fill="none" stroke="#333" stroke-width="0.9"/>
<path d="M-26.9 -18.9a1.45 1.45 0 1 0 2.9 0a1.45 1.45 0 1 0 -2.9 0M-21.7 -15.1a1.45 1.45 0 1 0 2.9 0a1.45 1.45 0 1 0 -2.9 0M-26.4 -13.0a1.45 1.45 0 1 0 2.9 0a1.45 1.45 0 1 0 -2.9 0M-31.3 -10.4a1.45 1.45 0 1 0 2.9 0a1.45 1.45 0 1 0 -2.9 0M-25.2 -8.3a1.45 1.45 0 1 0 2.9 0a1.45 1.45 0 1 0 -2.9 0M-29.2 -4.8a1.45 1.45 0 1 0 2.9 0a1.45 1.45 0 1 0 -2.9 0M-23.1 -4.3a1.45 1.45 0 1 0 2.9 0a1.45 1.45 0 1 0 -2.9 0M-26.4 -0.5a1.45 1.45 0 1 0 2.9 0a1.45 1.45 0 1 0 -2.9 0M-23.1 3.6a1.45 1.45 0 1 0 2.9 0a1.45 1.45 0 1 0 -2.9 0M-25.2 7.7a1.45 1.45 0 1 0 2.9 0a1.45 1.45 0 1 0 -2.9 0M-31.3 9.5a1.45 1.45 0 1 0 2.9 0a1.45 1.45 0 1 0 -2.9 0M-21.0 10.7a1.45 1.45 0 1 0 2.9 0a1.45 1.45 0 1 0 -2.9 0M-26.4 12.4a1.45 1.45 0 1 0 2.9 0a1.45 1.45 0 1 0 -2.9 0M-21.7 14.4a1.45 1.45 0 1 0 2.9 0a1.45 1.45 0 1 0 -2.9 0M-26.9 18.3a1.45 1.45 0 1 0 2.9 0a1.45 1.45 0 1 0 -2.9 0M-21.4 19.8a1.45 1.45 0 1 0 2.9 0a1.45 1.45 0 1 0 -2.9 0M-16.3 20.3a1.45 1.45 0 1 0 2.9 0a1.45 1.45 0 1 0 -2.9 0M-13.2 16.3a1.45 1.45 0 1 0 2.9 0a1.45 1.45 0 1 0 -2.9 0M-20.2 25.3a1.45 1.45 0 1 0 2.9 0a1.45 1.45 0 1 0 -2.9 0M-14.3 24.7a1.45 1.45 0 1 0 2.9 0a1.45 1.45 0 1 0 -2.9 0M-11.2 29.6a1.45 1.45 0 1 0 2.9 0a1.45 1.45 0 1 0 -2.9 0M-9.3 23.8a1.45 1.45 0 1 0 2.9 0a1.45 1.45 0 1 0 -2.9 0M-4.6 21.4a1.45 1.45 0 1 0 2.9 0a1.45 1.45 0 1 0 -2.9 0M-1.4 18.3a1.45 1.45 0 1 0 2.9 0a1.45 1.45 0 1 0 -2.9 0M1.7 21.4a1.45 1.45 0 1 0 2.9 0a1.45 1.45 0 1 0 -2.9 0M-1.4 25.0a1.45 1.45 0 1 0 2.9 0a1.45 1.45 0 1 0 -2.9 0M-6.1 27.6a1.45 1.45 0 1 0 2.9 0a1.45 1.45 0 1 0 -2.9 0M3.2 27.6a1.45 1.45 0 1 0 2.9 0a1.45 1.45 0 1 0 -2.9 0M6.2 23.8a1.45 1.45 0 1 0 2.9 0a1.45 1.45 0 1 0 -2.9 0M6.2 18.6a1.45 1.45 0 1 0 2.9 0a1.45 1.45 0 1 0 -2.9 0M8.3 29.6a1.45 1.45 0 1 0 2.9 0a1.45 1.45 0 1 0 -2.9 0M9.7 16.3a1.45 1.45 0 1 0 2.9 0a1.45 1.45 0 1 0 -2.9 0M9.1 12.8a1.45 1.45 0 1 0 2.9 0a1.45 1.45 0 1 0 -2.9 0M13.2 20.3a1.45 1.45 0 1 0 2.9 0a1.45 1.45 0 1 0 -2.9 0M11.4 24.7a1.45 1.45 0 1 0 2.9 0a1.45 1.45 0 1 0 -2.9 0M16.7 25.3a1.45 1.45 0 1 0 2.9 0a1.45 1.45 0 1 0 -2.9 0M18.5 20.3a1.45 1.45 0 1 0 2.9 0a1.45 1.45 0 1 0 -2.9 0M14.1 12.8a1.45 1.45 0 1 0 2.9 0a1.45 1.45 0 1 0 -2.9 0M13.2 9.5a1.45 1.45 0 1 0 2.9 0a1.45 1.45 0 1 0 -2.9 0M18.5 14.4a1.45 1.45 0 1 0 2.9 0a1.45 1.45 0 1 0 -2.9 0M23.7 18.3a1.45 1.45 0 1 0 2.9 0a1.45 1.45 0 1 0 -2.9 0M18.5 10.4a1.45 1.45 0 1 0 2.9 0a1.45 1.45 0 1 0 -2.9 0M16.5 6.6a1.45 1.45 0 1 0 2.9 0a1.45 1.45 0 1 0 -2.9 0M22.3 7.7a1.45 1.45 0 1 0 2.9 0a1.45 1.45 0 1 0 -2.9 0M28.2 9.3a1.45 1.45 0 1 0 2.9 0a1.45 1.45 0 1 0 -2.9 0M23.1 12.4a1.45 1.45 0 1 0 2.9 0a1.45 1.45 0 1 0 -2.9 0M20.2 3.4a1.45 1.45 0 1 0 2.9 0a1.45 1.45 0 1 0 -2.9 0M14.1 3.0a1.45 1.45 0 1 0 2.9 0a1.45 1.45 0 1 0 -2.9 0M17.6 -0.5a1.45 1.45 0 1 0 2.9 0a1.45 1.45 0 1 0 -2.9 0M23.7 -0.5a1.45 1.45 0 1 0 2.9 0a1.45 1.45 0 1 0 -2.9 0M20.2 -4.6a1.45 1.45 0 1 0 2.9 0a1.45 1.45 0 1 0 -2.9 0M26.3 -4.8a1.45 1.45 0 1 0 2.9 0a1.45 1.45 0 1 0 -2.9 0M16.5 -7.1a1.45 1.45 0 1 0 2.9 0a1.45 1.45 0 1 0 -2.9 0M22.3 -8.1a1.45 1.45 0 1 0 2.9 0a1.45 1.45 0 1 0 -2.9 0M28.4 -10.4a1.45 1.45 0 1 0 2.9 0a1.45 1.45 0 1 0 -2.9 0M18.5 -11.6a1.45 1.45 0 1 0 2.9 0a1.45 1.45 0 1 0 -2.9 0M14.1 -14.2a1.45 1.45 0 1 0 2.9 0a1.45 1.45 0 1 0 -2.9 0M18.8 -15.1a1.45 1.45 0 1 0 2.9 0a1.45 1.45 0 1 0 -2.9 0M23.7 -13.4a1.45 1.45 0 1 0 2.9 0a1.45 1.45 0 1 0 -2.9 0M13.2 -20.7a1.45 1.45 0 1 0 2.9 0a1.45 1.45 0 1 0 -2.9 0M24.3 -18.9a1.45 1.45 0 1 0 2.9 0a1.45 1.45 0 1 0 -2.9 0" fill="#000"/>
</g>
<text x="607.6" y="721.3000000000001" class="t" text-anchor="middle">4</text>
<g transform="translate(385.0 829.9)">
<path d="M-32.5 -5.9 C-35.0 -6.3 -36.599999999999994 -5 -36.599999999999994 -2 L-36.599999999999994 5.5 C-36.599999999999994 8.5 -35.0 9.6 -32.5 9.2Z" fill="#fff" stroke="#777" stroke-width="0.8"/><path d="M32.5 -5.9 C35.0 -6.3 36.599999999999994 -5 36.599999999999994 -2 L36.599999999999994 5.5 C36.599999999999994 8.5 35.0 9.6 32.5 9.2Z" fill="#fff" stroke="#777" stroke-width="0.8"/>
<path d="M-6.3 -32.199999999999996 L0 -38.199999999999996 L6.3 -32.199999999999996" fill="none" stroke="#555" stroke-width="0.85"/>
<path d="M-34.199999999999996 -3.8 C-35.599999999999994 -1.5 -35.599999999999994 3 -34.4 6.2 M34.199999999999996 -3.8 C35.599999999999994 -1.5 35.599999999999994 3 34.4 6.2" fill="none" stroke="#aaa" stroke-width="0.6"/>
<g clip-path="url(#cc)"><g filter="url(#bl)"><path d="M-39 -37.5h24M12 -37.5h27M-39 -34.5h18M18 -34.5h21M-39 -31.5h15M21 -31.5h18M-39 -28.5h12M24 -28.5h15M-39 -25.5h9M27 -25.5h12M-39 -22.5h6M30 -22.5h9M-39 -19.5h6M30 -19.5h9M-39 -16.5h6M30 -16.5h9M-39 -13.5h3M33 -13.5h6M-39 -10.5h3M33 -10.5h6M-39 -7.5h3M33 -7.5h6M-39 -4.5h3M33 -4.5h6M-39 -1.5h3M33 -1.5h6M-39 1.5h3M33 1.5h6M-39 4.5h3M33 4.5h6M-39 7.5h3M30 7.5h9M-39 10.5h6M30 10.5h9M-39 13.5h6M27 13.5h12M-39 16.5h9M24 16.5h15M-39 19.5h12M18 19.5h21M-39 22.5h24M-3 22.5h18M24 22.5h15M-39 25.5h18M33 25.5h6M-39 28.5h9M36 28.5h3M-39 31.5h9M-39 34.5h9M36 34.5h3M-39 37.5h12M33 37.5h6" stroke="#4685c5" stroke-width="3.3"/><path d="M-15 -37.5h27M-21 -34.5h39M-24 -31.5h12M9 -31.5h12M-27 -28.5h9M15 -28.5h9M-30 -25.5h9M18 -25.5h9M-33 -22.5h9M21 -22.5h9M-33 -19.5h6M24 -19.5h6M-33 -16.5h6M24 -16.5h6M-36 -13.5h6M24 -13.5h9M-36 -10.5h6M27 -10.5h6M-36 -7.5h6M27 -7.5h6M-36 -4.5h6M27 -4.5h6M-36 -1.5h6M27 -1.5h6M-36 1.5h6M27 1.5h6M-36 4.5h6M24 4.5h9M-36 7.5h9M24 7.5h6M-33 10.5h6M24 10.5h6M-33 13.5h9M21 13.5h6M-30 16.5h9M18 16.5h6M-27 19.5h9M9 19.5h9M-15 22.5h12" stroke="#3d8ecc" stroke-width="3.3"/><path d="M-12 -31.5h21M-18 -28.5h6M9 -28.5h6M-21 -25.5h6M12 -25.5h6M-24 -22.5h3M18 -22.5h3M-27 -19.5h6M18 -19.5h6M-27 -16.5h3M21 -16.5h3M-30 -13.5h6M21 -13.5h3M-30 -10.5h3M21 -10.5h6M-30 -7.5h3M24 -7.5h3M-30 -4.5h3M24 -4.5h3M-30 -1.5h3M24 -1.5h3M-30 1.5h3M21 1.5h6M-30 4.5h3M21 4.5h3M-27 7.5h3M21 7.5h3M-27 10.5h3M18 10.5h6M-24 13.5h3M18 13.5h3M-21 16.5h3M12 16.5h6M-18 19.5h9M3 19.5h6" stroke="#3496d4" stroke-width="3.3"/><path d="M-12 -28.5h21M-15 -25.5h3M9 -25.5h3M-21 -22.5h3M12 -22.5h6M15 -19.5h3M-24 -16.5h3M18 -16.5h3M18 -13.5h3M-27 -10.5h3M-27 -7.5h3M21 -7.5h3M-27 -4.5h3M21 -4.5h3M-27 -1.5h3M21 -1.5h3M-27 1.5h3M-27 4.5h3M18 4.5h3M-24 7.5h3M18 7.5h3M-24 10.5h3M-21 13.5h3M15 13.5h3M-18 16.5h3M9 16.5h3M-9 19.5h12" stroke="#289ed7" stroke-width="3.3"/><path d="M-12 -25.5h6M3 -25.5h6M-18 -22.5h3M9 -22.5h3M-21 -19.5h3M15 -16.5h3M-24 -13.5h3M-24 -10.5h3M18 -10.5h3M18 -7.5h3M18 -4.5h3M18 -1.5h3M-24 1.5h3M18 1.5h3M-24 4.5h3M-21 10.5h3M15 10.5h3M12 13.5h3M-15 16.5h3M6 16.5h3" stroke="#1ca6da" stroke-width="3.3"/><path d="M-6 -25.5h9M-15 -22.5h6M6 -22.5h3M-18 -19.5h3M12 -19.5h3M-21 -16.5h3M15 -13.5h3M-24 -7.5h3M-24 -4.5h3M-24 -1.5h3M15 4.5h3M15 7.5h3M-18 13.5h3M9 13.5h3M-12 16.5h9M0 16.5h6" stroke="#19acd4" stroke-width="3.3"/><path d="M-9 -22.5h3M3 -22.5h3M9 -19.5h3M12 -16.5h3M-21 -13.5h3M15 -10.5h3M15 -7.5h3M15 -4.5h3M15 -1.5h3M15 1.5h3M-21 7.5h3M12 10.5h3M-15 13.5h3M-3 16.5h3" stroke="#16b3cd" stroke-width="3.3"/><path d="M-6 -22.5h9M-15 -19.5h3M-18 -16.5h3M-21 -10.5h3M-21 1.5h3M-21 4.5h3M12 7.5h3M-18 10.5h3M6 13.5h3" stroke="#19b6c0" stroke-width="3.3"/><path d="M-12 -19.5h3M6 -19.5h3M12 -13.5h3M-21 -7.5h3M-21 -4.5h3M-21 -1.5h3M9 10.5h3M-12 13.5h3" stroke="#1cb9b4" stroke-width="3.3"/><path d="M-9 -19.5h12M-15 -16.5h3M12 -7.5h3M12 -4.5h3M12 -1.5h3M12 1.5h3M-15 10.5h3M-3 13.5h3" stroke="#38bea0" stroke-width="3.3"/><path d="M3 -19.5h3M9 -16.5h3M-18 -13.5h3M12 -10.5h3M12 4.5h3M-18 7.5h3M-9 13.5h6M0 13.5h6" stroke="#2abcaa" stroke-width="3.3"/><path d="M-12 -16.5h3M6 -16.5h3M9 -13.5h3M-18 -7.5h3M-18 -1.5h3M-18 1.5h3M-12 10.5h3" stroke="#55bf87" stroke-width="3.3"/><path d="M-9 -16.5h3M3 -16.5h3M9 -10.5h3M-9 10.5h3" stroke="#7dc462" stroke-width="3.3"/><path d="M-6 -16.5h9M9 -7.5h3M9 1.5h3M6 7.5h3M-6 10.5h9" stroke="#90c651" stroke-width="3.3"/><path d="M-15 -13.5h3M-18 -4.5h3M9 4.5h3M-15 7.5h3M3 10.5h3" stroke="#69c274" stroke-width="3.3"/><path d="M-12 -13.5h3M-12 7.5h3" stroke="#b5c437" stroke-width="3.3"/><path d="M-9 -13.5h3M-6 7.5h3M0 7.5h3" stroke="#e6b92d" stroke-width="3.3"/><path d="M-6 -13.5h9M-12 -10.5h3M6 -7.5h3M6 1.5h3M-12 4.5h3M-3 7.5h3" stroke="#f0bc32" stroke-width="3.3"/><path d="M3 -13.5h3M6 -10.5h3M6 4.5h3M-9 7.5h3" stroke="#d7bc2d" stroke-width="3.3"/><path d="M6 -13.5h3M-15 -10.5h3M9 -4.5h3M9 -1.5h3M-15 4.5h3" stroke="#a2c741" stroke-width="3.3"/><path d="M-18 -10.5h3M-18 4.5h3M9 7.5h3M6 10.5h3" stroke="#46be94" stroke-width="3.3"/><path d="M-9 -10.5h3M-12 -4.5h3M-12 -1.5h3M-9 4.5h3" stroke="#f5d22d" stroke-width="3.3"/><path d="M-6 -10.5h6M3 -7.5h3M3 -4.5h3M3 -1.5h3M-9 1.5h3" stroke="#f2e12d" stroke-width="3.3"/><path d="M0 -10.5h3M3 1.5h3M-6 4.5h9" stroke="#f4da2d" stroke-width="3.3"/><path d="M3 -10.5h3M-12 -7.5h3M-12 1.5h3M3 4.5h3" stroke="#f8c932" stroke-width="3.3"/><path d="M-15 -7.5h3M-15 -4.5h3M-15 -1.5h3M-15 1.5h3M3 7.5h3" stroke="#c8c02d" stroke-width="3.3"/><path d="M-9 -7.5h3M-9 -1.5h3M0 1.5h3" stroke="#f1e82d" stroke-width="3.3"/><path d="M-6 -7.5h9M-9 -4.5h12M-6 -1.5h9M-6 1.5h6" stroke="#f0ee2d" stroke-width="3.3"/><path d="M6 -4.5h3M6 -1.5h3" stroke="#fac037" stroke-width="3.3"/><path d="M15 22.5h9M-21 25.5h18M21 25.5h12M-30 28.5h12M27 28.5h9M-30 31.5h9M27 31.5h12M-30 34.5h12M27 34.5h9M-27 37.5h12M21 37.5h12" stroke="#487dbe" stroke-width="3.3"/><path d="M-3 25.5h24M-18 28.5h9M18 28.5h9M-21 31.5h9M21 31.5h6M-18 34.5h6M18 34.5h9M-15 37.5h12M12 37.5h9" stroke="#4b75b8" stroke-width="3.3"/><path d="M-9 28.5h12M6 28.5h12M-12 31.5h6M15 31.5h6M-12 34.5h9M12 34.5h6M-3 37.5h15" stroke="#4e6fb5" stroke-width="3.3"/><path d="M3 28.5h3M-6 31.5h21M-3 34.5h15" stroke="#5069b2" stroke-width="3.3"/></g></g>
<circle r="32.8" fill="none" stroke="#333" stroke-width="0.9"/>
<path d="M-26.5 -12.9a1.45 1.45 0 1 0 2.9 0a1.45 1.45 0 1 0 -2.9 0M-31.6 -9.8a1.45 1.45 0 1 0 2.9 0a1.45 1.45 0 1 0 -2.9 0M-25.3 -7.8a1.45 1.45 0 1 0 2.9 0a1.45 1.45 0 1 0 -2.9 0M-29.2 -4.7a1.45 1.45 0 1 0 2.9 0a1.45 1.45 0 1 0 -2.9 0M-26.9 0.0a1.45 1.45 0 1 0 2.9 0a1.45 1.45 0 1 0 -2.9 0M-25.3 7.7a1.45 1.45 0 1 0 2.9 0a1.45 1.45 0 1 0 -2.9 0M-31.6 9.7a1.45 1.45 0 1 0 2.9 0a1.45 1.45 0 1 0 -2.9 0M-26.9 12.9a1.45 1.45 0 1 0 2.9 0a1.45 1.45 0 1 0 -2.9 0M-21.8 14.8a1.45 1.45 0 1 0 2.9 0a1.45 1.45 0 1 0 -2.9 0M-26.9 18.5a1.45 1.45 0 1 0 2.9 0a1.45 1.45 0 1 0 -2.9 0M-21.4 19.9a1.45 1.45 0 1 0 2.9 0a1.45 1.45 0 1 0 -2.9 0M-16.3 20.6a1.45 1.45 0 1 0 2.9 0a1.45 1.45 0 1 0 -2.9 0M-19.8 25.5a1.45 1.45 0 1 0 2.9 0a1.45 1.45 0 1 0 -2.9 0M-14.3 25.0a1.45 1.45 0 1 0 2.9 0a1.45 1.45 0 1 0 -2.9 0M-11.3 30.0a1.45 1.45 0 1 0 2.9 0a1.45 1.45 0 1 0 -2.9 0M-9.3 23.8a1.45 1.45 0 1 0 2.9 0a1.45 1.45 0 1 0 -2.9 0M-6.1 27.6a1.45 1.45 0 1 0 2.9 0a1.45 1.45 0 1 0 -2.9 0M-4.3 21.8a1.45 1.45 0 1 0 2.9 0a1.45 1.45 0 1 0 -2.9 0M-1.1 25.0a1.45 1.45 0 1 0 2.9 0a1.45 1.45 0 1 0 -2.9 0M1.2 21.8a1.45 1.45 0 1 0 2.9 0a1.45 1.45 0 1 0 -2.9 0M2.8 27.6a1.45 1.45 0 1 0 2.9 0a1.45 1.45 0 1 0 -2.9 0M5.9 23.8a1.45 1.45 0 1 0 2.9 0a1.45 1.45 0 1 0 -2.9 0M5.9 19.1a1.45 1.45 0 1 0 2.9 0a1.45 1.45 0 1 0 -2.9 0M8.3 30.0a1.45 1.45 0 1 0 2.9 0a1.45 1.45 0 1 0 -2.9 0M10.0 16.8a1.45 1.45 0 1 0 2.9 0a1.45 1.45 0 1 0 -2.9 0M11.2 25.0a1.45 1.45 0 1 0 2.9 0a1.45 1.45 0 1 0 -2.9 0M13.0 20.3a1.45 1.45 0 1 0 2.9 0a1.45 1.45 0 1 0 -2.9 0M14.1 13.8a1.45 1.45 0 1 0 2.9 0a1.45 1.45 0 1 0 -2.9 0M13.0 10.1a1.45 1.45 0 1 0 2.9 0a1.45 1.45 0 1 0 -2.9 0M14.1 3.5a1.45 1.45 0 1 0 2.9 0a1.45 1.45 0 1 0 -2.9 0M17.1 0.0a1.45 1.45 0 1 0 2.9 0a1.45 1.45 0 1 0 -2.9 0M23.5 0.0a1.45 1.45 0 1 0 2.9 0a1.45 1.45 0 1 0 -2.9 0M20.0 3.9a1.45 1.45 0 1 0 2.9 0a1.45 1.45 0 1 0 -2.9 0M16.5 6.8a1.45 1.45 0 1 0 2.9 0a1.45 1.45 0 1 0 -2.9 0M22.3 7.7a1.45 1.45 0 1 0 2.9 0a1.45 1.45 0 1 0 -2.9 0M18.2 10.9a1.45 1.45 0 1 0 2.9 0a1.45 1.45 0 1 0 -2.9 0M28.8 9.7a1.45 1.45 0 1 0 2.9 0a1.45 1.45 0 1 0 -2.9 0M23.5 12.9a1.45 1.45 0 1 0 2.9 0a1.45 1.45 0 1 0 -2.9 0M18.2 14.4a1.45 1.45 0 1 0 2.9 0a1.45 1.45 0 1 0 -2.9 0M18.2 19.9a1.45 1.45 0 1 0 2.9 0a1.45 1.45 0 1 0 -2.9 0M24.1 18.5a1.45 1.45 0 1 0 2.9 0a1.45 1.45 0 1 0 -2.9 0M17.1 25.5a1.45 1.45 0 1 0 2.9 0a1.45 1.45 0 1 0 -2.9 0" fill="#000"/>
</g>
<text x="352.2" y="806.5" class="t" text-anchor="middle">5</text>
<rect x="428.2" y="785.6999999999999" width="83.8" height="83.6" rx="9" fill="#efe1f1"/>
<g transform="translate(470.2 829.9)">
<path d="M-32.5 -5.9 C-35.0 -6.3 -36.599999999999994 -5 -36.599999999999994 -2 L-36.599999999999994 5.5 C-36.599999999999994 8.5 -35.0 9.6 -32.5 9.2Z" fill="#fff" stroke="#777" stroke-width="0.8"/><path d="M32.5 -5.9 C35.0 -6.3 36.599999999999994 -5 36.599999999999994 -2 L36.599999999999994 5.5 C36.599999999999994 8.5 35.0 9.6 32.5 9.2Z" fill="#fff" stroke="#777" stroke-width="0.8"/>
<path d="M-6.3 -32.199999999999996 L0 -38.199999999999996 L6.3 -32.199999999999996" fill="none" stroke="#555" stroke-width="0.85"/>
<path d="M-34.199999999999996 -3.8 C-35.599999999999994 -1.5 -35.599999999999994 3 -34.4 6.2 M34.199999999999996 -3.8 C35.599999999999994 -1.5 35.599999999999994 3 34.4 6.2" fill="none" stroke="#aaa" stroke-width="0.6"/>
<g clip-path="url(#cc)"><g filter="url(#bl)"><path d="M-39 -37.5h12M27 -37.5h12M-39 -34.5h9M30 -34.5h9M-39 -31.5h6M33 -31.5h6M-39 -28.5h3M36 -28.5h3M36 31.5h3M-39 34.5h3M36 34.5h3M-39 37.5h6M33 37.5h6" stroke="#5060aa" stroke-width="3.3"/><path d="M-27 -37.5h24M6 -37.5h21M-30 -34.5h15M15 -34.5h15M-33 -31.5h12M21 -31.5h12M-36 -28.5h12M24 -28.5h12M-39 -25.5h12M27 -25.5h12M-39 -22.5h9M30 -22.5h9M-39 -19.5h6M33 -19.5h6M-39 -16.5h3M33 -16.5h6M-39 -13.5h3M36 -13.5h3M36 -10.5h3M36 13.5h3M-39 16.5h3M36 16.5h3M-39 19.5h3M36 19.5h3M-39 22.5h3M33 22.5h6M-39 25.5h6M30 25.5h9M-39 28.5h9M30 28.5h9M-39 31.5h12M27 31.5h9M-36 34.5h12M21 34.5h15M-33 37.5h15M18 37.5h15" stroke="#5064ae" stroke-width="3.3"/><path d="M-3 -37.5h9M-15 -34.5h30M-21 -31.5h9M12 -31.5h9M-24 -28.5h6M18 -28.5h6M-27 -25.5h6M21 -25.5h6M-30 -22.5h6M24 -22.5h6M-33 -19.5h6M27 -19.5h6M-36 -16.5h6M30 -16.5h3M-36 -13.5h3M30 -13.5h6M-39 -10.5h6M33 -10.5h3M-39 -7.5h6M33 -7.5h6M-39 -4.5h3M33 -4.5h6M-39 -1.5h3M33 -1.5h6M-39 1.5h3M33 1.5h6M-39 4.5h3M33 4.5h6M-39 7.5h3M33 7.5h6M-39 10.5h3M33 10.5h6M-39 13.5h6M33 13.5h3M-36 16.5h3M30 16.5h6M-36 19.5h6M30 19.5h6M-36 22.5h6M27 22.5h6M-33 25.5h6M27 25.5h3M-30 28.5h6M24 28.5h6M-27 31.5h6M18 31.5h9M-24 34.5h9M12 34.5h9M-18 37.5h36" stroke="#5069b2" stroke-width="3.3"/><path d="M-12 -31.5h24M-18 -28.5h6M12 -28.5h6M-21 -25.5h3M18 -25.5h3M-24 -22.5h3M21 -22.5h3M-27 -19.5h3M24 -19.5h3M-30 -16.5h3M27 -16.5h3M-33 -13.5h6M27 -13.5h3M-33 -10.5h3M30 -10.5h3M-33 -7.5h3M30 -7.5h3M-36 -4.5h6M30 -4.5h3M-36 -1.5h3M30 -1.5h3M-36 1.5h3M30 1.5h3M-36 4.5h3M30 4.5h3M-36 7.5h3M30 7.5h3M-36 10.5h6M30 10.5h3M-33 13.5h3M30 13.5h3M-33 16.5h3M27 16.5h3M-30 19.5h3M27 19.5h3M-30 22.5h6M24 22.5h3M-27 25.5h3M21 25.5h6M-24 28.5h6M18 28.5h6M-21 31.5h9M12 31.5h6M-15 34.5h27" stroke="#4e6fb5" stroke-width="3.3"/><path d="M-12 -28.5h9M6 -28.5h6M-18 -25.5h6M15 -25.5h3M-21 -22.5h3M18 -22.5h3M-24 -19.5h3M21 -19.5h3M-27 -16.5h3M24 -16.5h3M-27 -13.5h3M24 -13.5h3M-30 -10.5h3M27 -10.5h3M-30 -7.5h3M27 -7.5h3M27 -4.5h3M-33 -1.5h3M-33 1.5h3M-33 4.5h3M27 4.5h3M-33 7.5h3M27 7.5h3M-30 10.5h3M27 10.5h3M-30 13.5h3M27 13.5h3M-30 16.5h3M24 16.5h3M-27 19.5h3M24 19.5h3M-24 22.5h3M21 22.5h3M-24 25.5h6M18 25.5h3M-18 28.5h3M12 28.5h6M-12 31.5h9M0 31.5h12" stroke="#4b75b8" stroke-width="3.3"/><path d="M-3 -28.5h9M-12 -25.5h3M9 -25.5h6M-18 -22.5h3M15 -22.5h3M-21 -19.5h3M18 -19.5h3M-24 -16.5h3M21 -16.5h3M-27 -10.5h3M24 -10.5h3M24 -7.5h3M-30 -4.5h3M-30 -1.5h3M27 -1.5h3M-30 1.5h3M27 1.5h3M-30 4.5h3M-30 7.5h3M24 10.5h3M-27 13.5h3M24 13.5h3M-27 16.5h3M-24 19.5h3M21 19.5h3M-21 22.5h3M18 22.5h3M-18 25.5h3M15 25.5h3M-15 28.5h6M6 28.5h6M-3 31.5h3" stroke="#487dbe" stroke-width="3.3"/><path d="M-9 -25.5h18M-15 -22.5h3M12 -22.5h3M-18 -19.5h3M-21 -16.5h3M18 -16.5h3M-24 -13.5h3M21 -13.5h3M-27 -7.5h3M-27 -4.5h3M24 -4.5h3M-27 -1.5h3M24 -1.5h3M24 1.5h3M-27 4.5h3M24 4.5h3M-27 7.5h3M24 7.5h3M-27 10.5h3M21 13.5h3M-24 16.5h3M21 16.5h3M18 19.5h3M15 22.5h3M-15 25.5h3M12 25.5h3M-9 28.5h15" stroke="#4685c5" stroke-width="3.3"/><path d="M-12 -22.5h6M9 -22.5h3M-15 -19.5h3M15 -19.5h3M-24 -10.5h3M21 -10.5h3M21 -7.5h3M-27 1.5h3M21 10.5h3M-24 13.5h3M18 16.5h3M-21 19.5h3M-18 22.5h3M12 22.5h3M-12 25.5h6M6 25.5h6" stroke="#3d8ecc" stroke-width="3.3"/><path d="M-6 -22.5h6M3 -22.5h6M12 -19.5h3M-18 -16.5h3M15 -16.5h3M-21 -13.5h3M18 -13.5h3M-24 -7.5h3M-24 -4.5h3M21 -4.5h3M21 -1.5h3M21 1.5h3M21 4.5h3M-24 7.5h3M21 7.5h3M-24 10.5h3M18 13.5h3M-21 16.5h3M15 19.5h3M-15 22.5h3M-6 25.5h12" stroke="#3496d4" stroke-width="3.3"/><path d="M0 -22.5h3M-12 -19.5h3M9 -19.5h3M-21 -10.5h3M18 -10.5h3M-24 -1.5h3M-24 1.5h3M-24 4.5h3M18 10.5h3M-21 13.5h3M-18 19.5h3M-12 22.5h3M9 22.5h3" stroke="#289ed7" stroke-width="3.3"/><path d="M-9 -19.5h3M6 -19.5h3M-15 -16.5h3M12 -16.5h3M-18 -13.5h3M15 -13.5h3M-21 -7.5h3M18 -7.5h3M18 7.5h3M-21 10.5h3M15 16.5h3M-15 19.5h3M12 19.5h3M-9 22.5h3M3 22.5h6" stroke="#1ca6da" stroke-width="3.3"/><path d="M-6 -19.5h12M-12 -16.5h3M-21 -4.5h3M18 -4.5h3M18 -1.5h3M18 1.5h3M18 4.5h3M-21 7.5h3M15 13.5h3M-18 16.5h3M-6 22.5h9" stroke="#19acd4" stroke-width="3.3"/><path d="M-9 -16.5h3M12 -13.5h3M15 -7.5h3M15 10.5h3M-15 16.5h3M6 19.5h3" stroke="#19b6c0" stroke-width="3.3"/><path d="M-6 -16.5h3M6 -16.5h3M-18 -7.5h3M15 -4.5h3M15 4.5h3M15 7.5h3M-18 10.5h3M12 13.5h3M-9 19.5h6M3 19.5h3" stroke="#1cb9b4" stroke-width="3.3"/><path d="M-3 -16.5h9M-12 -13.5h3M9 -13.5h3M-15 -10.5h3M12 -10.5h3M-18 -4.5h3M15 -1.5h3M15 1.5h3M-18 7.5h3M9 16.5h3M-3 19.5h6" stroke="#2abcaa" stroke-width="3.3"/><path d="M9 -16.5h3M-15 -13.5h3M-18 -10.5h3M15 -10.5h3M-21 -1.5h3M-21 1.5h3M-21 4.5h3M-18 13.5h3M12 16.5h3M-12 19.5h3M9 19.5h3" stroke="#16b3cd" stroke-width="3.3"/><path d="M-9 -13.5h3M6 -13.5h3M-15 -7.5h3M12 -7.5h3M-9 16.5h3M6 16.5h3" stroke="#46be94" stroke-width="3.3"/><path d="M-6 -13.5h3M-12 -10.5h3M12 7.5h3M-15 10.5h3M9 13.5h3M-6 16.5h3M3 16.5h3" stroke="#55bf87" stroke-width="3.3"/><path d="M-3 -13.5h9M9 -10.5h3M-15 -4.5h3M12 -4.5h3M12 -1.5h3M12 1.5h3M12 4.5h3M-15 7.5h3M-12 13.5h3M-3 16.5h6" stroke="#69c274" stroke-width="3.3"/><path d="M-9 -10.5h3M6 -10.5h3M-12 -7.5h3M9 -7.5h3M-12 10.5h3M-9 13.5h3" stroke="#90c651" stroke-width="3.3"/><path d="M-6 -10.5h3M9 7.5h3M-6 13.5h3M3 13.5h3" stroke="#a2c741" stroke-width="3.3"/><path d="M-3 -10.5h9M-12 -4.5h3M9 -4.5h3M9 4.5h3M-12 7.5h3M6 10.5h3M-3 13.5h6" stroke="#b5c437" stroke-width="3.3"/><path d="M-9 -7.5h3M6 -7.5h3M-12 -1.5h3M9 -1.5h3M-12 1.5h3M9 1.5h3M-12 4.5h3M-9 10.5h3" stroke="#c8c02d" stroke-width="3.3"/><path d="M-6 -7.5h3M3 -7.5h3M-9 -4.5h3M6 -4.5h3M6 4.5h3M-9 7.5h3M-3 10.5h6" stroke="#e6b92d" stroke-width="3.3"/><path d="M-3 -7.5h6M-9 -1.5h3M6 -1.5h3M-9 1.5h3M6 1.5h3M-9 4.5h3M3 7.5h3" stroke="#f0bc32" stroke-width="3.3"/><path d="M-6 -4.5h3M3 -4.5h3M-6 7.5h9" stroke="#fac037" stroke-width="3.3"/><path d="M-3 -4.5h6M-6 -1.5h3M3 -1.5h3M-6 1.5h3M3 1.5h3M-6 4.5h3M3 4.5h3" stroke="#f8c932" stroke-width="3.3"/><path d="M-18 -1.5h3M-18 1.5h3M-18 4.5h3M12 10.5h3M-15 13.5h3M-12 16.5h3" stroke="#38bea0" stroke-width="3.3"/><path d="M-15 -1.5h3M-15 1.5h3M-15 4.5h3M9 10.5h3M6 13.5h3" stroke="#7dc462" stroke-width="3.3"/><path d="M-3 -1.5h6M-3 1.5h6M-3 4.5h6" stroke="#f5d22d" stroke-width="3.3"/><path d="M6 7.5h3M-6 10.5h3M3 10.5h3" stroke="#d7bc2d" stroke-width="3.3"/></g></g>
<circle r="32.8" fill="none" stroke="#333" stroke-width="0.9"/>
<path d="M-25.5 7.8a1.45 1.45 0 1 0 2.9 0a1.45 1.45 0 1 0 -2.9 0M-31.6 9.7a1.45 1.45 0 1 0 2.9 0a1.45 1.45 0 1 0 -2.9 0M-26.5 12.9a1.45 1.45 0 1 0 2.9 0a1.45 1.45 0 1 0 -2.9 0M-21.9 14.7a1.45 1.45 0 1 0 2.9 0a1.45 1.45 0 1 0 -2.9 0M-27.3 18.4a1.45 1.45 0 1 0 2.9 0a1.45 1.45 0 1 0 -2.9 0" fill="#000"/>
</g>
<text x="437.4" y="806.5" class="t" text-anchor="middle">6</text>
<g transform="translate(555.3 829.9)">
<path d="M-32.5 -5.9 C-35.0 -6.3 -36.599999999999994 -5 -36.599999999999994 -2 L-36.599999999999994 5.5 C-36.599999999999994 8.5 -35.0 9.6 -32.5 9.2Z" fill="#fff" stroke="#777" stroke-width="0.8"/><path d="M32.5 -5.9 C35.0 -6.3 36.599999999999994 -5 36.599999999999994 -2 L36.599999999999994 5.5 C36.599999999999994 8.5 35.0 9.6 32.5 9.2Z" fill="#fff" stroke="#777" stroke-width="0.8"/>
<path d="M-6.3 -32.199999999999996 L0 -38.199999999999996 L6.3 -32.199999999999996" fill="none" stroke="#555" stroke-width="0.85"/>
<path d="M-34.199999999999996 -3.8 C-35.599999999999994 -1.5 -35.599999999999994 3 -34.4 6.2 M34.199999999999996 -3.8 C35.599999999999994 -1.5 35.599999999999994 3 34.4 6.2" fill="none" stroke="#aaa" stroke-width="0.6"/>
<g clip-path="url(#cc)"><g filter="url(#bl)"><path d="M-39 -37.5h78M-39 -34.5h30M6 -34.5h33M-39 -31.5h21M9 -31.5h30M-39 -28.5h18M9 -28.5h30M-39 -25.5h18M12 -25.5h27M-39 -22.5h21M12 -22.5h27M-39 -19.5h12M-21 -19.5h3M12 -19.5h27M-39 -16.5h12M9 -16.5h30M-39 -13.5h12M9 -13.5h6M24 -13.5h15M-39 -10.5h12M9 -10.5h3M27 -10.5h12M-39 -7.5h21M9 -7.5h3M27 -7.5h12M-39 -4.5h18M9 -4.5h3M27 -4.5h12M-39 -1.5h3M12 -1.5h3M27 -1.5h12M15 1.5h24M21 4.5h18M36 7.5h3M36 22.5h3M36 25.5h3M33 28.5h6M-39 31.5h3M30 31.5h9M-39 34.5h9M24 34.5h15M-39 37.5h15M18 37.5h21" stroke="#1ca6da" stroke-width="3.3"/><path d="M-9 -34.5h15M-18 -31.5h27M-21 -28.5h30M-21 -25.5h9M0 -25.5h12M-18 -22.5h3M3 -22.5h9M-18 -19.5h3M6 -19.5h6M-18 -16.5h3M6 -16.5h3M-18 -13.5h3M6 -13.5h3M-18 -10.5h3M6 -10.5h3M-18 -7.5h3M6 -7.5h3M-21 -4.5h6M-36 -1.5h18M9 -1.5h3M-39 1.5h15M12 1.5h3M-39 4.5h12M15 4.5h6M-39 7.5h9M21 7.5h15M-39 10.5h6M24 10.5h15M-39 13.5h6M27 13.5h12M-39 16.5h6M27 16.5h12M-39 19.5h9M24 19.5h15M-39 22.5h9M24 22.5h12M-39 25.5h12M21 25.5h15M-39 28.5h18M15 28.5h18M-36 31.5h21M9 31.5h21M-30 34.5h54M-24 37.5h42" stroke="#19acd4" stroke-width="3.3"/><path d="M-12 -25.5h12M-15 -22.5h3M-3 -22.5h6M-15 -19.5h3M0 -19.5h6M3 -16.5h3M-15 -13.5h3M3 -13.5h3M-15 -10.5h3M3 -10.5h3M-15 -7.5h6M-15 -4.5h6M6 -4.5h3M-18 -1.5h6M6 -1.5h3M-24 1.5h9M9 1.5h3M-27 4.5h6M12 4.5h3M-30 7.5h6M18 7.5h3M-33 10.5h6M21 10.5h3M-33 13.5h6M21 13.5h6M-33 16.5h6M21 16.5h6M-30 19.5h3M21 19.5h3M-30 22.5h6M18 22.5h6M-27 25.5h6M15 25.5h6M-21 28.5h6M9 28.5h6M-15 31.5h24" stroke="#16b3cd" stroke-width="3.3"/><path d="M-12 -22.5h9M-12 -19.5h3M-6 -19.5h6M-15 -16.5h3M-3 -16.5h6M0 -13.5h3M-12 -10.5h3M0 -10.5h3M-9 -7.5h3M3 -7.5h3M-9 -4.5h3M3 -4.5h3M-12 -1.5h3M-15 1.5h3M-21 4.5h3M-24 7.5h3M15 7.5h3M-27 10.5h3M18 10.5h3M-27 13.5h3M18 13.5h3M-27 16.5h3M18 16.5h3M-27 19.5h3M18 19.5h3M-24 22.5h3M15 22.5h3M-21 25.5h6M9 25.5h6M-15 28.5h24" stroke="#19b6c0" stroke-width="3.3"/><path d="M-27 -19.5h6M-27 -16.5h3M-21 -16.5h3M-27 -13.5h3M-21 -13.5h3M15 -13.5h9M-27 -10.5h9M12 -10.5h15M12 -7.5h3M24 -7.5h3M12 -4.5h3M24 -4.5h3M15 -1.5h3M21 -1.5h6" stroke="#289ed7" stroke-width="3.3"/><path d="M-9 -19.5h3M-12 -16.5h9M-12 -13.5h12M-9 -10.5h9M-6 -7.5h9M-6 -4.5h9M-9 -1.5h3M3 -1.5h3M-12 1.5h3M6 1.5h3M-18 4.5h6M9 4.5h3M-21 7.5h3M12 7.5h3M-24 10.5h3M15 10.5h3M-24 13.5h3M15 13.5h3M-24 16.5h3M15 16.5h3M-24 19.5h3M15 19.5h3M-21 22.5h3M12 22.5h3M-15 25.5h3M6 25.5h3" stroke="#1cb9b4" stroke-width="3.3"/><path d="M-24 -16.5h3M-24 -13.5h3M15 -7.5h9M15 -4.5h9M18 -1.5h3" stroke="#3496d4" stroke-width="3.3"/><path d="M-6 -1.5h9M-9 1.5h3M3 1.5h3M-12 4.5h3M6 4.5h3M-18 7.5h3M9 7.5h3M-21 10.5h3M12 10.5h3M12 13.5h3M-21 16.5h3M12 16.5h3M-21 19.5h3M12 19.5h3M-18 22.5h3M9 22.5h3M-12 25.5h18" stroke="#2abcaa" stroke-width="3.3"/><path d="M-6 1.5h3M0 1.5h3M-15 7.5h3M-18 10.5h3M9 10.5h3M-21 13.5h3M-18 19.5h3M9 19.5h3M-15 22.5h3M6 22.5h3" stroke="#38bea0" stroke-width="3.3"/><path d="M-3 1.5h3M-9 4.5h3M3 4.5h3M-12 7.5h3M6 7.5h3M-18 13.5h3M9 13.5h3M-18 16.5h3M9 16.5h3M-15 19.5h3M6 19.5h3M-12 22.5h6M0 22.5h6" stroke="#46be94" stroke-width="3.3"/><path d="M-6 4.5h9M-9 7.5h3M3 7.5h3M-15 10.5h3M6 10.5h3M-15 13.5h3M-15 16.5h3M6 16.5h3M-12 19.5h3M-6 22.5h6" stroke="#55bf87" stroke-width="3.3"/><path d="M-6 7.5h3M-12 10.5h3M6 13.5h3M-9 19.5h3M3 19.5h3" stroke="#69c274" stroke-width="3.3"/><path d="M-3 7.5h6M-9 10.5h3M3 10.5h3M-12 13.5h3M3 13.5h3M-12 16.5h3M3 16.5h3M-6 19.5h9" stroke="#7dc462" stroke-width="3.3"/><path d="M-6 10.5h3M0 10.5h3M-9 13.5h3M-9 16.5h6M0 16.5h3" stroke="#90c651" stroke-width="3.3"/><path d="M-3 10.5h3M-6 13.5h9M-3 16.5h3" stroke="#a2c741" stroke-width="3.3"/></g></g>
<circle r="32.8" fill="none" stroke="#333" stroke-width="0.9"/>
<path d="M-10.2 9.1a1.45 1.45 0 1 0 2.9 0a1.45 1.45 0 1 0 -2.9 0M-4.4 9.1a1.45 1.45 0 1 0 2.9 0a1.45 1.45 0 1 0 -2.9 0M1.2 9.1a1.45 1.45 0 1 0 2.9 0a1.45 1.45 0 1 0 -2.9 0M6.7 9.1a1.45 1.45 0 1 0 2.9 0a1.45 1.45 0 1 0 -2.9 0M-12.3 12.9a1.45 1.45 0 1 0 2.9 0a1.45 1.45 0 1 0 -2.9 0M-7.0 12.9a1.45 1.45 0 1 0 2.9 0a1.45 1.45 0 1 0 -2.9 0M-1.4 12.9a1.45 1.45 0 1 0 2.9 0a1.45 1.45 0 1 0 -2.9 0M3.6 12.9a1.45 1.45 0 1 0 2.9 0a1.45 1.45 0 1 0 -2.9 0M8.7 12.9a1.45 1.45 0 1 0 2.9 0a1.45 1.45 0 1 0 -2.9 0M-13.2 16.4a1.45 1.45 0 1 0 2.9 0a1.45 1.45 0 1 0 -2.9 0M-4.1 15.9a1.45 1.45 0 1 0 2.9 0a1.45 1.45 0 1 0 -2.9 0M0.9 15.9a1.45 1.45 0 1 0 2.9 0a1.45 1.45 0 1 0 -2.9 0M9.9 16.4a1.45 1.45 0 1 0 2.9 0a1.45 1.45 0 1 0 -2.9 0M-9.3 19.4a1.45 1.45 0 1 0 2.9 0a1.45 1.45 0 1 0 -2.9 0M-1.4 18.7a1.45 1.45 0 1 0 2.9 0a1.45 1.45 0 1 0 -2.9 0M5.9 19.4a1.45 1.45 0 1 0 2.9 0a1.45 1.45 0 1 0 -2.9 0" fill="#000"/>
</g>
<text x="522.5" y="806.5" class="t" text-anchor="middle">7</text>
</svg></body></html>
